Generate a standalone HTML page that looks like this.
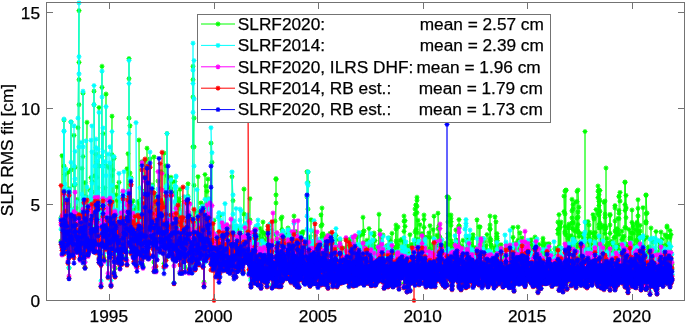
<!DOCTYPE html><html><head><meta charset="utf-8"><style>
html,body{margin:0;padding:0;background:#fff;overflow:hidden;}
svg{display:block;will-change:transform;}
text{font-family:"Liberation Sans",sans-serif;fill:#000;stroke:#000;stroke-width:0.25px;}
.tx{opacity:0.999;}
</style></head><body>
<svg width="685" height="323" viewBox="0 0 685 323">
<defs>
<marker id="mg" markerUnits="userSpaceOnUse" markerWidth="8" markerHeight="8" refX="0" refY="0" overflow="visible"><path d="M-2.5 0H2.5M0 -2.5V2.5M-1.7 -1.7L1.7 1.7M-1.7 1.7L1.7 -1.7" stroke="#00ff00" stroke-width="1.1" fill="none"/></marker><marker id="mc" markerUnits="userSpaceOnUse" markerWidth="8" markerHeight="8" refX="0" refY="0" overflow="visible"><path d="M-2.5 0H2.5M0 -2.5V2.5M-1.7 -1.7L1.7 1.7M-1.7 1.7L1.7 -1.7" stroke="#00ffff" stroke-width="1.1" fill="none"/></marker><marker id="mm" markerUnits="userSpaceOnUse" markerWidth="8" markerHeight="8" refX="0" refY="0" overflow="visible"><path d="M-2.5 0H2.5M0 -2.5V2.5M-1.7 -1.7L1.7 1.7M-1.7 1.7L1.7 -1.7" stroke="#ff00ff" stroke-width="1.1" fill="none"/></marker><marker id="mr" markerUnits="userSpaceOnUse" markerWidth="8" markerHeight="8" refX="0" refY="0" overflow="visible"><path d="M-2.5 0H2.5M0 -2.5V2.5M-1.7 -1.7L1.7 1.7M-1.7 1.7L1.7 -1.7" stroke="#ff0000" stroke-width="1.1" fill="none"/></marker><marker id="mb" markerUnits="userSpaceOnUse" markerWidth="8" markerHeight="8" refX="0" refY="0" overflow="visible"><path d="M-2.5 0H2.5M0 -2.5V2.5M-1.7 -1.7L1.7 1.7M-1.7 1.7L1.7 -1.7" stroke="#0000ff" stroke-width="1.1" fill="none"/></marker><clipPath id="ax"><rect x="40" y="0" width="650" height="306"/></clipPath></defs>
<g clip-path="url(#ax)" fill="none" stroke-width="0.75">
<polyline points="61,241.1 61,217.7 62,222.9 62,155.7 62,244.5 63,248.1 63,219.1 63,227.3 63,222.0 64,120.0 64,166.1 64,219.7 64,204.4 65,229.4 65,246.3 65,190.8 65,174.5 66,238.0 66,223.3 66,213.2 67,224.2 67,196.7 67,216.1 67,243.4 68,250.5 68,233.9 68,172.2 68,217.7 69,255.6 69,267.9 69,205.1 69,188.8 70,247.0 70,208.5 70,235.1 71,235.9 71,211.9 71,121.9 71,169.9 72,238.7 72,224.3 72,235.3 72,213.2 73,241.7 73,238.4 73,215.9 73,223.7 74,213.7 74,135.4 74,185.3 75,167.3 75,230.6 75,184.6 75,208.0 76,222.7 76,248.0 76,207.9 76,214.9 77,248.9 77,199.4 77,238.0 77,246.0 78,235.7 78,215.2 78,127.7 79,10.6 79,62.4 79,79.7 79,104.7 80,254.0 80,249.2 80,230.9 80,222.7 81,231.3 81,226.2 81,220.1 81,251.6 82,168.3 82,211.2 82,241.3 83,233.1 83,93.1 83,156.5 83,231.8 84,228.1 84,240.6 84,196.6 84,212.1 85,223.5 85,211.9 85,182.6 85,267.4 86,233.0 86,197.1 86,217.2 87,122.3 87,232.8 87,203.9 87,241.1 88,252.4 88,252.6 88,203.8 88,238.9 89,208.4 89,231.5 89,250.6 90,221.6 90,190.3 90,237.6 90,241.2 91,177.6 91,227.2 91,224.3 91,241.2 92,228.7 92,233.9 92,192.1 92,181.6 93,206.2 93,206.6 93,218.5 94,231.3 94,236.0 94,91.2 94,104.7 95,175.7 95,229.0 95,209.7 95,235.3 96,165.6 96,230.6 96,228.1 96,154.2 97,177.4 97,161.4 97,225.4 98,187.7 98,206.8 98,203.5 98,217.6 99,230.2 99,229.3 99,107.5 99,166.1 100,250.6 100,245.2 100,225.6 100,204.3 101,242.0 101,243.0 101,286.0 102,66.3 102,87.4 102,156.5 102,238.5 103,133.6 103,198.6 103,165.9 103,237.1 104,257.1 104,228.4 104,231.9 104,203.8 105,232.7 105,187.8 105,230.1 106,222.3 106,215.2 106,94.1 106,166.1 107,231.2 107,215.2 107,225.2 107,228.1 108,229.6 108,222.2 108,261.5 108,239.8 109,198.9 109,218.3 109,167.7 110,164.7 110,231.0 110,198.6 110,211.1 111,285.0 111,236.1 111,231.5 111,215.7 112,116.2 112,175.7 112,229.4 112,154.7 113,169.9 113,239.1 113,209.0 114,244.9 114,158.4 114,272.4 114,220.2 115,212.7 115,268.1 115,225.1 115,221.0 116,220.4 116,219.2 116,195.1 117,186.9 117,237.6 117,240.6 117,200.5 118,257.1 118,218.7 118,253.8 118,261.9 119,237.0 119,182.4 119,231.8 119,253.0 120,232.5 120,251.9 120,253.7 121,254.0 121,261.5 121,214.8 121,232.3 122,240.5 122,257.3 122,260.7 122,250.6 123,192.5 123,242.9 123,235.9 123,215.5 124,225.3 124,241.9 124,239.1 125,224.0 125,229.5 125,222.2 125,217.5 126,207.0 126,257.5 126,232.6 126,199.6 127,202.6 127,217.2 127,168.7 127,251.7 128,216.7 128,209.2 128,153.7 129,205.1 129,58.6 129,78.7 129,118.1 130,125.8 130,243.1 130,173.0 130,184.2 131,240.5 131,177.7 131,206.4 131,241.5 132,236.6 132,210.5 132,204.9 133,200.8 133,231.8 133,255.4 133,209.1 134,232.3 134,256.8 134,257.1 134,248.3 135,229.5 135,207.0 135,230.6 135,208.4 136,248.6 136,232.6 136,253.0 137,228.2 137,212.4 137,266.0 137,252.5 138,221.2 138,202.9 138,247.1 138,201.5 139,232.6 139,214.9 139,223.7 139,140.1 140,260.2 140,203.6 140,228.3 141,238.1 141,207.3 141,220.8 141,199.5 142,263.6 142,242.8 142,161.7 142,211.8 143,203.9 143,234.4 143,230.9 143,266.4 144,245.7 144,223.6 144,224.4 145,160.5 145,204.4 145,190.9 145,174.2 146,244.9 146,254.6 146,207.8 146,231.6 147,183.9 147,148.2 147,237.4 148,218.8 148,179.3 148,190.9 148,245.4 149,219.4 149,256.6 149,196.2 149,233.9 150,158.9 150,224.8 150,205.0 150,208.6 151,230.4 151,190.4 151,191.0 152,185.1 152,221.1 152,204.3 152,236.1 153,202.8 153,235.3 153,243.1 153,237.0 154,262.1 154,156.9 154,218.4 154,227.7 155,211.1 155,230.6 155,194.5 156,270.3 156,236.0 156,238.4 156,207.2 157,197.6 157,231.4 157,238.0 157,251.2 158,193.5 158,211.0 158,181.0 158,214.0 159,206.8 159,212.9 159,232.1 160,218.1 160,188.8 160,237.0 160,203.5 161,205.8 161,219.0 161,210.8 161,171.6 162,225.4 162,239.5 162,213.2 162,224.9 163,225.4 163,241.2 163,246.7 164,263.5 164,234.4 164,231.6 164,153.1 165,246.2 165,231.7 165,217.8 165,203.1 166,258.6 166,189.2 166,165.8 166,224.0 167,220.8 167,133.5 167,175.7 168,244.3 168,232.4 168,223.2 168,237.3 169,222.1 169,242.8 169,240.5 169,240.3 170,231.6 170,227.6 170,187.2 170,178.5 171,215.1 171,177.3 171,188.8 172,181.9 172,231.6 172,240.1 172,243.4 173,231.9 173,221.3 173,250.1 173,241.5 174,282.8 174,226.7 174,237.5 175,229.8 175,181.5 175,192.4 175,234.8 176,192.0 176,196.2 176,253.8 176,194.0 177,223.0 177,223.2 177,234.4 177,249.8 178,230.2 178,255.2 178,236.4 179,198.9 179,253.8 179,244.8 179,201.4 180,272.8 180,249.3 180,248.9 180,189.3 181,231.5 181,245.6 181,242.9 181,232.6 182,237.9 182,257.8 182,231.9 183,224.6 183,252.9 183,247.8 183,213.4 184,202.0 184,213.2 184,253.2 184,217.4 185,223.6 185,254.8 185,229.6 185,267.2 186,213.1 186,229.4 186,232.1 187,200.6 187,197.3 187,240.0 187,216.6 188,183.8 188,196.3 188,232.4 188,237.6 189,260.9 189,234.2 189,229.7 189,213.0 190,216.1 190,251.0 190,264.8 191,239.4 191,256.6 191,247.3 191,246.3 192,218.3 192,259.0 192,247.4 192,257.1 193,79.7 193,66.3 193,97.0 193,146.9 194,118.1 194,146.9 194,185.3 195,238.3 195,253.0 195,264.0 195,245.7 196,244.9 196,232.9 196,212.1 196,263.8 197,244.0 197,237.6 197,221.7 197,252.7 198,247.1 198,176.7 198,214.0 199,221.0 199,233.6 199,257.0 199,232.3 200,251.3 200,251.7 200,255.7 200,243.8 201,202.9 201,227.7 201,208.3 201,237.7 202,225.3 202,230.9 202,239.3 203,210.8 203,244.3 203,239.4 203,205.4 204,240.5 204,282.2 204,241.3 204,208.6 205,237.2 205,174.5 205,232.6 206,252.2 206,244.9 206,228.3 206,186.1 207,255.5 207,225.8 207,223.5 207,191.4 208,179.1 208,240.4 208,226.0 208,215.3 209,198.9 209,214.0 209,249.4 210,253.7 210,233.3 210,226.3 210,226.5 211,245.6 211,225.8 211,262.8 211,143.1 212,162.3 212,249.0 212,243.0 212,229.1 213,259.2 213,252.2 213,268.8 214,249.3 214,220.3 214,264.1 214,255.3 215,256.1 215,252.2 215,249.9 215,259.3 216,276.3 216,260.2 216,237.3 216,246.7 217,267.9 217,254.9 217,235.6 218,256.4 218,233.8 218,273.3 218,234.3 219,259.2 219,233.9 219,269.7 219,276.6 220,264.3 220,215.5 220,253.2 220,251.9 221,264.2 221,261.7 221,242.3 222,228.4 222,249.0 222,247.2 222,243.3 223,254.4 223,248.9 223,233.1 223,255.9 224,234.7 224,231.9 224,264.3 224,247.8 225,260.4 225,255.6 225,236.5 226,236.6 226,248.2 226,264.8 226,266.1 227,248.8 227,268.0 227,231.6 227,226.7 228,257.9 228,259.6 228,232.7 228,252.2 229,271.2 229,264.2 229,245.5 230,260.9 230,249.5 230,249.9 230,234.3 231,235.3 231,226.5 231,241.8 231,248.5 232,244.5 232,254.4 232,176.7 233,200.7 233,242.3 233,230.7 233,241.7 234,251.7 234,230.5 234,273.9 234,252.2 235,253.0 235,243.8 235,255.5 235,240.6 236,244.9 236,242.8 236,270.5 237,255.9 237,239.0 237,237.1 237,257.3 238,235.8 238,269.4 238,230.0 238,246.5 239,252.9 239,254.5 239,236.0 239,262.7 240,231.4 240,253.6 240,227.9 241,244.9 241,248.2 241,250.2 241,247.6 242,263.6 242,235.6 242,250.6 242,255.5 243,272.9 243,239.5 243,253.4 243,261.6 244,189.1 244,214.1 244,237.7 245,245.6 245,248.1 245,257.7 245,238.6 246,228.3 246,247.6 246,234.6 246,251.7 247,259.1 247,234.8 247,248.8 247,244.6 248,247.6 248,232.5 248,243.3 249,253.8 249,236.0 249,257.6 249,273.3 250,198.7 250,219.9 250,247.3 250,249.0 250,265.2 251,285.4 251,259.1 251,278.2 251,259.5 251,256.8 251,233.6 251,254.1 252,241.9 252,254.8 252,242.6 252,252.3 252,261.4 252,263.1 253,276.9 253,269.7 253,259.9 253,235.6 253,260.3 253,257.5 253,266.8 254,262.7 254,269.8 254,264.2 254,252.6 254,267.1 254,255.6 255,228.6 255,278.5 255,282.8 255,254.0 255,240.3 255,230.0 255,254.9 256,235.0 256,253.0 256,253.9 256,266.4 256,228.1 256,267.4 257,255.8 257,274.6 257,242.8 257,258.1 257,274.9 257,276.0 257,252.5 258,281.4 258,263.7 258,259.1 258,276.0 258,270.7 258,276.7 259,274.2 259,269.3 259,235.7 259,265.4 259,257.2 259,272.3 259,255.7 260,263.5 260,272.1 260,252.4 260,268.6 260,228.3 260,268.4 261,272.8 261,273.9 261,287.5 261,256.3 261,262.5 261,277.7 261,285.3 262,249.5 262,271.2 262,239.0 262,231.7 262,251.7 262,240.2 263,222.0 263,261.2 263,262.7 263,232.7 263,277.7 263,248.4 263,260.3 264,252.4 264,274.6 264,253.6 264,240.5 264,271.2 264,264.1 265,270.9 265,278.9 265,278.5 265,276.8 265,269.8 265,233.4 266,266.8 266,279.7 266,234.7 266,272.9 266,262.7 266,273.4 266,269.4 267,262.4 267,277.5 267,271.3 267,283.6 267,274.2 267,262.9 268,231.2 268,243.2 268,243.1 268,237.7 268,245.6 268,226.0 268,251.8 269,243.8 269,246.1 269,263.8 269,266.4 269,234.6 269,272.3 270,254.0 270,277.1 270,262.7 270,242.4 270,266.6 270,257.8 270,257.4 271,258.7 271,255.7 271,230.7 271,235.1 271,258.9 271,262.9 272,257.2 272,255.2 272,256.9 272,262.6 272,255.7 272,240.6 272,285.3 273,272.5 273,264.7 273,267.5 273,270.1 273,270.1 273,254.7 274,266.2 274,254.1 274,281.6 274,251.7 274,256.7 274,250.7 274,269.9 275,255.1 275,252.0 275,272.4 275,256.8 275,272.5 275,221.1 276,203.0 276,178.6 276,179.5 276,194.9 276,279.1 276,271.7 276,234.4 277,269.2 277,249.0 277,245.3 277,234.5 277,242.4 277,273.0 278,269.3 278,254.7 278,247.9 278,249.5 278,241.3 278,255.8 278,264.7 279,257.1 279,251.0 279,265.5 279,254.1 279,277.2 279,273.0 280,245.4 280,261.5 280,239.8 280,240.4 280,275.3 280,278.6 280,266.0 281,279.5 281,267.3 281,275.6 281,248.0 281,246.1 281,218.7 282,229.6 282,217.0 282,259.5 282,279.1 282,274.4 282,281.1 282,268.4 283,231.5 283,260.3 283,274.0 283,263.8 283,252.2 283,248.8 284,272.2 284,251.8 284,245.5 284,252.7 284,264.5 284,263.0 284,246.3 285,254.6 285,271.2 285,271.6 285,270.6 285,238.9 285,272.3 286,246.1 286,234.8 286,256.7 286,264.3 286,264.5 286,246.7 286,259.9 287,256.8 287,253.7 287,258.4 287,268.6 287,271.2 287,259.3 288,265.5 288,244.2 288,248.4 288,228.0 288,239.6 288,246.9 288,233.7 289,245.4 289,234.5 289,243.7 289,255.3 289,257.7 289,233.0 290,261.6 290,260.2 290,254.4 290,271.7 290,279.8 290,268.3 290,271.0 291,255.5 291,274.5 291,252.7 291,279.9 291,243.1 291,263.4 292,266.8 292,242.8 292,237.1 292,245.1 292,261.7 292,239.2 292,269.1 293,276.9 293,281.1 293,256.7 293,249.8 293,240.8 293,236.7 294,274.3 294,242.7 294,250.0 294,277.4 294,256.6 294,264.5 294,216.0 295,256.7 295,283.7 295,280.4 295,258.3 295,265.5 295,276.9 296,250.1 296,231.4 296,241.9 296,263.0 296,257.7 296,271.3 296,254.2 297,283.6 297,240.8 297,234.4 297,284.2 297,261.8 297,266.7 298,241.8 298,248.2 298,241.8 298,237.1 298,262.9 298,268.1 299,286.9 299,262.9 299,276.2 299,260.2 299,253.0 299,267.0 299,255.6 300,246.3 300,241.0 300,271.2 300,274.9 300,245.6 300,259.6 301,242.8 301,266.2 301,233.2 301,255.8 301,235.8 301,271.1 301,274.5 302,233.8 302,254.6 302,265.4 302,254.2 302,271.0 302,234.4 303,259.0 303,256.2 303,268.9 303,231.7 303,259.4 303,247.4 303,250.0 304,253.7 304,263.7 304,274.5 304,273.8 304,260.5 304,262.9 305,265.6 305,278.9 305,268.7 305,281.0 305,268.2 305,260.9 305,240.1 306,245.5 306,273.6 306,249.9 306,280.2 306,277.2 306,249.5 307,258.7 307,263.5 307,262.9 307,267.6 307,266.0 307,197.0 307,171.8 308,209.1 308,171.9 308,182.7 308,255.7 308,257.4 308,282.8 309,247.9 309,260.5 309,277.0 309,246.9 309,270.4 309,267.9 309,250.5 310,236.8 310,240.6 310,268.7 310,285.0 310,259.8 310,283.4 311,275.7 311,258.8 311,262.8 311,248.0 311,219.7 311,270.1 311,248.6 312,273.8 312,252.8 312,257.5 312,274.2 312,247.0 312,257.6 313,242.6 313,283.5 313,269.4 313,255.0 313,279.0 313,266.7 313,265.3 314,265.7 314,253.0 314,231.5 314,250.3 314,241.6 314,269.4 315,270.1 315,269.6 315,260.9 315,235.5 315,259.2 315,271.2 315,271.5 316,252.0 316,266.3 316,271.3 316,248.6 316,280.7 316,248.3 317,259.5 317,259.2 317,271.6 317,251.1 317,269.7 317,240.3 317,269.5 318,250.2 318,260.6 318,246.5 318,268.0 318,251.5 318,286.3 319,278.4 319,260.2 319,268.3 319,250.5 319,263.2 319,243.8 319,253.4 320,249.3 320,243.0 320,248.2 320,274.3 320,268.2 320,254.5 321,276.1 321,272.5 321,283.9 321,274.6 321,278.4 321,226.0 321,214.8 322,224.7 322,208.0 322,237.4 322,234.6 322,246.6 322,237.1 323,264.7 323,259.2 323,270.9 323,282.7 323,233.7 323,269.5 323,254.9 324,255.8 324,258.8 324,279.6 324,251.2 324,264.3 324,256.8 325,264.7 325,263.5 325,272.0 325,254.3 325,266.7 325,278.4 325,265.3 326,243.3 326,236.4 326,244.5 326,239.9 326,250.0 326,252.4 327,267.4 327,269.2 327,263.1 327,256.3 327,264.4 327,264.5 327,259.9 328,266.3 328,260.7 328,274.5 328,287.5 328,239.4 328,246.2 329,256.7 329,264.3 329,271.4 329,268.5 329,262.3 329,280.5 329,272.4 330,272.8 330,258.8 330,253.5 330,258.6 330,243.0 330,233.4 331,242.6 331,235.5 331,277.0 331,255.6 331,272.5 331,269.1 331,260.1 332,270.8 332,272.6 332,238.8 332,244.6 332,248.6 332,253.4 333,272.3 333,283.2 333,274.1 333,277.2 333,271.2 333,277.0 334,269.4 334,262.4 334,267.3 334,281.2 334,274.6 334,257.7 334,255.7 335,255.7 335,251.3 335,244.6 335,272.1 335,276.8 335,266.2 336,235.5 336,251.9 336,261.4 336,275.7 336,254.6 336,257.1 336,239.6 337,279.2 337,263.1 337,246.8 337,269.5 337,276.7 337,265.8 338,270.9 338,252.0 338,269.0 338,263.1 338,275.3 338,261.0 338,272.0 339,260.9 339,269.8 339,254.8 339,266.4 339,277.7 339,267.6 340,270.0 340,269.0 340,274.8 340,245.1 340,245.4 340,240.2 340,265.2 341,266.4 341,248.9 341,265.8 341,278.2 341,275.7 341,265.7 342,254.5 342,276.0 342,278.5 342,268.6 342,270.3 342,263.9 342,270.3 343,278.9 343,274.7 343,262.2 343,267.4 343,281.4 343,254.9 344,265.9 344,262.4 344,248.2 344,255.1 344,253.3 344,272.0 344,281.8 345,276.4 345,266.8 345,256.8 345,275.7 345,262.8 345,256.9 346,249.1 346,251.8 346,266.2 346,256.1 346,274.6 346,238.6 346,268.4 347,276.3 347,276.8 347,267.9 347,250.6 347,263.3 347,266.8 348,265.5 348,266.4 348,279.9 348,256.5 348,272.5 348,262.7 348,265.7 349,259.5 349,264.9 349,272.5 349,286.2 349,272.2 349,245.6 350,272.1 350,258.5 350,263.8 350,268.5 350,279.4 350,248.1 350,239.2 351,276.5 351,252.5 351,249.9 351,270.1 351,275.4 351,255.5 352,255.4 352,241.1 352,247.4 352,264.9 352,261.9 352,273.9 352,268.4 353,265.6 353,285.1 353,260.1 353,257.8 353,245.3 353,255.7 354,274.9 354,265.0 354,275.6 354,282.8 354,267.4 354,281.1 354,260.3 355,252.2 355,246.0 355,267.8 355,244.5 355,264.1 355,262.5 356,274.3 356,260.1 356,267.9 356,258.4 356,277.6 356,274.2 356,270.6 357,270.0 357,271.0 357,247.5 357,236.9 357,263.8 357,236.7 358,249.9 358,257.8 358,247.5 358,278.3 358,260.3 358,274.2 358,274.3 359,262.7 359,251.6 359,246.9 359,266.4 359,252.7 359,276.2 360,269.4 360,266.5 360,278.1 360,235.5 360,246.0 360,246.0 360,270.1 361,260.3 361,251.4 361,259.1 361,252.6 361,278.9 361,263.7 362,249.9 362,261.2 362,270.6 362,253.3 362,260.2 362,276.1 362,268.9 363,270.7 363,256.5 363,258.1 363,232.2 363,234.5 363,217.3 364,230.9 364,242.7 364,284.8 364,268.3 364,272.1 364,271.9 364,271.3 365,271.3 365,268.4 365,262.7 365,274.1 365,247.9 365,259.5 366,271.4 366,249.1 366,261.9 366,246.9 366,251.3 366,270.3 367,251.6 367,240.3 367,256.1 367,264.6 367,266.9 367,260.4 367,267.8 368,265.0 368,279.9 368,273.6 368,262.2 368,265.5 368,267.0 369,264.4 369,274.3 369,258.0 369,228.5 369,268.6 369,264.8 369,260.3 370,244.0 370,251.0 370,245.4 370,242.4 370,257.0 370,246.7 371,270.3 371,277.8 371,244.9 371,272.1 371,285.0 371,253.1 371,270.6 372,265.3 372,268.4 372,266.6 372,283.1 372,266.5 372,271.2 373,262.5 373,270.5 373,268.3 373,276.3 373,247.0 373,254.4 373,268.8 374,259.0 374,278.6 374,248.8 374,235.4 374,246.3 374,233.0 375,240.6 375,251.6 375,253.9 375,277.9 375,266.0 375,267.2 375,270.8 376,268.6 376,268.0 376,260.4 376,263.9 376,282.6 376,283.8 377,247.0 377,267.9 377,272.1 377,269.9 377,269.2 377,259.9 377,252.5 378,268.7 378,274.0 378,274.9 378,268.1 378,249.9 378,265.4 379,214.3 379,250.4 379,272.4 379,259.6 379,245.6 379,263.6 379,256.2 380,274.9 380,247.9 380,251.9 380,253.0 380,275.7 380,230.5 381,255.0 381,260.1 381,237.3 381,243.5 381,267.6 381,249.4 381,272.6 382,264.5 382,250.9 382,250.3 382,253.9 382,250.6 382,247.8 383,235.0 383,256.4 383,270.7 383,274.1 383,275.2 383,252.8 383,256.0 384,268.4 384,278.6 384,276.1 384,252.8 384,254.5 384,267.0 385,267.7 385,259.9 385,255.6 385,265.7 385,263.8 385,267.6 385,282.2 386,284.6 386,271.6 386,254.7 386,264.6 386,251.4 386,257.5 387,272.3 387,276.0 387,259.0 387,266.3 387,245.5 387,250.3 387,282.6 388,256.9 388,257.6 388,275.2 388,275.0 388,286.0 388,251.0 389,264.5 389,274.7 389,267.7 389,238.0 389,245.6 389,254.5 389,262.6 390,259.0 390,240.5 390,256.8 390,275.9 390,278.2 390,256.6 391,252.1 391,257.9 391,275.2 391,247.3 391,273.7 391,255.5 391,272.2 392,256.5 392,269.4 392,258.7 392,272.6 392,233.3 392,278.8 393,266.1 393,260.1 393,272.1 393,265.1 393,255.7 393,284.2 393,282.9 394,279.8 394,264.8 394,266.6 394,266.5 394,262.3 394,248.1 395,253.8 395,261.1 395,279.4 395,281.4 395,267.4 395,269.9 395,261.5 396,229.0 396,251.3 396,241.1 396,246.8 396,225.0 396,261.3 397,261.8 397,264.8 397,255.6 397,261.4 397,246.4 397,243.6 397,247.2 398,227.0 398,255.2 398,254.4 398,265.1 398,245.9 398,269.4 399,281.9 399,258.3 399,272.7 399,264.0 399,284.8 399,278.6 400,265.8 400,273.5 400,263.4 400,240.3 400,268.0 400,273.1 400,263.0 401,257.0 401,260.3 401,260.8 401,271.6 401,270.6 401,277.5 402,269.7 402,261.1 402,253.7 402,262.4 402,239.2 402,272.0 402,275.8 403,273.0 403,259.1 403,240.2 403,250.9 403,254.7 403,259.1 404,253.1 404,283.6 404,258.3 404,241.5 404,221.2 404,216.0 404,231.4 405,220.6 405,226.4 405,263.8 405,260.4 405,248.4 405,259.0 406,260.0 406,266.7 406,279.5 406,257.0 406,250.3 406,253.3 406,273.1 407,282.5 407,288.6 407,245.9 407,260.2 407,271.3 407,249.5 408,259.6 408,284.6 408,263.8 408,268.5 408,259.3 408,269.6 408,258.7 409,248.4 409,270.3 409,274.5 409,255.6 409,256.0 409,256.3 410,234.7 410,279.4 410,289.9 410,263.2 410,267.8 410,266.1 410,269.8 411,270.4 411,252.1 411,276.1 411,276.4 411,248.5 411,257.5 412,260.6 412,272.6 412,245.1 412,244.4 412,263.1 412,276.2 412,261.5 413,248.8 413,267.8 413,256.7 413,265.0 413,270.7 413,277.8 414,261.7 414,247.6 414,279.8 414,252.6 414,263.1 414,251.0 414,261.1 415,260.6 415,232.0 415,260.8 415,209.0 415,214.2 415,241.8 416,229.5 416,205.0 416,205.0 416,274.5 416,273.8 416,239.3 416,254.5 417,272.9 417,206.3 417,200.3 417,197.3 417,212.7 417,232.7 418,220.3 418,239.6 418,243.8 418,243.5 418,256.2 418,259.4 418,244.0 419,273.5 419,278.3 419,262.9 419,281.4 419,256.9 419,245.0 420,224.7 420,244.3 420,258.3 420,256.7 420,269.8 420,268.0 420,279.4 421,266.2 421,260.7 421,253.8 421,257.1 421,258.2 421,259.1 422,264.5 422,259.5 422,250.9 422,233.5 422,248.9 422,277.4 422,263.2 423,273.8 423,243.6 423,251.6 423,268.2 423,265.4 423,244.3 424,215.0 424,237.0 424,247.1 424,219.4 424,227.4 424,267.4 424,253.9 425,263.3 425,247.1 425,245.1 425,245.6 425,259.6 425,268.5 426,273.7 426,284.5 426,280.9 426,252.4 426,263.5 426,274.6 426,271.2 427,267.0 427,236.9 427,274.4 427,272.2 427,283.2 427,272.2 428,255.5 428,267.3 428,269.8 428,272.3 428,278.1 428,265.1 428,264.2 429,254.7 429,269.2 429,269.5 429,232.9 429,279.6 429,263.7 430,273.3 430,225.7 430,253.3 430,237.3 430,248.7 430,253.5 430,250.4 431,251.6 431,266.4 431,268.2 431,282.2 431,262.1 431,264.3 432,262.5 432,269.5 432,265.4 432,285.3 432,261.6 432,270.8 433,282.5 433,261.6 433,279.1 433,244.9 433,272.0 433,229.7 433,279.6 434,266.0 434,250.8 434,259.4 434,265.0 434,216.2 434,255.5 435,259.2 435,268.0 435,249.3 435,278.9 435,279.9 435,271.6 435,279.4 436,264.5 436,272.4 436,258.9 436,257.6 436,245.1 436,264.9 437,265.4 437,267.2 437,273.4 437,271.8 437,274.5 437,258.4 437,235.3 438,257.7 438,249.3 438,257.5 438,276.8 438,228.7 438,213.2 439,236.8 439,225.7 439,235.8 439,243.6 439,264.0 439,269.6 439,260.3 440,259.1 440,237.7 440,251.3 440,250.1 440,244.2 440,254.1 441,264.6 441,268.0 441,264.3 441,276.9 441,243.1 441,267.0 441,264.2 442,245.4 442,257.5 442,252.6 442,277.7 442,267.4 442,273.8 443,273.5 443,282.2 443,278.7 443,273.5 443,278.7 443,282.2 443,267.1 444,264.8 444,255.2 444,270.5 444,278.7 444,277.6 444,269.7 445,277.0 445,276.8 445,258.0 445,258.4 445,246.3 445,260.9 445,275.0 446,267.0 446,267.6 446,268.0 446,270.4 446,257.3 446,243.0 447,264.5 447,244.8 447,261.4 447,277.4 447,268.1 447,196.8 447,255.5 448,258.1 448,237.9 448,249.8 448,222.0 448,197.0 448,233.6 449,234.8 449,215.2 449,198.5 449,249.9 449,263.9 449,268.4 449,260.4 450,269.9 450,248.2 450,273.3 450,261.7 450,259.7 450,244.4 451,274.6 451,218.2 451,225.3 451,246.9 451,221.6 451,215.0 451,240.7 452,286.2 452,276.6 452,250.9 452,269.3 452,285.6 452,266.7 453,255.9 453,267.2 453,248.0 453,253.5 453,269.7 453,274.3 453,243.7 454,266.1 454,263.1 454,278.4 454,266.3 454,271.0 454,270.1 455,257.6 455,272.2 455,251.4 455,251.6 455,252.7 455,250.7 455,268.0 456,229.9 456,272.1 456,268.4 456,253.4 456,252.0 456,239.8 457,248.9 457,240.9 457,253.8 457,268.0 457,250.7 457,266.7 457,247.1 458,249.6 458,257.5 458,242.3 458,245.2 458,252.8 458,278.7 459,250.4 459,226.0 459,219.6 459,225.9 459,227.4 459,243.3 459,268.7 460,246.7 460,271.3 460,276.8 460,269.5 460,276.1 460,251.0 461,264.5 461,287.5 461,246.3 461,271.1 461,255.1 461,266.4 461,260.7 462,266.8 462,249.1 462,268.4 462,246.7 462,253.2 462,251.5 463,283.3 463,260.7 463,268.1 463,266.7 463,277.3 463,240.3 463,272.5 464,272.8 464,278.2 464,260.2 464,268.0 464,253.1 464,249.3 465,267.8 465,271.9 465,262.5 465,277.7 465,266.9 465,255.3 465,274.3 466,251.7 466,276.4 466,267.7 466,283.1 466,277.0 466,262.3 467,241.6 467,269.3 467,270.0 467,237.3 467,248.7 467,273.5 468,273.3 468,284.9 468,278.9 468,263.0 468,270.1 468,245.2 468,261.1 469,264.3 469,270.4 469,239.4 469,268.2 469,268.0 469,265.9 470,255.4 470,266.7 470,278.9 470,251.0 470,268.6 470,271.7 470,280.3 471,279.6 471,248.7 471,260.9 471,252.4 471,243.9 471,255.3 472,260.1 472,238.3 472,257.9 472,270.0 472,246.3 472,258.8 472,253.1 473,261.7 473,234.7 473,283.7 473,237.8 473,271.3 473,256.4 474,250.2 474,267.8 474,267.0 474,279.1 474,280.4 474,271.1 474,274.1 475,247.5 475,266.4 475,274.2 475,259.6 475,263.8 475,262.1 476,280.8 476,272.7 476,276.2 476,261.7 476,262.5 476,266.8 476,253.1 477,252.1 477,249.4 477,260.8 477,266.9 477,219.8 477,261.0 478,263.2 478,269.6 478,260.3 478,254.8 478,265.4 478,255.5 478,282.2 479,265.6 479,282.2 479,253.1 479,226.8 479,273.0 479,267.5 480,279.5 480,256.5 480,257.2 480,226.9 480,266.4 480,254.1 480,248.3 481,270.3 481,262.0 481,250.5 481,258.0 481,248.1 481,267.5 482,256.0 482,276.9 482,272.6 482,265.1 482,267.0 482,283.8 482,261.5 483,258.3 483,238.5 483,266.7 483,248.0 483,267.0 483,279.4 484,276.4 484,276.3 484,241.3 484,278.2 484,264.0 484,269.8 484,276.6 485,249.3 485,271.6 485,257.2 485,271.3 485,268.3 485,266.8 486,272.1 486,282.5 486,264.2 486,245.7 486,271.1 486,270.0 486,274.1 487,270.5 487,252.6 487,257.3 487,275.6 487,234.5 487,275.3 488,250.5 488,278.7 488,274.1 488,282.3 488,271.6 488,284.6 488,257.8 489,273.7 489,255.9 489,265.5 489,274.5 489,273.0 489,278.6 490,238.3 490,264.5 490,229.4 490,241.7 490,228.8 490,216.0 490,225.0 491,240.0 491,264.7 491,244.8 491,266.4 491,245.2 491,276.8 492,266.9 492,270.5 492,260.4 492,270.1 492,283.1 492,273.3 492,264.9 493,281.9 493,273.8 493,269.6 493,281.3 493,258.8 493,255.5 494,247.7 494,253.1 494,265.7 494,272.4 494,285.7 494,279.6 494,266.9 495,256.5 495,260.6 495,216.8 495,276.9 495,250.1 495,267.5 496,283.8 496,269.6 496,270.0 496,221.8 496,269.6 496,254.2 496,272.0 497,236.6 497,233.5 497,240.4 497,238.5 497,240.9 497,244.9 498,271.0 498,248.8 498,269.8 498,268.1 498,268.0 498,261.5 498,275.6 499,277.2 499,272.7 499,265.2 499,254.4 499,254.8 499,283.0 500,273.8 500,282.5 500,271.9 500,271.7 500,260.4 500,271.4 501,248.7 501,262.5 501,266.1 501,262.7 501,248.8 501,250.1 501,244.7 502,274.6 502,259.1 502,254.9 502,273.6 502,257.3 502,270.4 503,267.9 503,264.2 503,267.4 503,286.4 503,269.5 503,262.2 503,272.0 504,266.1 504,268.9 504,272.8 504,272.9 504,282.1 504,263.9 505,267.5 505,265.4 505,259.8 505,268.6 505,274.8 505,278.6 505,278.4 506,274.0 506,247.4 506,254.6 506,251.5 506,256.6 506,269.8 507,258.3 507,279.2 507,279.2 507,264.6 507,269.6 507,275.5 507,248.5 508,262.3 508,278.3 508,270.4 508,277.9 508,274.8 508,259.5 509,280.2 509,260.0 509,280.8 509,262.9 509,274.3 509,269.3 509,276.8 510,266.6 510,246.2 510,258.0 510,257.2 510,274.1 510,268.0 511,286.8 511,279.9 511,266.6 511,263.3 511,273.1 511,261.5 511,260.2 512,270.5 512,264.4 512,258.2 512,252.2 512,283.4 512,271.4 513,264.8 513,237.4 513,284.5 513,249.3 513,266.1 513,252.7 513,227.4 514,271.7 514,261.7 514,277.9 514,290.8 514,283.9 514,272.1 515,258.3 515,261.8 515,250.0 515,243.5 515,274.0 515,282.6 515,271.2 516,250.9 516,259.7 516,256.6 516,273.3 516,249.8 516,255.7 517,246.7 517,243.2 517,254.3 517,257.1 517,269.3 517,269.7 517,274.4 518,253.6 518,246.8 518,240.3 518,255.6 518,251.8 518,227.0 519,270.2 519,282.4 519,277.8 519,269.0 519,243.3 519,268.1 519,270.2 520,257.7 520,274.2 520,281.0 520,254.4 520,232.8 520,269.4 521,269.6 521,255.1 521,281.7 521,270.1 521,269.8 521,242.5 521,273.1 522,273.1 522,250.5 522,277.0 522,281.4 522,260.4 522,237.8 523,260.9 523,269.5 523,265.7 523,280.9 523,245.4 523,278.3 523,258.8 524,265.3 524,263.2 524,261.8 524,268.1 524,276.5 524,277.4 525,284.1 525,283.5 525,280.2 525,280.3 525,266.0 525,280.8 525,251.3 526,255.5 526,259.7 526,244.8 526,274.2 526,276.5 526,273.8 527,265.0 527,264.4 527,256.8 527,270.5 527,252.7 527,257.9 527,266.3 528,264.7 528,247.4 528,270.0 528,272.8 528,242.7 528,250.6 529,268.6 529,277.7 529,273.4 529,252.5 529,258.9 529,262.6 529,270.0 530,265.6 530,267.3 530,252.7 530,272.5 530,271.5 530,258.1 531,251.5 531,244.7 531,248.1 531,242.0 531,245.4 531,256.0 531,239.7 532,266.0 532,252.3 532,265.3 532,281.7 532,266.0 532,274.2 533,283.7 533,255.4 533,270.9 533,282.8 533,263.6 533,261.3 534,251.2 534,274.9 534,248.0 534,284.2 534,282.2 534,268.0 534,272.0 535,274.0 535,237.1 535,257.1 535,246.9 535,280.9 535,266.9 536,253.5 536,245.1 536,264.5 536,277.6 536,274.3 536,268.9 536,250.4 537,275.4 537,266.4 537,284.4 537,263.5 537,252.8 537,267.2 538,256.6 538,268.3 538,264.8 538,263.5 538,265.4 538,290.2 538,281.2 539,244.4 539,262.9 539,266.6 539,280.1 539,270.5 539,272.9 540,287.5 540,251.0 540,265.5 540,272.1 540,260.7 540,273.7 540,262.4 541,279.1 541,262.3 541,284.9 541,263.3 541,282.4 541,270.8 542,267.8 542,281.8 542,265.3 542,266.0 542,259.5 542,258.1 542,266.7 543,259.2 543,244.3 543,253.0 543,238.3 543,241.2 543,245.7 544,244.4 544,246.9 544,250.8 544,263.8 544,271.9 544,274.8 544,256.9 545,277.5 545,279.2 545,268.7 545,273.8 545,265.8 545,259.4 546,271.6 546,279.6 546,277.2 546,251.1 546,262.5 546,278.1 546,279.9 547,269.6 547,243.9 547,272.0 547,252.4 547,270.9 547,245.9 548,273.2 548,268.6 548,276.3 548,273.2 548,278.8 548,244.6 548,270.7 549,273.9 549,250.5 549,243.8 549,259.2 549,257.6 549,249.4 550,265.5 550,277.2 550,269.1 550,262.0 550,262.3 550,253.4 550,258.5 551,253.3 551,269.1 551,266.0 551,267.8 551,274.9 551,258.8 552,270.9 552,272.2 552,276.9 552,270.5 552,269.8 552,282.5 552,268.9 553,263.6 553,262.1 553,270.6 553,270.7 553,276.6 553,264.4 554,269.0 554,270.0 554,275.4 554,263.2 554,273.9 554,282.4 554,270.6 555,268.6 555,257.4 555,256.5 555,248.2 555,249.2 555,263.0 556,271.7 556,270.5 556,266.8 556,264.8 556,279.1 556,277.1 556,276.3 557,254.4 557,254.9 557,258.5 557,280.7 557,257.2 557,269.4 558,263.0 558,250.9 558,272.5 558,229.7 558,222.1 558,233.6 558,229.5 559,246.8 559,214.6 559,286.7 559,264.4 559,277.4 559,265.4 560,272.2 560,248.0 560,257.0 560,223.8 560,227.6 560,224.6 560,249.4 561,222.0 561,266.4 561,262.4 561,281.5 561,279.0 561,286.6 562,282.3 562,260.9 562,263.6 562,273.3 562,260.8 562,268.8 562,272.7 563,274.7 563,268.7 563,290.4 563,284.3 563,272.6 563,261.9 564,261.8 564,267.6 564,279.9 564,268.5 564,261.0 564,211.6 564,196.1 565,226.6 565,233.7 565,231.2 565,213.9 565,191.1 565,232.2 566,190.4 566,190.0 566,254.4 566,257.0 566,268.1 566,234.8 567,249.0 567,282.0 567,272.0 567,272.7 567,246.4 567,262.6 567,270.2 568,275.7 568,269.7 568,227.8 568,264.8 568,238.1 568,275.0 569,248.9 569,252.7 569,225.7 569,247.5 569,253.9 569,247.0 569,224.1 570,259.8 570,265.7 570,250.8 570,271.4 570,264.8 570,246.1 571,256.4 571,253.9 571,274.8 571,265.2 571,279.2 571,270.3 571,235.7 572,257.5 572,222.8 572,199.3 572,210.9 572,217.9 572,228.1 573,229.4 573,204.7 573,208.8 573,222.1 573,223.4 573,251.2 573,263.0 574,271.3 574,257.1 574,280.9 574,243.5 574,237.9 574,267.0 575,230.9 575,260.7 575,255.3 575,202.0 575,242.0 575,257.6 575,271.8 576,269.6 576,276.2 576,264.5 576,279.8 576,274.1 576,287.0 577,246.2 577,257.2 577,201.6 577,191.3 577,230.7 577,227.2 577,218.2 578,211.8 578,231.0 578,231.8 578,224.5 578,217.1 578,190.0 579,207.2 579,233.1 579,236.5 579,243.8 579,276.0 579,259.8 579,258.3 580,264.4 580,272.0 580,257.8 580,272.5 580,275.6 580,256.3 581,281.5 581,241.9 581,263.0 581,278.6 581,265.7 581,260.5 581,248.2 582,263.1 582,266.1 582,254.7 582,233.8 582,256.5 582,271.2 583,250.5 583,263.8 583,236.8 583,252.1 583,272.1 583,253.0 583,258.5 584,265.9 584,255.9 584,260.5 584,269.9 584,266.0 584,269.9 585,279.2 585,249.3 585,277.6 585,259.8 585,131.5 585,254.7 585,269.0 586,263.1 586,266.6 586,268.4 586,253.7 586,222.3 586,258.0 587,270.8 587,251.3 587,266.4 587,273.8 587,261.2 587,286.9 587,258.2 588,269.8 588,221.6 588,264.2 588,263.6 588,282.9 588,249.0 589,250.4 589,237.5 589,265.7 589,225.0 589,234.4 589,242.0 589,239.7 590,232.2 590,269.5 590,274.1 590,271.6 590,240.6 590,248.5 591,239.9 591,244.4 591,257.3 591,276.6 591,277.2 591,268.0 591,268.8 592,257.8 592,284.2 592,265.0 592,275.7 592,271.7 592,271.8 593,250.2 593,251.9 593,268.9 593,257.8 593,275.9 593,214.7 593,233.5 594,219.0 594,217.6 594,236.5 594,259.4 594,257.4 594,263.7 595,262.4 595,268.6 595,253.5 595,256.6 595,232.4 595,260.5 595,249.2 596,272.4 596,257.5 596,252.8 596,209.5 596,269.8 596,236.9 597,259.0 597,280.6 597,267.1 597,275.5 597,244.1 597,260.3 597,276.4 598,262.9 598,281.3 598,191.2 598,186.0 598,213.2 598,197.6 599,215.1 599,224.8 599,205.5 599,227.8 599,201.4 599,194.7 599,189.9 600,211.3 600,226.4 600,190.5 600,265.4 600,223.4 600,200.2 601,281.0 601,273.3 601,264.0 601,274.2 601,227.3 601,263.4 602,265.5 602,268.1 602,268.1 602,252.4 602,282.5 602,259.4 602,247.6 603,278.8 603,272.5 603,264.0 603,225.8 603,246.2 603,268.1 604,251.2 604,285.0 604,274.6 604,264.9 604,266.4 604,260.6 604,202.3 605,217.2 605,214.0 605,225.9 605,233.5 605,229.2 605,201.0 606,227.9 606,271.7 606,280.8 606,285.1 606,255.8 606,168.0 606,246.9 607,269.4 607,245.2 607,281.6 607,238.3 607,270.7 607,275.2 608,249.5 608,248.3 608,282.5 608,265.2 608,243.2 608,264.8 608,263.5 609,282.0 609,243.0 609,256.3 609,271.5 609,267.3 609,281.7 610,225.0 610,214.4 610,233.4 610,215.5 610,243.1 610,259.7 610,288.8 611,274.7 611,253.5 611,271.4 611,271.4 611,274.3 611,272.2 612,253.7 612,281.8 612,265.0 612,241.2 612,270.5 612,264.0 612,242.7 613,266.3 613,245.0 613,254.7 613,245.2 613,278.3 613,283.7 614,281.9 614,272.2 614,268.2 614,261.4 614,285.3 614,272.8 614,237.5 615,208.0 615,205.6 615,231.0 615,237.2 615,221.0 615,252.5 616,256.8 616,248.0 616,257.0 616,274.0 616,286.1 616,231.6 616,265.3 617,246.7 617,255.4 617,253.0 617,267.6 617,258.6 617,228.6 618,248.9 618,261.6 618,270.6 618,274.5 618,234.3 618,218.4 618,230.1 619,234.2 619,218.7 619,210.4 619,213.2 619,196.7 619,196.2 620,192.4 620,201.1 620,244.9 620,265.3 620,257.2 620,253.5 620,256.1 621,252.2 621,274.5 621,266.2 621,268.2 621,251.1 621,247.7 622,245.3 622,256.9 622,257.4 622,239.6 622,263.1 622,231.0 622,260.6 623,265.6 623,279.0 623,268.7 623,279.5 623,258.2 623,237.1 624,268.2 624,268.8 624,262.0 624,236.2 624,274.3 624,269.1 624,275.9 625,251.3 625,204.6 625,182.4 625,210.5 625,227.4 625,182.0 626,217.7 626,228.0 626,207.3 626,195.4 626,208.7 626,244.1 626,267.0 627,272.5 627,246.2 627,263.8 627,274.4 627,254.0 627,271.5 628,245.1 628,265.2 628,269.2 628,257.0 628,292.2 628,277.0 628,287.5 629,259.0 629,270.7 629,273.0 629,276.1 629,229.5 629,270.0 630,260.6 630,257.9 630,274.5 630,268.2 630,269.0 630,239.3 630,237.7 631,251.2 631,239.0 631,271.7 631,232.7 631,276.1 631,279.2 632,273.3 632,271.4 632,269.5 632,233.0 632,222.4 632,210.0 632,245.8 633,224.8 633,227.0 633,278.7 633,274.6 633,258.1 633,285.1 634,277.7 634,277.5 634,233.0 634,246.1 634,256.7 634,275.3 635,229.5 635,255.3 635,252.5 635,284.0 635,277.8 635,283.3 635,282.0 636,284.9 636,258.5 636,263.4 636,240.6 636,268.8 636,257.5 637,271.6 637,225.7 637,263.1 637,280.4 637,222.3 637,262.7 637,223.3 638,208.3 638,239.3 638,238.9 638,215.9 638,230.9 638,199.7 639,234.9 639,242.3 639,261.2 639,273.9 639,277.3 639,280.7 639,272.0 640,252.7 640,231.1 640,265.2 640,276.7 640,260.2 640,225.4 641,257.7 641,259.7 641,282.3 641,279.5 641,255.7 641,257.0 641,252.6 642,258.2 642,279.0 642,266.1 642,278.6 642,286.1 642,269.3 643,255.7 643,245.7 643,275.3 643,207.7 643,250.9 643,268.7 643,249.5 644,249.3 644,278.1 644,270.0 644,239.3 644,239.0 644,263.8 645,265.3 645,249.8 645,261.8 645,269.1 645,263.2 645,273.3 645,251.1 646,221.6 646,223.2 646,213.7 646,195.3 646,222.0 646,194.9 647,213.1 647,237.3 647,265.6 647,285.5 647,265.4 647,267.9 647,268.8 648,255.4 648,271.2 648,248.0 648,275.7 648,280.3 648,255.4 649,251.2 649,281.3 649,270.4 649,254.1 649,246.8 649,271.8 649,262.7 650,251.3 650,249.5 650,260.4 650,258.2 650,263.1 650,292.8 651,275.3 651,271.8 651,278.8 651,255.0 651,228.0 651,255.6 651,249.8 652,270.6 652,272.9 652,256.9 652,258.4 652,254.7 652,258.4 653,241.8 653,276.0 653,264.7 653,281.0 653,263.5 653,264.7 653,269.0 654,280.9 654,249.0 654,252.2 654,265.7 654,255.9 654,275.3 655,279.7 655,263.8 655,260.4 655,270.5 655,267.0 655,280.6 655,283.9 656,231.5 656,275.4 656,262.0 656,281.5 656,289.5 656,285.4 657,251.9 657,263.2 657,291.3 657,260.4 657,281.6 657,275.9 657,274.3 658,268.6 658,266.3 658,274.7 658,275.8 658,278.0 658,274.4 659,241.3 659,255.4 659,265.4 659,274.7 659,268.0 659,267.4 659,275.0 660,265.3 660,280.7 660,247.1 660,270.3 660,260.8 660,242.7 661,263.1 661,255.6 661,267.2 661,248.6 661,232.0 661,255.1 661,242.8 662,246.2 662,274.3 662,259.1 662,270.6 662,239.4 662,272.3 663,271.4 663,262.9 663,261.4 663,282.4 663,279.0 663,263.8 663,269.9 664,262.3 664,264.4 664,263.9 664,270.7 664,260.2 664,278.0 665,268.1 665,253.8 665,245.3 665,269.5 665,234.9 665,246.3 665,247.1 666,264.4 666,273.7 666,272.0 666,267.9 666,260.7 666,255.7 667,274.9 667,237.2 667,226.0 667,227.3 667,245.2 667,236.2 668,236.5 668,271.3 668,267.2 668,264.1 668,251.8 668,276.4 668,267.0 669,247.5 669,254.3 669,249.8 669,263.7 669,261.5 669,264.4 670,272.3 670,266.6 670,250.5 670,230.6 670,237.7 670,271.5 670,274.9 671,266.6 671,275.0 671,259.3 671,234.6 671,275.4 671,267.4 672,275.1 672,264.1 672,269.2" stroke="#00ff00" marker-start="url(#mg)" marker-mid="url(#mg)" marker-end="url(#mg)"/>
<polyline points="61,229.2 61,218.5 62,223.6 62,248.5 62,215.2 63,214.9 63,214.3 63,242.3 63,218.9 64,119.1 64,131.5 64,212.6 64,130.9 65,227.4 65,238.3 65,234.3 65,184.0 66,216.8 66,169.2 66,189.0 67,224.9 67,197.7 67,207.7 67,238.2 68,244.3 68,242.2 68,233.2 68,239.7 69,234.5 69,267.8 69,229.0 69,189.8 70,241.5 70,217.7 70,219.1 71,220.3 71,212.8 71,121.9 71,162.3 72,209.8 72,214.4 72,235.9 72,214.1 73,224.9 73,231.5 73,216.2 73,224.4 74,214.6 74,125.8 74,166.1 75,183.9 75,178.9 75,151.3 75,214.9 76,201.9 76,235.9 76,231.9 76,239.8 77,249.4 77,222.2 77,246.1 77,230.1 78,236.3 78,232.5 78,118.1 79,2.9 79,73.9 79,56.7 79,146.9 80,219.1 80,249.7 80,236.5 80,228.4 81,218.9 81,222.3 81,142.3 81,246.5 82,194.1 82,213.2 82,226.1 83,233.8 83,91.2 83,146.9 83,235.5 84,228.8 84,244.0 84,197.7 84,238.7 85,231.3 85,215.5 85,197.6 85,261.5 86,226.5 86,218.7 86,140.8 87,187.2 87,238.3 87,237.1 87,244.1 88,221.6 88,242.0 88,204.7 88,239.5 89,245.0 89,223.8 89,227.3 90,207.9 90,197.1 90,211.1 90,248.4 91,194.2 91,140.2 91,191.7 91,247.0 92,125.9 92,227.3 92,183.3 92,151.9 93,229.4 93,240.5 93,214.0 94,248.8 94,198.1 94,85.5 94,104.7 95,166.1 95,214.2 95,210.6 95,222.4 96,147.6 96,224.3 96,222.6 96,139.1 97,213.1 97,160.8 97,226.2 98,192.6 98,149.0 98,204.4 98,226.4 99,257.2 99,226.5 99,112.3 99,156.5 100,235.0 100,226.2 100,213.1 100,253.1 101,239.8 101,223.3 101,280.9 102,71.1 102,97.0 102,166.1 102,199.8 103,151.7 103,211.9 103,127.9 103,166.5 104,253.5 104,229.1 104,198.6 104,201.5 105,209.0 105,161.6 105,211.7 106,228.1 106,233.9 106,106.6 106,175.7 107,230.3 107,216.0 107,217.7 107,228.8 108,208.2 108,154.0 108,264.2 108,240.4 109,249.0 109,233.5 109,199.0 110,146.8 110,234.6 110,162.8 110,242.9 111,280.5 111,195.2 111,235.8 111,213.7 112,131.5 112,185.3 112,227.6 112,210.3 113,208.0 113,209.0 113,196.3 114,250.6 114,156.6 114,260.9 114,214.0 115,213.6 115,276.0 115,213.8 115,211.0 116,210.5 116,233.8 116,221.5 117,227.0 117,217.2 117,224.3 117,210.2 118,254.7 118,226.4 118,239.3 118,253.1 119,218.7 119,197.6 119,224.2 119,173.4 120,231.9 120,250.8 120,263.6 121,237.7 121,258.0 121,201.3 121,249.8 122,247.8 122,237.9 122,252.0 122,247.0 123,193.6 123,243.5 123,212.0 123,210.8 124,201.6 124,171.7 124,206.8 125,205.0 125,242.9 125,223.0 125,221.6 126,232.8 126,248.3 126,227.3 126,191.7 127,210.6 127,192.0 127,208.7 127,252.5 128,218.2 128,197.1 128,199.6 129,201.6 129,60.5 129,83.5 129,133.5 130,200.0 130,222.4 130,242.4 130,178.4 131,240.2 131,178.9 131,219.7 131,240.0 132,220.6 132,214.8 132,222.0 133,228.1 133,228.7 133,255.8 133,205.8 134,241.2 134,262.7 134,247.7 134,251.1 135,212.8 135,231.0 135,223.4 135,229.4 136,253.4 136,213.9 136,122.6 137,228.2 137,234.7 137,232.8 137,231.1 138,212.7 138,241.7 138,235.1 138,220.9 139,216.7 139,226.2 139,224.4 139,227.0 140,233.1 140,187.8 140,229.8 141,254.7 141,232.1 141,200.6 141,215.6 142,253.1 142,243.3 142,163.1 142,212.7 143,217.6 143,251.0 143,231.4 143,250.8 144,252.2 144,233.6 144,226.3 145,205.4 145,232.1 145,192.0 145,175.4 146,216.6 146,246.2 146,232.5 146,246.7 147,187.3 147,165.6 147,237.4 148,175.8 148,180.5 148,192.0 148,258.1 149,222.7 149,233.9 149,221.0 149,228.8 150,152.0 150,215.7 150,210.4 150,209.5 151,230.3 151,216.1 151,199.4 152,186.3 152,221.9 152,216.7 152,218.7 153,219.1 153,235.4 153,234.7 153,239.1 154,256.3 154,208.4 154,209.6 154,239.9 155,224.3 155,221.1 155,208.8 156,258.7 156,244.2 156,225.9 156,222.9 157,198.9 157,221.6 157,213.3 157,256.2 158,194.6 158,226.6 158,189.1 158,204.7 159,212.7 159,213.8 159,221.9 160,247.0 160,201.4 160,236.4 160,231.7 161,226.3 161,229.2 161,191.8 161,203.3 162,217.7 162,245.2 162,209.2 162,224.1 163,216.0 163,226.7 163,250.3 164,268.5 164,211.7 164,209.5 164,222.8 165,246.7 165,217.2 165,236.3 165,210.0 166,254.8 166,190.3 166,186.5 166,236.7 167,221.5 167,133.5 167,185.3 168,241.6 168,235.7 168,228.1 168,231.5 169,235.4 169,237.3 169,249.8 169,243.3 170,240.3 170,217.8 170,239.6 170,231.7 171,222.1 171,199.2 171,179.6 172,231.8 172,242.7 172,253.6 172,252.7 173,227.2 173,201.9 173,252.5 173,243.0 174,282.9 174,242.8 174,230.4 175,240.1 175,185.6 175,187.8 175,219.5 176,176.8 176,176.0 176,245.1 176,186.9 177,250.0 177,233.1 177,243.0 177,239.3 178,230.9 178,255.6 178,253.5 179,240.4 179,254.6 179,250.4 179,224.6 180,271.6 180,256.1 180,235.8 180,229.5 181,212.5 181,245.8 181,243.4 181,220.3 182,236.8 182,266.4 182,242.0 183,205.1 183,228.3 183,240.7 183,209.3 184,230.2 184,241.2 184,213.3 184,196.5 185,252.7 185,247.9 185,248.5 185,261.4 186,221.1 186,237.8 186,236.2 187,222.8 187,187.8 187,241.7 187,220.1 188,215.4 188,197.3 188,220.7 188,230.3 189,268.9 189,249.8 189,237.4 189,213.8 190,217.6 190,244.3 190,268.7 191,240.7 191,258.5 191,219.4 191,246.9 192,244.3 192,272.6 192,237.0 192,244.1 193,70.1 193,43.2 193,83.5 193,112.3 194,60.5 194,98.9 194,166.1 195,238.9 195,255.0 195,268.0 195,266.4 196,258.6 196,231.1 196,248.5 196,253.6 197,236.8 197,189.6 197,219.3 197,242.2 198,251.8 198,240.4 198,214.8 199,232.2 199,234.3 199,260.0 199,233.0 200,242.2 200,245.8 200,256.1 200,241.0 201,218.3 201,208.2 201,209.2 201,238.3 202,206.6 202,225.0 202,239.3 203,227.7 203,259.8 203,239.1 203,206.3 204,235.5 204,263.4 204,258.2 204,245.4 205,214.5 205,213.2 205,199.4 206,251.0 206,252.3 206,218.5 206,250.8 207,243.9 207,237.9 207,222.8 207,212.2 208,238.8 208,209.6 208,210.6 208,216.1 209,198.9 209,217.9 209,201.8 210,246.2 210,230.7 210,230.7 210,210.4 211,241.1 211,250.9 211,261.1 211,127.7 212,152.7 212,220.1 212,248.6 212,249.1 213,259.9 213,251.7 213,269.1 214,245.7 214,236.9 214,256.6 214,252.7 215,260.8 215,258.1 215,239.9 215,244.1 216,263.7 216,260.6 216,247.4 216,248.2 217,269.0 217,238.9 217,233.9 218,240.5 218,240.3 218,259.5 218,217.2 219,259.8 219,213.6 219,212.6 219,278.9 220,267.5 220,220.1 220,244.1 220,234.3 221,259.3 221,253.8 221,238.2 222,228.5 222,250.1 222,226.2 222,246.3 223,242.0 223,234.9 223,213.8 223,234.6 224,230.0 224,239.5 224,254.4 224,224.1 225,248.7 225,253.0 225,203.6 226,241.1 226,235.9 226,254.4 226,265.1 227,246.7 227,259.2 227,232.2 227,227.4 228,254.6 228,270.2 228,229.8 228,257.2 229,271.5 229,262.0 229,248.4 230,264.0 230,243.6 230,260.1 230,256.3 231,240.6 231,252.4 231,233.5 231,244.3 232,245.0 232,262.0 232,171.9 233,194.9 233,214.1 233,221.5 233,253.9 234,235.8 234,220.8 234,261.2 234,273.1 235,257.2 235,225.9 235,229.7 235,233.5 236,226.1 236,208.5 236,268.2 237,264.9 237,225.8 237,242.5 237,246.3 238,241.2 238,265.7 238,241.9 238,240.9 239,260.2 239,255.3 239,252.5 239,247.4 240,220.1 240,243.0 240,209.0 241,228.2 241,258.8 241,250.7 241,210.6 242,258.7 242,261.4 242,265.8 242,250.6 243,268.9 243,235.3 243,247.7 243,261.4 244,236.1 244,225.6 244,243.6 245,259.1 245,238.1 245,258.1 245,244.4 246,223.1 246,250.6 246,248.4 246,230.4 247,241.6 247,232.6 247,217.7 247,251.1 248,243.1 248,214.7 248,236.8 249,251.4 249,235.3 249,244.1 249,272.3 250,256.0 250,270.9 250,243.3 250,258.9 250,260.4 251,279.9 251,264.8 251,280.8 251,254.7 251,260.2 251,242.4 251,233.4 252,249.3 252,252.7 252,253.0 252,240.0 252,269.8 252,268.6 253,275.3 253,256.6 253,267.2 253,235.6 253,251.0 253,251.6 253,261.0 254,253.6 254,273.3 254,269.4 254,256.5 254,269.9 254,263.3 255,229.3 255,278.7 255,278.9 255,267.8 255,235.6 255,233.9 255,270.3 256,269.0 256,263.4 256,255.4 256,271.4 256,226.0 256,271.1 257,266.8 257,259.1 257,242.9 257,241.9 257,271.2 257,273.2 257,262.8 258,283.3 258,266.2 258,220.0 258,224.7 258,245.2 258,280.5 259,269.8 259,272.7 259,249.4 259,254.0 259,257.5 259,272.8 259,258.7 260,266.0 260,267.1 260,255.0 260,257.4 260,247.4 260,259.2 261,268.5 261,272.3 261,285.1 261,270.7 261,256.3 261,270.9 261,281.2 262,254.6 262,270.8 262,267.9 262,270.3 262,256.2 262,240.7 263,275.0 263,266.2 263,272.3 263,249.5 263,275.6 263,254.2 263,261.9 264,250.2 264,272.6 264,245.7 264,243.3 264,271.8 264,262.6 265,272.7 265,277.9 265,279.0 265,279.4 265,259.7 265,246.5 266,263.5 266,276.9 266,248.3 266,268.1 266,270.8 266,273.9 266,264.5 267,270.4 267,275.9 267,274.6 267,282.5 267,278.3 267,264.2 268,231.8 268,256.6 268,243.6 268,249.3 268,260.3 268,277.8 268,265.7 269,242.3 269,243.2 269,260.3 269,264.2 269,243.9 269,267.7 270,247.9 270,277.3 270,266.4 270,224.0 270,224.7 270,225.8 270,260.7 271,262.1 271,253.7 271,244.6 271,253.2 271,259.3 271,265.6 272,261.0 272,230.4 272,258.2 272,266.8 272,265.3 272,234.0 272,285.4 273,273.6 273,251.7 273,272.1 273,273.1 273,273.8 273,262.0 274,256.3 274,257.6 274,280.2 274,253.7 274,259.1 274,266.4 274,259.1 275,267.9 275,254.1 275,264.1 275,262.4 275,271.0 275,272.6 276,270.8 276,277.7 276,274.4 276,285.8 276,277.2 276,269.9 276,253.0 277,272.1 277,253.5 277,233.8 277,247.5 277,243.3 277,276.2 278,273.6 278,256.1 278,249.5 278,252.8 278,241.9 278,247.0 278,263.7 279,263.4 279,245.3 279,247.7 279,244.6 279,284.8 279,269.3 280,258.1 280,262.3 280,253.2 280,242.4 280,275.7 280,276.3 280,264.7 281,285.9 281,266.3 281,270.5 281,259.8 281,251.7 281,242.0 282,250.2 282,233.3 282,270.1 282,272.9 282,277.6 282,278.5 282,265.0 283,230.8 283,264.3 283,275.9 283,268.4 283,256.4 283,253.0 284,272.1 284,246.3 284,234.1 284,247.8 284,264.9 284,267.3 284,263.0 285,251.1 285,268.5 285,268.6 285,270.9 285,254.4 285,273.3 286,257.4 286,254.9 286,250.6 286,257.4 286,270.2 286,277.2 286,268.4 287,261.4 287,265.2 287,269.8 287,267.7 287,273.3 287,258.6 288,269.1 288,238.5 288,229.6 288,243.6 288,261.3 288,236.3 288,230.9 289,264.1 289,230.3 289,249.8 289,262.4 289,262.9 289,236.7 290,259.2 290,263.8 290,263.6 290,278.6 290,276.1 290,271.4 290,275.6 291,258.8 291,273.5 291,256.0 291,275.4 291,247.9 291,263.3 292,272.2 292,250.3 292,233.5 292,245.7 292,265.9 292,256.9 292,267.9 293,278.2 293,275.5 293,268.7 293,252.2 293,236.8 293,241.2 294,253.0 294,223.4 294,258.7 294,273.0 294,274.3 294,268.0 294,249.1 295,263.0 295,275.4 295,273.7 295,263.2 295,262.0 295,280.2 296,256.8 296,250.3 296,259.3 296,259.2 296,250.8 296,261.5 296,266.0 297,286.5 297,235.3 297,244.2 297,279.1 297,265.5 297,266.0 298,248.1 298,235.1 298,236.2 298,251.1 298,262.1 298,273.1 299,285.3 299,267.6 299,271.3 299,260.4 299,261.8 299,259.2 299,250.5 300,252.7 300,246.7 300,265.0 300,274.8 300,253.3 300,267.4 301,249.4 301,258.1 301,249.0 301,260.0 301,236.4 301,274.4 301,275.8 302,244.4 302,258.8 302,267.9 302,249.0 302,277.8 302,239.9 303,251.1 303,246.4 303,269.6 303,240.8 303,252.7 303,259.4 303,253.9 304,267.6 304,270.7 304,277.7 304,279.4 304,255.3 304,258.6 305,257.9 305,274.7 305,271.3 305,276.8 305,265.5 305,251.9 305,239.6 306,243.4 306,271.5 306,268.2 306,279.9 306,271.1 306,257.0 307,257.2 307,263.3 307,263.1 307,183.0 307,229.2 307,216.2 307,195.8 308,259.5 308,171.9 308,185.3 308,261.5 308,249.0 308,282.6 309,247.9 309,265.7 309,274.9 309,246.1 309,266.7 309,268.9 309,257.1 310,246.9 310,259.7 310,270.9 310,281.8 310,260.2 310,282.4 311,275.3 311,261.5 311,257.6 311,230.3 311,243.8 311,262.9 311,250.1 312,275.7 312,256.9 312,241.4 312,273.4 312,247.6 312,257.0 313,249.7 313,277.8 313,267.2 313,249.1 313,277.4 313,265.7 313,267.5 314,265.5 314,249.7 314,240.8 314,249.7 314,220.6 314,270.1 315,260.3 315,265.5 315,266.2 315,252.1 315,256.3 315,271.5 315,277.4 316,256.8 316,266.2 316,266.9 316,262.2 316,281.1 316,246.4 317,270.8 317,253.4 317,265.5 317,255.4 317,270.0 317,248.0 317,257.9 318,241.2 318,268.1 318,239.1 318,264.9 318,259.4 318,286.3 319,281.3 319,257.9 319,262.0 319,246.3 319,269.0 319,244.4 319,266.0 320,255.5 320,243.6 320,247.4 320,272.6 320,264.7 320,258.3 321,277.4 321,274.6 321,282.0 321,274.5 321,275.2 321,271.9 321,257.8 322,256.6 322,255.2 322,259.6 322,258.7 322,249.4 322,242.6 323,264.5 323,260.3 323,275.9 323,281.1 323,240.3 323,278.7 323,264.5 324,255.7 324,252.4 324,278.2 324,262.4 324,265.7 324,249.5 325,268.0 325,261.6 325,275.0 325,252.7 325,270.2 325,282.7 325,273.2 326,248.8 326,247.6 326,245.1 326,240.5 326,257.3 326,252.0 327,256.5 327,281.9 327,264.4 327,272.7 327,266.3 327,264.9 327,269.8 328,261.1 328,263.7 328,273.8 328,285.7 328,240.0 328,248.1 329,252.2 329,261.6 329,269.9 329,271.8 329,260.7 329,277.3 329,271.1 330,269.4 330,260.5 330,255.1 330,257.9 330,252.8 330,270.1 331,249.2 331,236.1 331,272.1 331,251.1 331,265.4 331,269.5 331,259.5 332,269.9 332,262.5 332,239.4 332,241.3 332,245.3 332,262.7 333,272.6 333,285.3 333,268.4 333,280.4 333,273.7 333,276.8 334,273.2 334,252.9 334,271.0 334,278.1 334,272.0 334,252.7 334,260.5 335,245.8 335,234.4 335,248.0 335,273.2 335,260.9 335,265.4 336,256.9 336,249.7 336,228.5 336,274.4 336,257.7 336,257.6 336,255.8 337,279.0 337,272.5 337,254.3 337,263.5 337,279.1 337,265.1 338,272.4 338,258.1 338,268.9 338,268.5 338,281.5 338,268.9 338,271.3 339,267.0 339,276.5 339,263.7 339,260.4 339,273.9 339,268.5 340,271.5 340,269.8 340,281.4 340,250.6 340,244.3 340,238.6 340,252.7 341,268.8 341,253.9 341,268.2 341,279.3 341,278.5 341,256.2 342,254.5 342,272.4 342,278.2 342,261.9 342,267.3 342,257.2 342,273.9 343,271.7 343,274.3 343,271.0 343,268.4 343,274.4 343,252.8 344,263.1 344,266.1 344,254.0 344,258.6 344,254.3 344,273.1 344,278.2 345,279.0 345,265.3 345,257.6 345,270.6 345,260.6 345,257.7 346,253.6 346,258.4 346,255.1 346,258.1 346,274.9 346,261.4 346,275.0 347,277.2 347,274.6 347,266.5 347,249.6 347,262.6 347,270.3 348,275.9 348,263.1 348,258.1 348,261.9 348,261.6 348,268.4 348,258.6 349,259.2 349,265.2 349,267.5 349,279.4 349,274.7 349,260.8 350,275.7 350,262.0 350,270.5 350,263.5 350,276.8 350,255.3 350,253.0 351,274.4 351,260.8 351,243.4 351,268.0 351,270.3 351,258.7 352,256.9 352,243.8 352,237.1 352,261.2 352,260.0 352,276.7 352,274.1 353,270.0 353,282.9 353,262.0 353,249.4 353,250.6 353,264.2 354,271.0 354,270.6 354,274.8 354,282.1 354,270.5 354,274.7 354,255.0 355,259.0 355,258.7 355,267.6 355,245.1 355,259.6 355,262.9 356,275.2 356,263.3 356,283.8 356,276.0 356,274.8 356,285.3 356,276.2 357,273.0 357,261.6 357,252.9 357,244.7 357,257.7 357,244.3 358,259.1 358,262.9 358,254.6 358,280.3 358,259.1 358,270.0 358,269.6 359,267.7 359,253.8 359,232.4 359,263.7 359,253.1 359,274.0 360,272.6 360,273.8 360,280.1 360,254.1 360,252.0 360,244.8 360,262.4 361,252.1 361,257.9 361,262.9 361,270.2 361,282.8 361,266.2 362,248.4 362,258.7 362,267.0 362,254.5 362,252.1 362,279.6 362,272.3 363,273.2 363,259.9 363,257.0 363,250.5 363,274.9 363,262.5 364,272.6 364,268.8 364,283.3 364,273.3 364,278.7 364,267.0 364,273.2 365,263.2 365,264.3 365,264.2 365,269.1 365,249.2 365,258.0 366,271.7 366,257.8 366,256.2 366,251.5 366,278.0 366,270.4 367,243.7 367,259.0 367,265.1 367,268.6 367,271.2 367,260.3 367,266.5 368,269.5 368,280.2 368,275.3 368,272.7 368,269.7 368,261.9 369,276.7 369,266.2 369,265.1 369,254.6 369,269.9 369,263.6 369,263.5 370,270.4 370,241.9 370,261.6 370,252.1 370,252.7 370,264.1 371,266.8 371,273.3 371,233.3 371,261.0 371,284.6 371,258.4 371,271.4 372,261.8 372,260.3 372,270.3 372,284.8 372,273.8 372,269.5 373,256.9 373,261.3 373,274.0 373,273.2 373,263.4 373,239.9 373,271.0 374,261.6 374,275.8 374,255.6 374,267.3 374,252.8 374,251.6 375,282.1 375,260.1 375,273.1 375,278.7 375,270.8 375,270.5 375,267.9 376,260.5 376,268.2 376,258.5 376,260.4 376,281.6 376,283.3 377,272.9 377,268.5 377,273.3 377,278.8 377,271.3 377,269.7 377,261.8 378,272.5 378,275.9 378,270.8 378,266.2 378,246.9 378,263.2 379,256.7 379,262.0 379,273.8 379,267.5 379,258.2 379,269.0 379,263.6 380,276.2 380,251.2 380,267.6 380,261.2 380,274.7 380,251.3 381,255.7 381,249.7 381,256.6 381,252.5 381,254.5 381,255.3 381,273.0 382,265.1 382,241.3 382,266.2 382,266.3 382,259.4 382,263.8 383,236.4 383,262.3 383,277.0 383,265.6 383,270.8 383,258.9 383,274.6 384,275.1 384,283.9 384,275.1 384,247.1 384,256.9 384,266.2 385,268.9 385,250.8 385,269.2 385,262.7 385,256.5 385,265.8 385,284.6 386,280.4 386,270.5 386,267.2 386,264.0 386,275.0 386,258.0 387,267.6 387,275.0 387,262.8 387,269.6 387,266.9 387,257.5 387,281.2 388,237.8 388,246.0 388,273.8 388,276.3 388,285.1 388,270.6 389,270.0 389,274.9 389,276.0 389,268.0 389,273.0 389,260.4 389,273.2 390,281.9 390,249.5 390,263.9 390,274.8 390,276.8 390,269.0 391,257.6 391,263.5 391,274.7 391,258.0 391,275.4 391,243.6 391,267.3 392,275.2 392,264.2 392,267.4 392,268.9 392,250.1 392,281.6 393,264.7 393,261.5 393,277.6 393,264.0 393,258.3 393,282.3 393,281.0 394,276.5 394,267.7 394,263.6 394,271.1 394,278.5 394,259.1 395,257.6 395,259.2 395,277.4 395,279.6 395,267.5 395,262.3 395,270.9 396,271.1 396,270.3 396,266.8 396,280.2 396,278.6 396,261.5 397,260.6 397,261.4 397,258.9 397,267.1 397,263.9 397,258.2 397,251.8 398,277.8 398,260.1 398,257.4 398,266.1 398,257.0 398,271.6 399,280.4 399,265.1 399,276.6 399,268.1 399,284.9 399,279.0 400,258.0 400,272.6 400,267.8 400,251.9 400,274.0 400,269.8 400,255.6 401,257.6 401,257.9 401,259.7 401,269.8 401,270.5 401,273.8 402,270.0 402,265.4 402,260.5 402,259.8 402,246.8 402,266.6 402,271.6 403,267.4 403,257.1 403,251.4 403,259.7 403,269.0 403,260.5 404,237.7 404,286.3 404,258.1 404,247.4 404,253.7 404,267.0 404,265.3 405,254.5 405,262.7 405,258.2 405,267.4 405,255.1 405,261.1 406,260.0 406,241.8 406,278.3 406,265.5 406,262.1 406,278.9 406,263.9 407,286.7 407,289.1 407,261.6 407,258.2 407,270.0 407,249.9 408,268.9 408,283.9 408,263.9 408,265.5 408,262.7 408,269.3 408,265.4 409,257.9 409,274.3 409,277.1 409,255.4 409,258.3 409,262.7 410,272.0 410,282.5 410,289.9 410,276.7 410,265.7 410,276.6 410,266.7 411,265.5 411,249.4 411,279.4 411,274.6 411,262.8 411,255.8 412,259.9 412,280.0 412,249.9 412,251.9 412,261.7 412,269.9 412,267.1 413,272.4 413,255.3 413,250.6 413,255.3 413,272.7 413,278.1 414,263.8 414,250.2 414,281.8 414,256.4 414,263.2 414,240.1 414,262.0 415,267.2 415,257.2 415,259.8 415,266.4 415,264.1 415,278.3 416,268.1 416,277.2 416,272.2 416,276.8 416,267.1 416,251.5 416,255.1 417,268.6 417,267.1 417,273.3 417,259.8 417,258.4 417,252.0 418,259.5 418,243.4 418,256.0 418,254.9 418,250.6 418,254.5 418,249.6 419,269.7 419,276.4 419,273.2 419,280.2 419,272.0 419,240.9 420,248.4 420,252.6 420,262.6 420,258.1 420,274.8 420,281.2 420,279.4 421,257.2 421,271.0 421,258.7 421,245.0 421,261.2 421,260.4 422,257.9 422,275.3 422,261.6 422,269.1 422,251.5 422,272.3 422,250.9 423,275.9 423,257.4 423,263.2 423,263.2 423,271.9 423,261.1 424,268.8 424,265.7 424,273.4 424,282.7 424,264.4 424,264.5 424,259.7 425,264.0 425,242.1 425,239.1 425,245.1 425,269.4 425,271.7 426,275.0 426,281.6 426,279.4 426,261.8 426,253.0 426,281.6 426,271.0 427,254.5 427,262.6 427,274.9 427,267.8 427,281.1 427,274.4 428,255.6 428,279.4 428,267.4 428,274.3 428,279.4 428,265.4 428,270.2 429,260.1 429,264.3 429,269.8 429,258.1 429,276.7 429,268.5 430,277.3 430,280.8 430,274.3 430,285.5 430,275.2 430,261.4 430,252.5 431,267.8 431,270.8 431,268.2 431,282.8 431,255.8 431,265.7 432,253.0 432,266.7 432,274.6 432,281.6 432,260.9 432,275.7 433,279.8 433,261.2 433,274.8 433,258.3 433,272.4 433,260.3 433,277.4 434,238.5 434,257.6 434,256.7 434,258.0 434,251.9 434,259.0 435,259.3 435,269.3 435,262.9 435,284.6 435,277.6 435,269.8 435,281.3 436,259.8 436,273.0 436,242.0 436,257.4 436,261.9 436,260.2 437,264.1 437,249.4 437,276.6 437,271.3 437,273.9 437,263.2 437,273.2 438,260.6 438,258.7 438,268.9 438,278.6 438,274.8 438,273.0 439,272.9 439,262.7 439,264.7 439,254.5 439,264.4 439,272.1 439,259.2 440,263.0 440,245.8 440,250.0 440,261.7 440,253.3 440,257.5 441,255.6 441,275.9 441,271.5 441,271.8 441,243.7 441,256.0 441,263.3 442,240.0 442,248.3 442,249.6 442,277.7 442,268.7 442,272.0 443,273.2 443,281.8 443,273.1 443,268.7 443,276.6 443,281.6 443,267.1 444,270.6 444,254.1 444,268.8 444,275.6 444,277.4 444,272.3 445,285.4 445,278.8 445,258.6 445,256.5 445,252.6 445,266.0 445,268.8 446,269.8 446,256.1 446,267.6 446,272.4 446,261.1 446,258.4 447,263.4 447,254.3 447,270.2 447,283.6 447,271.4 447,263.0 447,253.0 448,257.2 448,248.7 448,256.5 448,269.0 448,274.5 448,273.4 449,259.3 449,251.2 449,257.5 449,265.1 449,274.0 449,260.3 449,263.9 450,266.7 450,257.3 450,274.8 450,263.0 450,255.5 450,256.5 451,274.9 451,276.0 451,269.1 451,267.4 451,270.9 451,277.6 451,255.4 452,288.8 452,281.9 452,254.4 452,267.9 452,284.3 452,268.5 453,250.3 453,262.1 453,262.5 453,278.7 453,274.2 453,268.8 453,262.5 454,262.9 454,268.4 454,267.8 454,270.0 454,270.3 454,267.2 455,256.6 455,274.9 455,255.7 455,235.7 455,264.8 455,264.6 455,268.4 456,260.8 456,274.7 456,268.7 456,261.6 456,241.5 456,258.3 457,247.7 457,249.8 457,258.3 457,266.3 457,250.2 457,269.3 457,261.0 458,253.4 458,257.7 458,246.2 458,264.2 458,269.0 458,280.7 459,284.7 459,271.9 459,280.2 459,285.1 459,275.0 459,267.4 459,272.3 460,249.5 460,272.7 460,275.0 460,265.6 460,274.5 460,260.9 461,266.9 461,289.4 461,256.7 461,278.9 461,267.0 461,269.5 461,260.8 462,260.7 462,250.8 462,266.5 462,259.0 462,249.6 462,260.8 463,284.9 463,258.1 463,271.5 463,262.4 463,274.6 463,250.2 463,259.5 464,269.6 464,271.3 464,258.2 464,259.8 464,255.5 464,253.3 465,263.0 465,274.0 465,267.2 465,274.4 465,271.1 465,263.3 465,229.1 466,226.0 466,235.9 466,223.4 466,219.6 466,286.3 466,263.5 467,254.1 467,265.5 467,266.0 467,250.9 467,252.7 467,283.8 468,273.4 468,283.8 468,277.9 468,266.4 468,268.8 468,241.5 468,270.4 469,265.3 469,269.1 469,246.2 469,271.0 469,235.9 469,265.3 470,230.0 470,272.7 470,271.3 470,249.4 470,260.0 470,280.0 470,278.3 471,277.2 471,267.1 471,275.8 471,251.8 471,258.8 471,270.8 472,275.5 472,259.4 472,263.6 472,271.9 472,256.6 472,249.4 472,265.0 473,272.8 473,264.6 473,286.1 473,263.0 473,270.5 473,267.1 474,251.4 474,273.2 474,267.1 474,278.3 474,279.2 474,280.6 474,269.3 475,257.9 475,276.9 475,275.5 475,266.7 475,256.6 475,268.0 476,281.3 476,270.0 476,270.5 476,262.5 476,267.8 476,265.3 476,261.7 477,264.8 477,238.5 477,262.7 477,277.2 477,256.1 477,250.7 478,265.5 478,273.9 478,261.5 478,265.9 478,270.3 478,267.9 478,272.2 479,267.3 479,283.0 479,267.2 479,260.2 479,271.4 479,260.6 480,278.3 480,260.3 480,252.3 480,252.4 480,263.6 480,248.5 480,250.9 481,262.5 481,262.9 481,240.2 481,253.3 481,255.6 481,268.1 482,256.8 482,279.9 482,267.4 482,264.5 482,272.1 482,285.2 482,263.0 483,261.2 483,248.8 483,264.0 483,261.1 483,273.4 483,284.5 484,275.9 484,274.6 484,238.5 484,278.4 484,260.7 484,254.9 484,267.7 485,259.5 485,274.0 485,251.7 485,261.4 485,265.2 485,263.3 486,259.0 486,278.7 486,272.9 486,272.8 486,273.1 486,277.8 486,270.5 487,254.5 487,252.1 487,270.3 487,273.3 487,257.9 487,275.5 488,257.8 488,278.0 488,261.2 488,280.6 488,286.0 488,284.1 488,263.6 489,275.5 489,250.6 489,272.2 489,271.7 489,268.5 489,272.8 490,269.4 490,268.2 490,265.5 490,265.0 490,269.3 490,278.7 490,274.6 491,271.0 491,275.2 491,266.0 491,261.3 491,252.3 491,277.3 492,268.6 492,278.2 492,258.5 492,275.4 492,274.9 492,278.1 492,273.9 493,256.6 493,270.0 493,265.7 493,271.9 493,262.3 493,255.6 494,255.2 494,255.1 494,267.9 494,282.4 494,283.6 494,282.7 494,262.3 495,255.3 495,265.1 495,260.6 495,273.4 495,257.5 495,265.4 496,283.3 496,269.9 496,274.6 496,268.3 496,267.6 496,259.4 496,272.2 497,255.5 497,266.4 497,242.4 497,263.2 497,256.5 497,249.3 498,271.3 498,264.9 498,268.2 498,266.1 498,264.3 498,260.9 498,277.6 499,278.8 499,266.7 499,262.4 499,260.3 499,258.7 499,280.9 500,269.5 500,277.5 500,269.1 500,273.0 500,274.0 500,268.2 501,252.4 501,262.7 501,273.7 501,260.9 501,254.4 501,250.6 501,255.2 502,266.3 502,261.9 502,252.7 502,274.2 502,261.8 502,262.1 503,266.6 503,266.0 503,266.3 503,283.2 503,269.3 503,262.9 503,275.1 504,268.0 504,270.0 504,261.1 504,273.1 504,282.6 504,269.9 505,234.9 505,273.2 505,262.2 505,270.1 505,275.2 505,279.0 505,279.1 506,270.9 506,252.4 506,250.3 506,242.1 506,244.3 506,268.5 507,275.0 507,275.4 507,281.9 507,270.1 507,272.9 507,278.6 507,254.8 508,259.0 508,273.7 508,263.9 508,280.4 508,271.9 508,266.9 509,285.9 509,261.4 509,285.4 509,267.6 509,275.6 509,268.9 509,272.3 510,273.9 510,230.3 510,260.3 510,258.5 510,273.6 510,270.4 511,284.5 511,278.5 511,264.9 511,258.2 511,273.9 511,269.5 511,270.4 512,271.1 512,263.5 512,256.3 512,250.3 512,276.7 512,271.4 513,271.1 513,246.7 513,282.1 513,259.5 513,264.0 513,244.4 513,264.1 514,269.3 514,264.7 514,277.7 514,288.7 514,282.1 514,272.6 515,270.1 515,261.1 515,263.8 515,261.0 515,278.0 515,283.6 515,267.9 516,252.6 516,266.8 516,260.3 516,276.6 516,255.8 516,253.1 517,252.3 517,245.5 517,258.2 517,258.0 517,264.7 517,259.9 517,279.1 518,277.5 518,270.9 518,265.9 518,271.6 518,262.5 518,257.4 519,267.3 519,277.0 519,275.0 519,259.3 519,258.9 519,267.9 519,270.9 520,264.5 520,276.8 520,274.9 520,262.4 520,242.1 520,265.1 521,269.9 521,256.8 521,278.9 521,274.5 521,270.1 521,257.9 521,274.8 522,264.0 522,253.3 522,274.6 522,276.7 522,262.2 522,243.7 523,265.8 523,272.2 523,268.9 523,280.9 523,247.6 523,276.1 523,252.8 524,260.4 524,264.8 524,261.3 524,272.8 524,274.6 524,278.7 525,281.0 525,281.7 525,280.3 525,283.7 525,264.5 525,281.8 525,255.9 526,252.3 526,263.5 526,253.9 526,270.5 526,277.1 526,275.0 527,269.4 527,265.1 527,245.7 527,253.4 527,262.1 527,250.7 527,266.2 528,266.1 528,262.1 528,266.6 528,269.2 528,247.9 528,240.2 529,264.9 529,273.5 529,274.7 529,268.0 529,248.3 529,250.7 529,271.8 530,268.9 530,272.3 530,269.1 530,270.3 530,268.8 530,268.9 531,259.1 531,280.9 531,278.1 531,258.5 531,266.2 531,253.2 531,266.4 532,269.1 532,253.8 532,260.0 532,281.1 532,256.0 532,268.1 533,282.6 533,273.0 533,266.7 533,283.5 533,269.3 533,272.5 534,264.6 534,276.3 534,251.6 534,282.9 534,280.4 534,273.6 534,271.1 535,269.4 535,242.6 535,271.3 535,247.4 535,278.0 535,262.4 536,258.7 536,245.6 536,269.4 536,277.3 536,277.2 536,267.6 536,260.1 537,273.4 537,266.7 537,283.7 537,265.9 537,239.1 537,271.8 538,261.3 538,267.9 538,267.7 538,258.4 538,268.8 538,291.9 538,280.4 539,252.1 539,261.5 539,268.5 539,280.3 539,273.1 539,271.5 540,288.1 540,256.0 540,270.4 540,272.8 540,259.8 540,273.4 540,261.5 541,281.4 541,276.8 541,287.4 541,266.5 541,280.5 541,270.3 542,265.4 542,282.3 542,262.1 542,268.7 542,259.4 542,256.7 542,268.8 543,263.5 543,271.0 543,271.1 543,249.3 543,274.4 543,273.3 544,262.1 544,260.8 544,258.7 544,273.5 544,272.6 544,278.0 544,265.2 545,279.4 545,279.5 545,269.0 545,273.8 545,268.8 545,262.2 546,268.1 546,278.4 546,279.0 546,261.3 546,266.1 546,281.4 546,278.2 547,267.1 547,248.5 547,274.4 547,262.6 547,264.5 547,251.5 548,273.8 548,274.2 548,271.5 548,276.4 548,276.4 548,246.3 548,275.1 549,274.9 549,265.7 549,255.6 549,262.0 549,247.7 549,253.1 550,264.1 550,280.3 550,268.3 550,266.3 550,255.0 550,261.4 550,258.8 551,258.2 551,267.4 551,256.7 551,278.5 551,275.0 551,253.2 552,257.7 552,275.1 552,272.1 552,268.3 552,270.0 552,279.6 552,269.3 553,270.8 553,271.4 553,269.6 553,269.4 553,277.3 553,258.1 554,266.7 554,241.7 554,272.4 554,264.2 554,275.3 554,279.8 554,269.7 555,278.6 555,263.6 555,260.8 555,259.5 555,258.5 555,269.3 556,269.8 556,263.2 556,260.0 556,274.3 556,278.1 556,274.3 556,270.9 557,269.9 557,256.7 557,269.6 557,281.9 557,263.8 557,268.4 558,262.3 558,258.5 558,264.9 558,253.6 558,264.8 558,276.0 558,269.9 559,271.6 559,259.2 559,288.5 559,271.4 559,275.8 559,269.1 560,276.4 560,255.6 560,265.5 560,271.1 560,257.2 560,286.4 560,248.3 561,277.2 561,263.8 561,247.8 561,280.6 561,281.4 561,285.3 562,284.3 562,266.0 562,265.6 562,274.8 562,267.0 562,271.8 562,272.7 563,279.0 563,284.3 563,288.6 563,274.9 563,275.1 563,255.1 564,269.6 564,273.1 564,274.9 564,272.7 564,266.4 564,263.6 564,269.6 565,262.8 565,281.3 565,256.4 565,249.0 565,270.9 565,248.6 566,273.5 566,277.9 566,262.5 566,248.5 566,255.2 566,249.7 567,266.8 567,287.3 567,265.7 567,273.9 567,253.9 567,274.9 567,271.9 568,275.7 568,275.2 568,269.9 568,265.2 568,273.7 568,274.1 569,273.7 569,245.8 569,269.3 569,248.0 569,259.8 569,258.8 569,243.5 570,267.7 570,264.5 570,266.4 570,277.3 570,264.4 570,270.9 571,262.0 571,258.6 571,270.2 571,268.9 571,282.9 571,272.1 571,258.6 572,252.8 572,257.0 572,258.3 572,270.6 572,266.1 572,281.4 573,274.2 573,274.0 573,251.7 573,268.5 573,242.9 573,238.9 573,263.5 574,269.8 574,269.7 574,278.4 574,250.2 574,258.6 574,273.3 575,279.1 575,277.1 575,263.0 575,262.9 575,241.2 575,263.6 575,273.7 576,275.1 576,277.5 576,280.2 576,283.3 576,268.9 576,285.8 577,252.0 577,271.1 577,277.3 577,278.0 577,277.5 577,272.2 577,270.5 578,251.5 578,276.6 578,274.1 578,259.6 578,278.9 578,270.3 579,263.0 579,261.0 579,270.2 579,265.3 579,274.4 579,277.3 579,272.4 580,273.3 580,270.1 580,269.7 580,270.5 580,272.5 580,260.5 581,285.2 581,242.5 581,278.8 581,280.7 581,279.5 581,260.3 581,273.5 582,270.1 582,241.4 582,243.1 582,263.5 582,276.7 582,271.0 583,271.1 583,269.9 583,250.8 583,260.4 583,273.3 583,264.9 583,255.0 584,253.7 584,253.9 584,234.5 584,272.1 584,275.0 584,270.2 585,284.7 585,232.0 585,240.7 585,222.0 585,269.1 585,271.2 585,278.7 586,264.9 586,280.1 586,264.7 586,262.5 586,264.8 586,272.0 587,268.3 587,268.5 587,262.9 587,267.5 587,272.3 587,284.6 587,258.2 588,277.4 588,249.2 588,263.2 588,267.6 588,281.4 588,272.6 589,258.3 589,260.0 589,268.1 589,266.3 589,273.3 589,269.5 589,272.9 590,275.1 590,270.7 590,271.7 590,266.0 590,264.5 590,240.7 591,262.7 591,256.4 591,268.5 591,268.4 591,269.7 591,276.5 591,271.5 592,261.6 592,283.5 592,265.2 592,279.6 592,281.2 592,275.8 593,272.4 593,251.6 593,270.1 593,261.1 593,275.2 593,269.9 593,257.8 594,272.7 594,262.5 594,247.1 594,265.2 594,271.6 594,273.5 595,245.8 595,270.1 595,242.0 595,256.5 595,260.6 595,263.0 595,248.8 596,273.0 596,274.0 596,261.6 596,256.2 596,268.9 596,252.0 597,263.9 597,278.7 597,271.1 597,276.1 597,266.9 597,273.9 597,278.7 598,271.0 598,286.0 598,278.8 598,265.2 598,264.4 598,275.4 599,255.4 599,261.3 599,255.2 599,251.6 599,278.3 599,275.7 599,235.8 600,263.0 600,247.7 600,273.9 600,271.1 600,262.6 600,264.0 601,285.3 601,268.7 601,269.8 601,280.8 601,262.6 601,273.8 602,261.4 602,257.9 602,274.7 602,271.0 602,285.4 602,261.1 602,264.5 603,275.3 603,275.6 603,258.7 603,240.8 603,251.4 603,278.8 604,275.3 604,285.2 604,273.9 604,277.5 604,270.2 604,256.7 604,277.2 605,259.5 605,274.0 605,270.7 605,274.4 605,277.4 605,274.1 606,279.4 606,262.9 606,278.7 606,283.8 606,260.5 606,257.1 606,269.9 607,269.2 607,267.2 607,283.5 607,253.8 607,283.5 607,267.6 608,251.4 608,278.0 608,282.2 608,252.5 608,262.8 608,269.1 608,274.8 609,280.2 609,261.1 609,263.7 609,267.8 609,263.9 609,276.0 610,257.9 610,258.1 610,280.0 610,271.7 610,273.8 610,269.6 610,285.3 611,273.4 611,264.6 611,273.2 611,282.8 611,271.9 611,278.3 612,254.6 612,274.4 612,259.4 612,255.2 612,267.9 612,255.7 612,260.4 613,276.6 613,263.4 613,242.8 613,262.4 613,275.8 613,279.4 614,279.0 614,280.6 614,264.1 614,264.5 614,283.9 614,281.6 614,276.5 615,285.9 615,266.5 615,254.3 615,273.2 615,274.5 615,259.4 616,253.0 616,246.8 616,274.6 616,267.7 616,281.0 616,265.7 616,265.3 617,266.8 617,255.0 617,260.7 617,261.2 617,271.3 617,256.0 618,255.2 618,269.5 618,271.4 618,269.3 618,253.9 618,268.9 618,279.2 619,277.9 619,252.6 619,259.6 619,262.5 619,271.1 619,257.3 620,275.3 620,261.5 620,263.4 620,266.6 620,258.6 620,255.0 620,266.3 621,255.8 621,272.1 621,265.3 621,257.2 621,261.9 621,256.9 622,262.5 622,262.6 622,247.2 622,244.2 622,257.4 622,261.1 622,271.7 623,274.4 623,275.1 623,273.6 623,277.7 623,265.6 623,267.0 624,255.0 624,261.0 624,262.0 624,243.9 624,268.3 624,277.3 624,267.2 625,256.3 625,280.9 625,264.4 625,275.1 625,252.1 625,269.7 626,256.1 626,278.0 626,271.4 626,278.0 626,280.2 626,252.5 626,267.4 627,260.0 627,261.4 627,254.0 627,273.2 627,249.8 627,272.1 628,255.3 628,256.5 628,280.9 628,258.2 628,288.2 628,265.5 628,281.8 629,252.7 629,260.8 629,272.8 629,267.7 629,256.4 629,262.6 630,255.9 630,267.1 630,270.4 630,273.5 630,271.7 630,259.2 630,274.7 631,255.4 631,259.1 631,261.2 631,242.7 631,274.4 631,277.9 632,280.3 632,262.6 632,264.6 632,251.3 632,280.3 632,267.8 632,256.5 633,281.0 633,279.2 633,273.1 633,271.7 633,269.3 633,279.8 634,269.4 634,275.9 634,257.7 634,247.9 634,257.1 634,266.3 635,249.0 635,254.9 635,256.0 635,282.4 635,285.2 635,278.8 635,282.2 636,286.7 636,266.7 636,264.1 636,248.0 636,270.5 636,256.1 637,275.5 637,246.8 637,267.3 637,276.8 637,254.0 637,265.5 637,274.7 638,262.5 638,273.7 638,272.6 638,264.4 638,255.6 638,257.3 639,272.0 639,259.4 639,268.1 639,268.1 639,282.3 639,274.4 639,261.6 640,251.9 640,237.6 640,267.7 640,274.4 640,264.8 640,256.3 641,259.7 641,273.9 641,283.2 641,287.9 641,271.2 641,266.2 641,248.4 642,245.0 642,273.2 642,278.1 642,278.2 642,282.6 642,261.8 643,262.7 643,237.5 643,271.4 643,246.9 643,235.5 643,262.5 643,259.5 644,249.4 644,278.4 644,269.4 644,247.9 644,250.4 644,267.4 645,277.4 645,254.4 645,271.2 645,270.2 645,259.4 645,269.3 645,265.6 646,263.5 646,270.7 646,284.7 646,287.0 646,271.1 646,256.7 647,276.8 647,264.4 647,260.9 647,285.8 647,257.5 647,275.0 647,273.8 648,260.5 648,269.3 648,258.3 648,275.1 648,274.0 648,264.0 649,260.4 649,276.8 649,259.6 649,259.0 649,256.7 649,272.1 649,257.1 650,259.4 650,239.2 650,257.8 650,263.9 650,268.3 650,292.1 651,273.3 651,269.6 651,277.4 651,279.6 651,270.3 651,269.0 651,262.1 652,272.2 652,267.2 652,257.0 652,269.6 652,238.1 652,258.6 653,263.0 653,273.5 653,272.5 653,284.6 653,265.6 653,263.8 653,272.6 654,277.4 654,256.7 654,248.1 654,270.2 654,259.2 654,271.1 655,284.1 655,270.8 655,267.8 655,242.3 655,238.0 655,262.2 655,283.5 656,265.1 656,272.1 656,265.6 656,284.2 656,287.1 656,278.6 657,240.0 657,258.5 657,291.2 657,280.6 657,285.8 657,275.6 657,274.6 658,268.1 658,271.7 658,277.5 658,280.4 658,276.8 658,270.5 659,262.6 659,264.9 659,265.2 659,269.3 659,280.1 659,265.0 659,272.6 660,274.3 660,265.5 660,255.3 660,269.8 660,254.4 660,240.9 661,264.5 661,241.9 661,266.0 661,263.7 661,277.5 661,259.8 661,265.8 662,258.3 662,277.4 662,272.2 662,270.6 662,251.0 662,272.3 663,269.2 663,270.4 663,253.9 663,280.2 663,280.2 663,267.1 663,269.1 664,261.3 664,264.7 664,274.0 664,272.8 664,248.0 664,275.8 665,272.4 665,253.9 665,251.7 665,262.0 665,250.9 665,251.9 665,250.5 666,269.0 666,270.8 666,267.0 666,259.0 666,272.9 666,262.4 667,269.9 667,280.4 667,267.3 667,266.3 667,269.5 667,258.5 668,249.8 668,275.8 668,263.2 668,262.5 668,248.8 668,277.8 668,261.2 669,243.5 669,254.6 669,258.9 669,272.2 669,257.8 669,272.2 670,274.4 670,269.8 670,257.3 670,262.4 670,268.9 670,274.8 670,282.6 671,269.3 671,274.3 671,260.4 671,246.5 671,272.8 671,269.4 672,274.5 672,254.2 672,273.0" stroke="#00ffff" marker-start="url(#mc)" marker-mid="url(#mc)" marker-end="url(#mc)"/>
<polyline points="61,224.7 61,222.5 62,216.0 62,255.1 62,247.7 63,242.1 63,227.0 63,242.6 63,226.6 64,247.0 64,194.6 64,227.6 64,212.3 65,235.7 65,249.4 65,231.0 65,219.9 66,241.6 66,227.8 66,206.5 67,228.6 67,202.8 67,228.0 67,244.4 68,261.1 68,236.2 68,220.6 68,243.8 69,258.2 69,276.0 69,233.2 69,195.3 70,249.3 70,226.0 70,235.3 71,241.9 71,217.1 71,219.2 71,218.5 72,229.5 72,231.2 72,228.9 72,218.3 73,256.5 73,244.5 73,241.6 73,228.2 74,214.2 74,211.4 74,254.2 75,192.2 75,234.7 75,217.9 75,226.6 76,213.3 76,245.1 76,221.2 76,232.8 77,251.9 77,237.4 77,238.9 77,248.1 78,239.5 78,240.6 78,224.7 79,250.0 79,220.6 79,233.6 79,233.7 80,260.5 80,252.2 80,229.9 80,256.2 81,235.5 81,230.5 81,224.8 81,255.3 82,226.0 82,219.3 82,240.3 83,237.0 83,209.1 83,257.9 83,236.8 84,219.7 84,255.9 84,202.7 84,259.4 85,223.1 85,215.7 85,219.7 85,262.4 86,237.6 86,220.3 86,240.4 87,214.3 87,239.5 87,229.1 87,233.1 88,252.1 88,256.6 88,209.4 88,242.5 89,226.3 89,243.0 89,246.8 90,239.6 90,205.4 90,246.4 90,251.0 91,207.6 91,231.5 91,234.9 91,243.0 92,222.9 92,241.4 92,211.4 92,242.3 93,237.8 93,241.8 93,231.6 94,238.9 94,246.0 94,245.8 94,243.0 95,220.5 95,221.1 95,204.1 95,197.4 96,207.8 96,247.8 96,239.7 96,208.1 97,227.6 97,221.9 97,228.4 98,205.8 98,197.2 98,208.6 98,226.9 99,260.4 99,246.5 99,244.6 99,251.2 100,241.5 100,254.0 100,225.4 100,252.3 101,265.4 101,235.9 101,284.0 102,219.6 102,224.7 102,240.3 102,245.6 103,208.5 103,216.2 103,198.4 103,203.8 104,261.7 104,222.9 104,218.3 104,229.4 105,213.6 105,227.3 105,223.9 106,218.7 106,244.1 106,233.5 106,218.6 107,240.6 107,200.1 107,222.9 107,208.4 108,233.3 108,242.8 108,273.3 108,239.9 109,243.7 109,234.7 109,212.3 110,223.3 110,240.4 110,198.1 110,252.6 111,284.4 111,253.9 111,248.1 111,205.3 112,232.3 112,223.5 112,230.5 112,221.6 113,214.9 113,230.7 113,220.9 114,261.2 114,218.3 114,266.3 114,212.3 115,217.8 115,276.6 115,211.3 115,226.6 116,230.1 116,237.6 116,214.7 117,241.1 117,232.7 117,243.4 117,226.4 118,239.2 118,231.4 118,258.7 118,258.1 119,228.3 119,224.0 119,236.3 119,258.2 120,229.0 120,242.0 120,269.2 121,257.0 121,222.2 121,212.7 121,217.9 122,250.4 122,259.8 122,258.9 122,243.3 123,198.8 123,229.9 123,227.2 123,191.1 124,223.2 124,252.2 124,249.7 125,223.7 125,247.1 125,226.8 125,230.6 126,245.1 126,247.0 126,220.8 126,211.3 127,218.4 127,201.8 127,205.3 127,260.8 128,211.7 128,213.7 128,214.5 129,195.9 129,236.3 129,222.9 129,191.1 130,204.9 130,230.6 130,242.1 130,233.2 131,245.8 131,184.8 131,229.4 131,245.3 132,235.2 132,227.6 132,251.0 133,213.2 133,235.2 133,258.0 133,219.2 134,248.3 134,262.6 134,259.3 134,249.2 135,236.6 135,237.7 135,232.7 135,232.3 136,266.6 136,237.6 136,251.4 137,242.7 137,238.0 137,268.4 137,249.0 138,228.2 138,239.3 138,248.7 138,238.7 139,223.5 139,237.3 139,228.1 139,253.8 140,258.7 140,229.9 140,237.1 141,254.8 141,235.5 141,246.1 141,229.3 142,261.1 142,245.7 142,162.3 142,217.0 143,238.8 143,249.3 143,235.8 143,268.4 144,247.3 144,244.8 144,233.5 145,210.1 145,235.2 145,197.3 145,181.5 146,248.1 146,247.7 146,236.1 146,251.0 147,198.2 147,172.2 147,252.3 148,227.2 148,175.5 148,180.1 148,256.5 149,234.2 149,259.2 149,243.3 149,206.9 150,167.2 150,217.3 150,223.1 150,214.0 151,242.7 151,232.5 151,211.4 152,191.9 152,225.8 152,204.2 152,229.8 153,240.6 153,255.4 153,246.5 153,243.8 154,267.9 154,226.7 154,236.7 154,230.7 155,214.3 155,240.8 155,240.6 156,272.1 156,241.4 156,228.4 156,214.4 157,221.1 157,244.4 157,220.4 157,259.6 158,199.8 158,225.5 158,203.9 158,171.6 159,214.0 159,218.0 159,232.2 160,242.7 160,211.5 160,230.3 160,250.9 161,215.9 161,235.5 161,216.1 161,209.0 162,207.5 162,237.5 162,189.9 162,173.5 163,236.1 163,238.0 163,245.5 164,267.0 164,248.4 164,224.7 164,222.1 165,249.3 165,244.4 165,238.9 165,220.7 166,266.5 166,195.7 166,247.6 166,232.6 167,225.4 167,230.0 167,220.3 168,243.2 168,229.1 168,247.1 168,220.7 169,235.1 169,230.4 169,247.5 169,245.9 170,253.0 170,230.3 170,239.6 170,241.8 171,236.6 171,219.7 171,195.3 172,195.2 172,234.7 172,248.7 172,245.3 173,213.6 173,225.9 173,253.6 173,258.4 174,265.9 174,253.2 174,246.9 175,241.1 175,224.4 175,217.8 175,247.7 176,221.3 176,208.2 176,260.5 176,213.3 177,252.5 177,251.0 177,241.6 177,259.8 178,230.0 178,255.6 178,246.0 179,254.1 179,258.4 179,258.5 179,242.5 180,271.8 180,259.6 180,239.9 180,239.2 181,219.1 181,250.6 181,244.0 181,238.0 182,238.6 182,273.3 182,243.5 183,230.8 183,251.6 183,242.7 183,244.5 184,233.6 184,250.3 184,246.1 184,231.8 185,255.6 185,250.5 185,202.1 185,272.5 186,234.7 186,240.8 186,233.1 187,236.6 187,203.3 187,254.8 187,229.6 188,212.9 188,202.4 188,212.2 188,228.9 189,273.4 189,261.3 189,240.1 189,218.1 190,203.9 190,247.2 190,228.9 191,236.7 191,260.5 191,252.5 191,232.2 192,245.8 192,249.6 192,251.9 192,253.2 193,259.2 193,245.8 193,248.1 193,221.6 194,255.0 194,225.2 194,233.5 195,241.9 195,269.9 195,260.1 195,268.1 196,260.7 196,250.3 196,251.0 196,263.2 197,230.4 197,243.7 197,234.6 197,254.7 198,248.6 198,246.8 198,219.0 199,250.5 199,237.5 199,264.8 199,236.3 200,257.4 200,254.6 200,258.3 200,254.8 201,237.1 201,224.7 201,213.6 201,241.4 202,244.3 202,226.6 202,245.6 203,232.1 203,267.4 203,243.0 203,210.9 204,244.0 204,283.8 204,247.8 204,248.1 205,243.8 205,217.5 205,233.3 206,217.2 206,239.9 206,242.8 206,254.6 207,258.1 207,233.9 207,228.0 207,205.0 208,213.8 208,228.8 208,230.3 208,220.3 209,235.1 209,221.4 209,217.5 210,256.4 210,248.9 210,202.8 210,247.0 211,248.8 211,252.6 211,264.8 211,260.5 212,243.0 212,205.6 212,261.8 212,256.7 213,257.4 213,232.3 213,267.4 214,250.7 214,234.3 214,266.6 214,257.9 215,263.1 215,252.0 215,243.8 215,257.2 216,277.1 216,260.2 216,242.9 216,245.7 217,272.4 217,247.6 217,235.8 218,263.8 218,251.4 218,268.7 218,252.9 219,262.5 219,251.1 219,267.4 219,281.0 220,264.2 220,248.6 220,255.3 220,241.6 221,266.3 221,249.2 221,239.8 222,237.9 222,222.7 222,244.0 222,255.8 223,267.1 223,232.6 223,226.3 223,238.9 224,238.5 224,249.7 224,257.8 224,226.0 225,256.7 225,260.7 225,249.6 226,236.8 226,253.1 226,256.2 226,265.8 227,251.9 227,261.8 227,235.6 227,224.6 228,262.0 228,262.0 228,227.9 228,257.3 229,269.7 229,255.4 229,258.8 230,266.1 230,261.0 230,253.7 230,253.5 231,250.2 231,250.9 231,219.1 231,252.3 232,234.6 232,255.8 232,263.8 233,232.9 233,236.5 233,234.7 233,254.4 234,254.4 234,245.8 234,271.9 234,267.9 235,267.5 235,251.8 235,260.6 235,241.4 236,242.6 236,246.1 236,272.3 237,264.7 237,236.5 237,249.4 237,267.8 238,238.7 238,263.9 238,238.4 238,250.2 239,263.5 239,239.8 239,232.9 239,254.4 240,235.1 240,254.4 240,235.3 241,237.9 241,254.2 241,250.8 241,244.7 242,259.9 242,263.3 242,263.5 242,261.3 243,271.8 243,251.4 243,260.6 243,267.1 244,236.3 244,245.9 244,251.1 245,227.5 245,249.2 245,254.0 245,248.8 246,236.1 246,249.3 246,255.5 246,250.9 247,236.5 247,253.4 247,249.3 247,261.9 248,242.9 248,236.5 248,246.4 249,262.3 249,221.4 249,254.4 249,274.9 250,261.3 250,258.1 250,222.8 250,257.9 250,265.1 251,285.0 251,259.1 251,283.9 251,254.7 251,261.9 251,247.2 251,232.4 252,255.5 252,266.2 252,262.6 252,250.8 252,270.1 252,271.1 253,277.3 253,262.4 253,265.1 253,248.7 253,259.1 253,259.7 253,267.9 254,262.0 254,259.7 254,272.2 254,254.0 254,276.1 254,262.9 255,231.2 255,278.9 255,283.3 255,272.6 255,230.0 255,229.6 255,276.2 256,270.3 256,264.4 256,262.5 256,273.0 256,229.5 256,270.5 257,268.6 257,273.6 257,243.9 257,259.0 257,279.4 257,278.3 257,260.8 258,284.4 258,258.3 258,257.8 258,275.4 258,275.9 258,282.2 259,269.5 259,277.6 259,251.4 259,265.1 259,265.1 259,269.4 259,259.8 260,270.6 260,271.5 260,258.5 260,263.5 260,248.1 260,269.3 261,268.7 261,276.7 261,288.3 261,269.3 261,264.2 261,278.8 261,285.4 262,253.2 262,273.1 262,269.5 262,281.0 262,263.3 262,249.5 263,275.0 263,272.8 263,274.9 263,256.0 263,276.8 263,257.1 263,269.3 264,255.6 264,273.6 264,256.9 264,247.2 264,275.3 264,266.6 265,273.7 265,279.3 265,280.4 265,279.9 265,270.8 265,256.6 266,267.7 266,278.2 266,249.0 266,265.1 266,268.4 266,277.5 266,276.3 267,269.8 267,280.8 267,275.0 267,286.3 267,278.3 267,266.5 268,235.2 268,251.5 268,246.4 268,261.9 268,264.6 268,276.8 268,272.9 269,247.1 269,249.3 269,267.4 269,275.0 269,240.3 269,269.6 270,251.5 270,276.9 270,266.5 270,256.4 270,269.0 270,268.2 270,267.9 271,258.3 271,262.3 271,246.8 271,255.7 271,257.9 271,263.1 272,263.4 272,245.3 272,267.3 272,275.9 272,262.3 272,241.0 272,287.9 273,279.1 273,266.7 273,267.5 273,272.0 273,213.0 273,262.4 274,264.0 274,264.3 274,284.2 274,262.5 274,258.6 274,266.0 274,262.7 275,262.6 275,256.8 275,273.7 275,262.5 275,269.7 275,273.0 276,267.4 276,280.0 276,282.6 276,283.6 276,282.8 276,268.4 276,248.8 277,274.7 277,260.1 277,232.6 277,238.9 277,247.5 277,279.6 278,271.2 278,266.0 278,253.9 278,256.8 278,244.7 278,259.7 278,274.3 279,253.7 279,256.6 279,262.7 279,249.9 279,284.7 279,272.0 280,258.3 280,264.2 280,255.0 280,256.6 280,281.0 280,278.9 280,268.9 281,283.6 281,270.5 281,277.0 281,265.1 281,258.3 281,235.9 282,266.1 282,235.3 282,268.5 282,277.7 282,279.4 282,280.6 282,253.3 283,238.5 283,270.8 283,274.9 283,268.3 283,257.9 283,255.7 284,268.8 284,254.8 284,242.4 284,250.0 284,265.4 284,263.5 284,261.2 285,256.6 285,272.2 285,271.3 285,266.8 285,252.5 285,272.2 286,254.3 286,248.2 286,263.6 286,265.0 286,263.1 286,278.1 286,272.3 287,270.0 287,267.2 287,269.8 287,271.8 287,274.6 287,262.7 288,270.0 288,261.3 288,242.9 288,239.5 288,264.1 288,251.3 288,252.5 289,261.8 289,240.9 289,251.6 289,266.0 289,267.4 289,245.1 290,266.6 290,269.6 290,265.1 290,277.9 290,278.7 290,272.9 290,277.0 291,267.4 291,275.9 291,263.3 291,279.2 291,242.9 291,266.8 292,273.7 292,249.0 292,231.5 292,239.4 292,262.8 292,255.0 292,265.1 293,276.7 293,277.7 293,270.3 293,250.6 293,246.4 293,252.6 294,221.1 294,231.9 294,257.1 294,276.8 294,266.8 294,270.0 294,253.3 295,269.3 295,279.1 295,279.6 295,260.9 295,266.4 295,279.0 296,264.0 296,245.7 296,257.2 296,259.9 296,249.9 296,271.8 296,269.7 297,283.9 297,236.4 297,244.7 297,281.5 297,256.4 297,270.6 298,220.7 298,241.9 298,239.4 298,257.1 298,270.9 298,275.6 299,286.6 299,272.8 299,276.2 299,263.7 299,260.4 299,268.7 299,260.0 300,244.8 300,254.9 300,272.9 300,275.1 300,255.7 300,272.2 301,262.4 301,264.5 301,257.5 301,265.6 301,239.1 301,271.6 301,278.1 302,245.4 302,266.1 302,267.5 302,249.6 302,274.1 302,245.9 303,250.4 303,247.0 303,268.8 303,240.8 303,257.7 303,253.6 303,262.9 304,268.2 304,269.2 304,279.8 304,278.6 304,256.2 304,263.6 305,263.0 305,278.9 305,273.2 305,279.3 305,268.7 305,259.9 305,243.6 306,250.6 306,273.7 306,265.6 306,278.4 306,278.1 306,265.0 307,263.5 307,265.9 307,265.9 307,269.5 307,272.0 307,266.3 307,269.1 308,254.0 308,270.1 308,261.9 308,251.8 308,254.3 308,283.0 309,242.1 309,267.0 309,274.6 309,253.3 309,271.7 309,275.2 309,257.7 310,252.1 310,267.2 310,272.8 310,283.4 310,262.1 310,284.3 311,280.1 311,261.7 311,261.6 311,256.5 311,251.9 311,268.7 311,248.0 312,276.8 312,265.5 312,256.1 312,279.6 312,253.1 312,253.4 313,264.1 313,278.9 313,269.7 313,249.5 313,277.6 313,270.1 313,269.5 314,271.8 314,253.8 314,254.5 314,258.2 314,248.2 314,273.5 315,261.4 315,261.9 315,271.0 315,253.2 315,255.2 315,272.9 315,278.3 316,260.6 316,271.7 316,266.8 316,261.5 316,281.5 316,255.5 317,267.5 317,265.8 317,275.3 317,260.8 317,270.9 317,231.9 317,273.6 318,247.5 318,269.1 318,249.7 318,267.3 318,260.0 318,286.2 319,281.5 319,259.3 319,268.4 319,257.8 319,263.4 319,242.4 319,265.3 320,256.8 320,242.6 320,251.2 320,273.7 320,272.1 320,253.6 321,279.4 321,275.0 321,284.9 321,276.2 321,281.5 321,278.7 321,259.1 322,255.8 322,257.0 322,255.6 322,264.6 322,256.8 322,250.2 323,263.1 323,263.9 323,277.1 323,283.7 323,251.1 323,276.6 323,260.3 324,258.4 324,250.3 324,274.4 324,260.8 324,263.2 324,261.9 325,271.2 325,268.4 325,281.3 325,254.6 325,273.8 325,281.3 325,275.6 326,254.0 326,240.1 326,238.2 326,239.3 326,257.4 326,255.0 327,263.5 327,279.3 327,263.8 327,274.6 327,266.2 327,264.0 327,264.9 328,267.5 328,266.2 328,276.6 328,288.2 328,235.4 328,257.9 329,267.0 329,270.3 329,277.6 329,267.5 329,260.5 329,278.1 329,271.2 330,271.5 330,265.6 330,262.6 330,263.6 330,255.1 330,272.2 331,256.5 331,239.3 331,275.6 331,255.6 331,272.4 331,271.8 331,262.5 332,268.9 332,271.8 332,242.4 332,249.4 332,258.5 332,263.8 333,278.8 333,285.0 333,273.0 333,283.3 333,277.6 333,280.9 334,273.3 334,264.6 334,272.5 334,282.9 334,273.5 334,260.8 334,259.6 335,259.6 335,246.9 335,256.8 335,266.1 335,276.3 335,269.8 336,253.1 336,251.9 336,264.8 336,277.1 336,261.6 336,262.6 336,261.5 337,282.8 337,277.3 337,268.2 337,265.9 337,275.8 337,272.6 338,274.4 338,263.8 338,275.0 338,267.3 338,283.6 338,268.3 338,272.0 339,267.7 339,278.8 339,263.5 339,271.7 339,277.9 339,268.0 340,269.6 340,274.0 340,278.4 340,243.3 340,245.6 340,245.9 340,266.2 341,270.4 341,257.9 341,270.6 341,280.0 341,279.3 341,262.3 342,256.6 342,273.6 342,281.1 342,272.5 342,276.5 342,268.3 342,275.8 343,278.5 343,275.9 343,266.0 343,272.3 343,278.3 343,266.8 344,266.9 344,265.2 344,260.6 344,263.4 344,262.1 344,272.9 344,281.7 345,276.1 345,268.4 345,266.1 345,273.5 345,266.9 345,258.7 346,251.0 346,262.0 346,266.2 346,262.7 346,237.6 346,256.6 346,277.2 347,280.3 347,277.6 347,269.5 347,257.7 347,265.5 347,267.3 348,276.7 348,268.8 348,281.0 348,255.1 348,272.4 348,266.1 348,269.4 349,262.1 349,262.5 349,274.2 349,283.9 349,275.5 349,262.8 350,278.5 350,266.9 350,269.7 350,270.3 350,282.6 350,265.5 350,251.8 351,272.3 351,256.2 351,250.1 351,271.8 351,275.0 351,267.6 352,266.4 352,256.4 352,244.1 352,267.6 352,262.9 352,273.6 352,274.9 353,271.5 353,285.4 353,263.8 353,260.6 353,237.2 353,265.9 354,273.6 354,269.0 354,276.9 354,282.6 354,275.4 354,281.2 354,252.2 355,264.5 355,250.0 355,271.3 355,235.6 355,267.0 355,261.3 356,272.6 356,261.3 356,280.2 356,276.2 356,276.4 356,283.5 356,275.3 357,271.0 357,266.2 357,248.5 357,254.4 357,267.8 357,253.2 358,256.6 358,259.3 358,261.5 358,280.4 358,265.7 358,272.7 358,277.7 359,267.5 359,260.1 359,251.7 359,267.1 359,255.4 359,278.0 360,277.1 360,276.7 360,279.1 360,258.4 360,254.8 360,254.5 360,269.8 361,264.3 361,260.2 361,260.3 361,269.1 361,280.6 361,265.3 362,254.0 362,255.2 362,271.2 362,265.0 362,263.0 362,277.0 362,272.8 363,275.5 363,265.1 363,266.6 363,243.1 363,273.8 363,265.9 364,273.2 364,273.2 364,283.1 364,274.0 364,275.3 364,274.2 364,277.6 365,265.5 365,269.1 365,267.3 365,272.6 365,248.1 365,268.5 366,269.0 366,249.1 366,264.1 366,264.0 366,280.3 366,267.5 367,254.4 367,259.4 367,267.7 367,272.3 367,272.6 367,267.9 367,267.9 368,267.3 368,281.7 368,279.7 368,272.0 368,268.9 368,270.0 369,270.4 369,272.6 369,271.7 369,256.8 369,276.8 369,268.7 369,262.7 370,269.5 370,250.9 370,269.0 370,262.9 370,263.9 370,267.2 371,267.8 371,275.6 371,249.5 371,281.4 371,285.5 371,259.4 371,275.1 372,265.7 372,267.6 372,272.0 372,283.7 372,274.2 372,269.9 373,265.1 373,274.5 373,272.2 373,276.8 373,260.3 373,261.7 373,269.7 374,260.3 374,276.4 374,253.0 374,273.1 374,260.6 374,260.7 375,282.9 375,266.7 375,271.1 375,275.2 375,274.7 375,266.5 375,268.4 376,268.8 376,273.8 376,261.2 376,265.3 376,279.8 376,280.7 377,272.8 377,266.3 377,275.2 377,279.1 377,271.9 377,269.8 377,261.5 378,273.9 378,276.1 378,277.5 378,247.0 378,255.3 378,266.3 379,265.3 379,266.7 379,271.4 379,273.8 379,262.2 379,267.8 379,264.6 380,279.1 380,234.3 380,265.2 380,265.5 380,276.5 380,251.8 381,262.5 381,256.3 381,256.4 381,263.2 381,263.8 381,259.6 381,271.4 382,267.8 382,244.2 382,269.1 382,266.8 382,265.3 382,272.5 383,249.2 383,263.6 383,279.3 383,272.1 383,275.7 383,261.1 383,270.7 384,273.8 384,286.5 384,275.6 384,260.3 384,268.1 384,269.1 385,268.4 385,262.2 385,267.9 385,271.6 385,264.7 385,268.5 385,284.4 386,286.2 386,270.9 386,265.1 386,271.8 386,273.1 386,269.5 387,264.5 387,279.2 387,261.4 387,272.6 387,267.3 387,262.7 387,278.0 388,252.2 388,253.6 388,278.0 388,277.3 388,286.8 388,261.7 389,274.0 389,276.2 389,276.5 389,267.5 389,275.4 389,272.9 389,264.0 390,278.9 390,261.0 390,265.8 390,274.7 390,279.5 390,278.1 391,264.2 391,267.9 391,282.3 391,255.4 391,274.4 391,258.1 391,274.7 392,274.2 392,274.7 392,261.8 392,275.5 392,245.4 392,278.7 393,265.7 393,264.6 393,274.8 393,273.4 393,264.9 393,285.8 393,284.8 394,279.7 394,272.0 394,269.4 394,270.2 394,280.0 394,262.7 395,261.3 395,260.6 395,279.8 395,280.6 395,269.6 395,267.3 395,266.7 396,276.3 396,273.7 396,261.8 396,282.9 396,282.3 396,271.0 397,259.6 397,265.1 397,253.7 397,269.1 397,262.1 397,256.9 397,271.3 398,278.3 398,268.6 398,265.2 398,263.2 398,252.4 398,269.5 399,281.2 399,265.9 399,277.0 399,271.1 399,287.4 399,284.8 400,271.2 400,274.2 400,272.0 400,255.8 400,278.1 400,271.1 400,262.2 401,263.5 401,261.4 401,265.6 401,268.8 401,277.1 401,277.1 402,270.9 402,267.8 402,256.1 402,264.2 402,255.5 402,274.9 402,277.6 403,273.9 403,262.3 403,265.3 403,263.5 403,271.8 403,262.5 404,256.7 404,286.1 404,271.0 404,259.9 404,266.1 404,268.4 404,269.5 405,262.4 405,258.4 405,256.3 405,270.5 405,258.3 405,259.6 406,258.7 406,269.2 406,277.1 406,263.8 406,263.5 406,279.3 406,271.8 407,287.4 407,291.7 407,262.2 407,267.8 407,269.9 407,259.9 408,268.0 408,284.0 408,263.8 408,265.0 408,266.8 408,271.9 408,265.9 409,257.5 409,276.4 409,280.3 409,260.7 409,265.6 409,269.4 410,276.8 410,278.0 410,290.5 410,276.1 410,266.9 410,275.1 410,271.5 411,265.9 411,265.2 411,282.1 411,276.3 411,258.9 411,265.1 412,269.1 412,276.5 412,257.1 412,258.8 412,262.3 412,274.4 412,267.0 413,261.1 413,272.9 413,250.0 413,264.6 413,277.6 413,276.9 414,270.7 414,257.2 414,281.7 414,263.2 414,267.6 414,248.0 414,265.8 415,265.3 415,260.4 415,268.1 415,268.0 415,267.0 415,282.4 416,264.4 416,280.5 416,275.8 416,275.2 416,273.1 416,261.7 416,264.3 417,270.4 417,276.3 417,273.7 417,266.5 417,262.3 417,263.2 418,266.9 418,247.7 418,256.9 418,247.0 418,260.3 418,250.6 418,252.9 419,267.8 419,282.5 419,254.9 419,281.7 419,271.8 419,248.4 420,258.9 420,253.4 420,269.4 420,262.5 420,279.1 420,282.0 420,281.4 421,268.9 421,272.2 421,259.5 421,253.4 421,263.8 421,264.9 422,270.8 422,273.6 422,266.5 422,243.5 422,235.6 422,272.5 422,262.5 423,275.6 423,260.2 423,267.9 423,271.4 423,274.9 423,269.2 424,269.1 424,269.3 424,273.6 424,282.9 424,266.8 424,265.6 424,267.8 425,268.8 425,251.5 425,247.8 425,256.0 425,268.5 425,273.5 426,282.6 426,284.7 426,279.1 426,259.8 426,265.2 426,281.0 426,280.5 427,263.2 427,268.1 427,273.8 427,276.2 427,281.5 427,273.9 428,265.0 428,280.5 428,267.2 428,276.2 428,282.8 428,267.2 428,267.3 429,260.8 429,251.5 429,274.6 429,256.5 429,280.0 429,267.5 430,277.4 430,278.9 430,278.5 430,282.8 430,275.8 430,263.3 430,262.3 431,269.4 431,269.7 431,273.9 431,283.4 431,265.3 431,267.6 432,252.8 432,267.6 432,271.6 432,281.8 432,264.3 432,274.4 433,283.6 433,262.6 433,279.4 433,257.6 433,274.1 433,258.7 433,278.9 434,266.6 434,263.6 434,264.8 434,266.8 434,254.7 434,257.8 435,262.5 435,276.0 435,268.5 435,283.3 435,283.1 435,271.9 435,282.2 436,267.0 436,273.0 436,241.7 436,266.9 436,263.3 436,266.2 437,265.3 437,269.4 437,274.7 437,267.8 437,277.8 437,262.5 437,272.4 438,265.0 438,260.7 438,261.0 438,277.7 438,276.2 438,277.3 439,273.2 439,268.9 439,266.3 439,256.7 439,264.2 439,274.5 439,262.3 440,261.6 440,251.5 440,249.6 440,240.7 440,224.0 440,228.5 441,264.2 441,276.7 441,271.8 441,275.2 441,246.4 441,270.8 441,268.3 442,248.7 442,258.6 442,264.8 442,276.1 442,272.0 442,275.7 443,274.8 443,281.8 443,273.6 443,268.8 443,277.7 443,283.2 443,267.1 444,269.8 444,267.5 444,270.1 444,278.2 444,279.3 444,267.8 445,285.9 445,279.2 445,258.6 445,265.1 445,254.6 445,265.4 445,269.4 446,275.9 446,262.6 446,268.4 446,274.5 446,262.9 446,261.5 447,261.1 447,260.4 447,273.0 447,285.6 447,268.8 447,265.2 447,257.5 448,261.9 448,255.5 448,267.2 448,269.8 448,277.7 448,274.6 449,266.3 449,259.1 449,259.6 449,263.7 449,269.2 449,265.4 449,269.9 450,270.8 450,260.0 450,277.2 450,266.0 450,258.8 450,262.1 451,276.1 451,276.8 451,269.4 451,271.9 451,274.3 451,277.1 451,253.0 452,288.4 452,282.7 452,265.7 452,275.9 452,285.2 452,270.6 453,251.8 453,267.9 453,257.4 453,278.2 453,277.1 453,268.0 453,265.1 454,271.0 454,264.6 454,275.1 454,276.2 454,272.9 454,270.5 455,258.8 455,277.4 455,257.7 455,245.1 455,262.2 455,270.7 455,273.1 456,266.5 456,280.1 456,268.6 456,260.5 456,253.9 456,258.9 457,247.8 457,247.1 457,260.3 457,269.9 457,246.6 457,269.3 457,259.3 458,255.9 458,254.5 458,260.1 458,267.0 458,264.8 458,279.5 459,232.1 459,246.6 459,228.5 459,284.5 459,278.1 459,269.5 459,272.7 460,251.5 460,275.9 460,276.3 460,265.5 460,278.6 460,263.6 461,267.9 461,286.4 461,258.6 461,275.9 461,263.4 461,267.5 461,266.1 462,266.2 462,248.3 462,268.6 462,267.0 462,260.4 462,256.2 463,285.1 463,267.3 463,260.4 463,265.4 463,277.7 463,253.6 463,271.9 464,271.7 464,275.6 464,261.3 464,265.3 464,256.5 464,255.8 465,266.6 465,276.8 465,268.5 465,279.8 465,270.5 465,264.9 465,275.8 466,258.7 466,283.2 466,279.3 466,281.6 466,284.8 466,266.8 467,259.9 467,268.3 467,270.2 467,252.1 467,249.1 467,283.9 468,273.6 468,286.4 468,282.1 468,264.4 468,271.2 468,252.0 468,270.2 469,265.4 469,270.5 469,243.4 469,262.9 469,262.4 469,268.3 470,263.3 470,268.3 470,280.0 470,267.0 470,261.4 470,276.0 470,279.5 471,275.0 471,273.0 471,279.4 471,256.8 471,263.9 471,273.2 472,280.2 472,257.6 472,257.7 472,271.7 472,259.3 472,254.4 472,258.0 473,272.3 473,269.4 473,284.9 473,263.1 473,274.0 473,263.9 474,262.4 474,278.0 474,271.2 474,280.7 474,282.0 474,280.9 474,274.9 475,264.5 475,280.4 475,277.2 475,266.1 475,261.1 475,268.5 476,281.1 476,274.3 476,274.7 476,268.1 476,268.6 476,266.9 476,262.6 477,265.3 477,248.8 477,265.8 477,277.9 477,250.4 477,254.4 478,265.5 478,271.8 478,263.4 478,264.4 478,269.5 478,267.4 478,281.4 479,271.6 479,283.7 479,267.4 479,268.4 479,269.5 479,268.7 480,276.9 480,262.0 480,256.8 480,250.4 480,244.7 480,256.8 480,255.1 481,263.5 481,238.5 481,240.9 481,262.6 481,259.3 481,267.6 482,266.8 482,280.4 482,273.0 482,258.3 482,269.2 482,283.6 482,269.6 483,264.9 483,259.2 483,268.1 483,268.6 483,275.0 483,283.4 484,277.5 484,277.0 484,253.1 484,279.5 484,256.6 484,269.2 484,275.0 485,263.7 485,271.7 485,261.6 485,271.4 485,271.4 485,275.1 486,269.7 486,281.1 486,278.4 486,273.8 486,271.7 486,280.2 486,275.5 487,268.8 487,258.0 487,268.0 487,277.0 487,255.8 487,278.7 488,261.8 488,276.7 488,266.4 488,286.5 488,285.4 488,283.5 488,265.0 489,274.0 489,255.0 489,266.2 489,269.6 489,274.5 489,278.1 490,271.7 490,269.8 490,261.3 490,266.3 490,270.7 490,279.2 490,273.6 491,276.3 491,274.9 491,263.5 491,265.3 491,254.5 491,282.4 492,267.6 492,277.0 492,259.9 492,277.4 492,283.0 492,278.3 492,271.3 493,280.7 493,270.0 493,275.3 493,281.0 493,267.8 493,259.4 494,261.3 494,263.3 494,262.6 494,279.2 494,285.5 494,283.9 494,265.2 495,257.8 495,268.3 495,256.8 495,277.8 495,259.6 495,265.8 496,282.2 496,265.2 496,275.6 496,268.9 496,276.6 496,263.8 496,277.4 497,258.0 497,272.4 497,254.8 497,253.6 497,260.1 497,255.0 498,272.1 498,270.0 498,269.8 498,270.0 498,275.1 498,264.2 498,273.1 499,277.7 499,272.4 499,264.9 499,269.4 499,260.9 499,281.6 500,272.6 500,282.2 500,273.8 500,270.7 500,273.4 500,272.1 501,254.3 501,267.8 501,271.3 501,265.5 501,264.0 501,248.2 501,251.5 502,273.6 502,268.3 502,268.7 502,274.5 502,262.5 502,270.4 503,269.5 503,264.1 503,269.4 503,286.8 503,272.6 503,267.5 503,278.0 504,271.6 504,275.1 504,275.8 504,274.5 504,284.7 504,262.0 505,268.7 505,271.7 505,264.0 505,273.3 505,273.5 505,260.3 505,282.3 506,267.7 506,259.6 506,251.0 506,245.8 506,253.4 506,274.2 507,274.1 507,278.2 507,281.1 507,268.4 507,273.8 507,278.6 507,267.0 508,258.8 508,277.1 508,267.9 508,278.7 508,276.1 508,268.6 509,283.6 509,261.9 509,284.8 509,266.9 509,279.3 509,271.1 509,275.0 510,276.7 510,245.0 510,264.7 510,259.1 510,277.3 510,276.2 511,287.6 511,284.6 511,269.2 511,262.6 511,273.1 511,266.6 511,268.0 512,273.9 512,265.7 512,263.5 512,258.9 512,281.1 512,270.2 513,268.7 513,255.4 513,284.3 513,253.4 513,262.1 513,252.7 513,269.2 514,272.8 514,268.0 514,276.6 514,289.5 514,283.3 514,277.5 515,273.7 515,266.8 515,263.0 515,262.4 515,274.5 515,282.3 515,270.1 516,244.3 516,266.4 516,262.4 516,282.1 516,254.4 516,261.7 517,254.3 517,258.5 517,264.3 517,268.2 517,270.0 517,271.5 517,279.0 518,259.9 518,272.4 518,262.2 518,278.1 518,262.0 518,260.1 519,268.2 519,280.9 519,279.7 519,262.1 519,257.6 519,262.9 519,270.6 520,269.4 520,276.2 520,278.9 520,265.7 520,254.3 520,267.8 521,276.3 521,267.6 521,283.1 521,276.1 521,269.1 521,249.4 521,270.4 522,267.0 522,260.0 522,281.2 522,280.0 522,241.4 522,251.7 523,272.6 523,274.3 523,267.9 523,280.4 523,254.3 523,279.4 523,251.0 524,260.1 524,265.1 524,267.0 524,272.7 524,278.6 524,276.5 525,231.3 525,241.9 525,247.5 525,282.4 525,268.6 525,285.3 525,255.4 526,250.1 526,258.6 526,258.8 526,269.6 526,273.9 526,276.4 527,268.2 527,260.0 527,248.6 527,274.5 527,255.9 527,260.4 527,268.5 528,269.0 528,258.0 528,269.5 528,269.4 528,243.4 528,246.8 529,267.8 529,280.4 529,269.7 529,268.2 529,262.3 529,249.3 529,271.5 530,268.2 530,270.4 530,271.0 530,274.2 530,270.7 530,265.0 531,262.8 531,282.7 531,276.2 531,267.6 531,272.7 531,269.3 531,269.7 532,266.2 532,262.4 532,264.7 532,279.4 532,268.3 532,271.0 533,284.7 533,267.6 533,258.6 533,285.7 533,271.4 533,269.7 534,257.1 534,271.8 534,259.2 534,285.5 534,283.4 534,276.7 534,273.2 535,273.2 535,254.2 535,270.8 535,250.0 535,279.6 535,266.8 536,249.7 536,241.4 536,265.4 536,279.2 536,273.0 536,272.9 536,264.1 537,275.4 537,263.9 537,285.3 537,270.2 537,250.0 537,247.9 538,260.4 538,266.6 538,271.3 538,262.7 538,269.3 538,291.4 538,285.6 539,254.4 539,248.9 539,269.4 539,281.1 539,277.4 539,273.4 540,288.7 540,255.1 540,271.6 540,276.9 540,265.4 540,277.7 540,266.6 541,283.0 541,274.6 541,284.9 541,271.8 541,280.4 541,272.9 542,266.3 542,283.6 542,267.3 542,270.2 542,267.8 542,263.2 542,271.0 543,264.7 543,265.1 543,276.3 543,258.2 543,279.5 543,277.5 544,273.3 544,262.0 544,261.5 544,269.1 544,269.8 544,282.2 544,270.1 545,281.9 545,281.0 545,270.5 545,272.9 545,267.9 545,266.6 546,269.0 546,274.1 546,279.9 546,261.9 546,272.4 546,278.1 546,283.1 547,267.9 547,250.6 547,276.7 547,263.2 547,273.2 547,265.3 548,272.3 548,271.0 548,274.0 548,274.8 548,280.7 548,256.3 548,274.1 549,274.4 549,270.5 549,259.0 549,256.8 549,246.5 549,262.0 550,262.7 550,278.3 550,271.4 550,267.9 550,260.5 550,263.5 550,262.4 551,261.1 551,271.0 551,263.4 551,276.7 551,275.4 551,255.4 552,264.9 552,277.5 552,272.0 552,269.3 552,271.1 552,283.9 552,270.8 553,266.0 553,268.3 553,271.1 553,269.4 553,277.8 553,265.5 554,275.2 554,274.0 554,273.4 554,272.2 554,276.7 554,277.8 554,273.3 555,276.3 555,261.4 555,260.5 555,262.2 555,264.9 555,276.5 556,267.4 556,272.2 556,265.4 556,275.2 556,281.5 556,280.0 556,279.4 557,266.2 557,262.5 557,272.9 557,282.4 557,266.8 557,261.0 558,266.0 558,255.9 558,268.0 558,257.6 558,269.7 558,276.5 558,271.2 559,274.6 559,264.3 559,289.4 559,272.4 559,278.1 559,264.6 560,274.0 560,260.3 560,268.0 560,272.0 560,261.9 560,286.8 560,257.0 561,282.1 561,266.7 561,264.6 561,282.1 561,283.1 561,286.4 562,287.1 562,273.9 562,269.6 562,272.8 562,259.8 562,275.0 562,275.8 563,276.7 563,284.9 563,290.5 563,280.0 563,273.7 563,266.7 564,267.3 564,273.8 564,278.1 564,276.9 564,269.2 564,268.9 564,272.0 565,264.8 565,280.8 565,253.0 565,243.9 565,272.4 565,258.6 566,270.1 566,279.7 566,269.8 566,257.6 566,265.7 566,246.6 567,268.7 567,288.9 567,264.9 567,278.3 567,261.2 567,276.7 567,277.8 568,276.4 568,277.3 568,271.4 568,266.9 568,274.9 568,272.2 569,270.1 569,253.4 569,269.3 569,250.6 569,258.6 569,261.9 569,249.0 570,270.2 570,273.6 570,266.5 570,276.4 570,267.1 570,271.4 571,268.9 571,263.0 571,270.8 571,265.7 571,284.5 571,276.0 571,265.4 572,259.5 572,262.2 572,270.6 572,274.8 572,269.1 572,285.2 573,278.2 573,276.4 573,257.5 573,271.9 573,249.0 573,262.8 573,272.8 574,271.8 574,271.3 574,281.8 574,259.7 574,265.0 574,275.1 575,280.0 575,270.0 575,260.9 575,263.5 575,252.6 575,269.7 575,275.4 576,269.4 576,279.4 576,279.7 576,283.0 576,272.0 576,282.8 577,251.7 577,271.9 577,276.9 577,280.3 577,279.2 577,278.9 577,271.1 578,260.8 578,278.9 578,275.9 578,260.8 578,278.5 578,271.3 579,267.9 579,270.8 579,271.8 579,270.3 579,277.4 579,278.4 579,273.8 580,275.4 580,270.4 580,276.3 580,270.8 580,273.2 580,267.1 581,284.4 581,245.3 581,278.7 581,281.7 581,278.5 581,262.4 581,280.9 582,267.8 582,266.3 582,246.1 582,263.5 582,278.5 582,274.1 583,270.4 583,275.1 583,255.3 583,267.6 583,278.7 583,246.2 583,268.6 584,260.5 584,263.4 584,258.8 584,272.2 584,271.4 584,268.7 585,283.8 585,262.6 585,282.0 585,267.7 585,276.5 585,274.5 585,275.0 586,268.6 586,282.0 586,265.7 586,261.9 586,264.2 586,275.3 587,270.7 587,264.9 587,271.4 587,269.0 587,274.6 587,287.7 587,253.0 588,276.6 588,256.4 588,264.8 588,271.9 588,281.1 588,268.8 589,262.8 589,266.1 589,265.4 589,268.7 589,271.8 589,265.5 589,270.0 590,271.0 590,279.1 590,274.4 590,267.9 590,271.3 590,253.2 591,268.5 591,261.8 591,268.9 591,273.4 591,272.3 591,273.8 591,270.2 592,268.6 592,283.8 592,266.0 592,283.4 592,281.2 592,278.1 593,272.5 593,253.7 593,275.1 593,264.1 593,279.5 593,275.6 593,259.3 594,272.2 594,258.9 594,256.8 594,264.5 594,268.2 594,276.8 595,267.8 595,269.7 595,250.3 595,259.2 595,265.7 595,267.0 595,247.6 596,274.7 596,271.0 596,256.9 596,263.0 596,275.8 596,259.8 597,264.2 597,280.0 597,274.9 597,276.2 597,270.5 597,271.7 597,283.6 598,268.2 598,285.2 598,280.9 598,262.3 598,274.0 598,274.4 599,261.5 599,262.1 599,266.4 599,265.2 599,279.5 599,275.8 599,260.1 600,260.4 600,244.1 600,272.4 600,268.4 600,270.0 600,264.2 601,284.4 601,268.9 601,269.3 601,278.5 601,270.0 601,277.3 602,264.7 602,268.2 602,271.1 602,269.6 602,288.3 602,264.4 602,266.5 603,279.9 603,279.3 603,265.2 603,247.7 603,265.7 603,281.5 604,275.2 604,288.2 604,280.2 604,276.6 604,268.5 604,265.3 604,278.9 605,255.6 605,280.2 605,263.4 605,280.9 605,281.0 605,277.6 606,275.9 606,271.4 606,277.2 606,283.0 606,262.4 606,258.0 606,271.2 607,270.0 607,274.0 607,285.3 607,268.6 607,280.7 607,277.0 608,259.7 608,277.7 608,283.9 608,267.2 608,266.4 608,265.7 608,272.8 609,280.9 609,260.9 609,268.0 609,271.1 609,271.8 609,280.0 610,267.1 610,248.7 610,279.0 610,271.9 610,271.5 610,274.8 610,287.8 611,269.2 611,271.0 611,272.9 611,282.1 611,279.3 611,281.2 612,270.0 612,281.7 612,273.1 612,259.1 612,273.0 612,269.9 612,261.8 613,278.5 613,270.7 613,258.0 613,266.6 613,278.6 613,280.6 614,281.2 614,284.6 614,272.4 614,276.5 614,282.4 614,283.2 614,273.4 615,288.6 615,268.9 615,260.1 615,274.7 615,278.9 615,265.6 616,260.1 616,252.9 616,271.1 616,274.1 616,284.9 616,275.1 616,268.2 617,269.9 617,255.4 617,271.7 617,269.6 617,268.8 617,257.7 618,267.8 618,279.7 618,275.4 618,277.1 618,256.0 618,271.5 618,280.9 619,278.3 619,260.5 619,265.1 619,269.2 619,272.2 619,259.8 620,280.7 620,274.9 620,263.3 620,266.8 620,266.7 620,263.7 620,268.5 621,265.4 621,273.7 621,270.7 621,269.0 621,267.3 621,264.2 622,269.0 622,265.1 622,264.7 622,244.5 622,268.0 622,265.7 622,269.2 623,272.6 623,275.0 623,278.5 623,281.9 623,269.9 623,267.6 624,266.5 624,266.1 624,263.3 624,248.1 624,273.2 624,279.1 624,273.6 625,259.9 625,282.3 625,270.1 625,275.6 625,261.9 625,272.2 626,258.2 626,280.5 626,275.3 626,277.9 626,281.0 626,266.4 626,269.0 627,270.8 627,265.7 627,262.8 627,281.0 627,249.5 627,275.0 628,268.5 628,253.0 628,281.2 628,266.4 628,291.6 628,275.2 628,286.4 629,254.9 629,272.3 629,276.0 629,273.0 629,257.8 629,264.3 630,266.1 630,267.2 630,275.0 630,278.8 630,279.1 630,264.9 630,243.2 631,265.5 631,261.8 631,271.5 631,246.2 631,278.0 631,280.0 632,286.4 632,267.4 632,265.7 632,257.3 632,279.6 632,276.7 632,269.7 633,283.6 633,280.3 633,280.7 633,276.0 633,268.4 633,284.4 634,278.2 634,275.5 634,257.3 634,262.7 634,257.1 634,273.1 635,252.8 635,268.3 635,260.7 635,281.8 635,285.9 635,282.4 635,282.0 636,285.1 636,270.2 636,266.6 636,256.1 636,272.3 636,261.9 637,277.8 637,250.6 637,270.4 637,282.1 637,260.1 637,275.0 637,281.9 638,266.1 638,280.2 638,273.9 638,272.4 638,253.5 638,262.8 639,277.2 639,261.5 639,271.3 639,276.0 639,281.3 639,280.7 639,267.9 640,271.1 640,243.8 640,276.7 640,270.5 640,268.8 640,260.6 641,261.7 641,274.4 641,285.0 641,289.7 641,273.7 641,269.2 641,254.3 642,255.9 642,279.0 642,283.1 642,275.6 642,284.8 642,271.5 643,261.7 643,248.9 643,276.4 643,257.3 643,250.0 643,266.9 643,265.9 644,260.4 644,279.5 644,275.5 644,264.0 644,263.0 644,269.6 645,279.6 645,256.7 645,271.3 645,273.7 645,267.3 645,275.4 645,263.7 646,264.2 646,273.5 646,285.9 646,287.0 646,278.3 646,264.1 647,277.2 647,274.8 647,265.7 647,285.7 647,265.8 647,274.8 647,276.0 648,265.5 648,271.5 648,261.3 648,280.4 648,277.2 648,272.4 649,263.4 649,277.0 649,270.5 649,265.5 649,262.0 649,274.1 649,268.7 650,261.3 650,251.3 650,267.5 650,264.1 650,277.4 650,293.3 651,277.2 651,278.4 651,279.9 651,281.2 651,283.1 651,274.0 651,272.2 652,278.1 652,275.0 652,266.6 652,270.6 652,250.3 652,255.1 653,262.8 653,276.2 653,270.5 653,286.5 653,275.7 653,272.8 653,273.6 654,283.7 654,263.8 654,255.5 654,270.2 654,264.5 654,276.4 655,284.1 655,274.5 655,273.1 655,267.7 655,277.7 655,282.1 655,287.0 656,266.5 656,278.4 656,266.8 656,285.5 656,289.3 656,285.2 657,254.8 657,275.7 657,292.1 657,284.2 657,286.6 657,274.8 657,275.8 658,273.2 658,270.8 658,278.7 658,285.3 658,279.7 658,277.2 659,264.0 659,272.3 659,272.1 659,276.8 659,276.6 659,271.9 659,276.8 660,275.9 660,281.8 660,261.0 660,268.7 660,264.8 660,254.5 661,266.4 661,246.9 661,270.7 661,266.4 661,280.0 661,266.1 661,273.5 662,263.2 662,281.1 662,275.0 662,274.0 662,256.5 662,278.6 663,273.0 663,266.8 663,264.5 663,284.5 663,281.7 663,268.6 663,273.5 664,264.8 664,271.6 664,270.4 664,272.1 664,266.5 664,281.1 665,275.0 665,257.7 665,255.1 665,269.6 665,253.3 665,260.9 665,260.6 666,273.1 666,278.7 666,273.9 666,263.6 666,272.1 666,268.1 667,274.3 667,280.3 667,274.9 667,269.1 667,268.8 667,264.4 668,252.1 668,279.2 668,274.5 668,266.5 668,260.7 668,277.4 668,270.5 669,264.1 669,257.0 669,269.1 669,276.9 669,268.1 669,274.4 670,275.7 670,261.9 670,259.5 670,261.1 670,273.2 670,280.1 670,284.8 671,273.3 671,283.3 671,267.1 671,252.5 671,277.3 671,270.1 672,279.4 672,262.3 672,276.5" stroke="#ff00ff" marker-start="url(#mm)" marker-mid="url(#mm)" marker-end="url(#mm)"/>
<polyline points="61,244.5 61,185.5 62,223.4 62,250.5 62,247.7 63,247.5 63,232.4 63,245.1 63,226.6 64,253.9 64,192.8 64,227.7 64,221.8 65,235.7 65,249.4 65,239.6 65,223.2 66,241.6 66,227.8 66,210.9 67,228.6 67,202.8 67,233.7 67,223.3 68,263.4 68,229.3 68,228.5 68,251.7 69,258.2 69,278.2 69,231.0 69,195.3 70,255.2 70,240.9 70,230.3 71,239.6 71,217.1 71,234.5 71,218.5 72,252.1 72,240.6 72,239.1 72,218.3 73,256.5 73,245.6 73,237.1 73,228.2 74,218.8 74,228.4 74,257.8 75,216.6 75,224.0 75,226.0 75,234.2 76,224.5 76,238.9 76,237.5 76,230.4 77,251.9 77,236.9 77,230.1 77,251.1 78,239.5 78,242.4 78,239.2 79,250.0 79,214.5 79,243.8 79,233.7 80,258.3 80,252.2 80,247.0 80,253.0 81,215.7 81,230.5 81,224.8 81,255.3 82,229.9 82,224.5 82,244.7 83,237.0 83,214.7 83,258.0 83,244.9 84,217.2 84,258.1 84,202.7 84,251.2 85,236.8 85,220.8 85,213.7 85,267.7 86,243.8 86,215.0 86,248.5 87,214.3 87,200.0 87,240.2 87,244.2 88,255.2 88,250.4 88,209.4 88,242.5 89,249.1 89,243.0 89,246.7 90,243.2 90,226.1 90,245.6 90,245.3 91,221.7 91,231.5 91,234.9 91,246.6 92,232.9 92,241.6 92,218.5 92,204.1 93,246.0 93,246.1 93,229.4 94,252.0 94,243.0 94,247.8 94,243.0 95,201.2 95,230.8 95,215.0 95,232.7 96,207.8 96,253.0 96,242.4 96,206.1 97,233.1 97,221.9 97,229.9 98,205.8 98,201.3 98,209.1 98,236.5 99,262.6 99,240.2 99,251.8 99,258.3 100,251.1 100,244.4 100,256.0 100,256.0 101,265.4 101,246.1 101,286.9 102,228.9 102,235.3 102,235.4 102,245.6 103,208.5 103,216.2 103,208.5 103,200.9 104,259.2 104,232.6 104,233.3 104,229.4 105,236.6 105,227.3 105,227.8 106,249.7 106,243.3 106,241.1 106,228.7 107,237.5 107,220.2 107,230.3 107,232.3 108,244.0 108,242.8 108,277.7 108,243.4 109,245.6 109,223.6 109,232.5 110,219.6 110,245.2 110,204.5 110,246.7 111,286.4 111,243.7 111,235.4 111,220.6 112,201.9 112,226.0 112,233.5 112,250.4 113,224.7 113,240.3 113,229.2 114,257.5 114,218.3 114,274.1 114,236.2 115,217.8 115,277.2 115,235.1 115,227.7 116,222.5 116,241.5 116,227.6 117,249.1 117,231.3 117,237.0 117,238.4 118,259.6 118,243.7 118,260.8 118,262.6 119,234.9 119,224.0 119,239.3 119,255.4 120,245.0 120,254.7 120,265.9 121,257.3 121,259.1 121,217.7 121,252.3 122,250.4 122,258.9 122,264.4 122,252.0 123,198.8 123,240.7 123,240.1 123,220.1 124,232.3 124,249.0 124,218.5 125,232.7 125,251.8 125,226.8 125,236.2 126,230.9 126,260.0 126,236.6 126,225.0 127,218.1 127,220.2 127,219.7 127,265.3 128,222.9 128,199.8 128,223.2 129,215.9 129,235.8 129,232.6 129,196.5 130,204.9 130,246.4 130,237.3 130,223.8 131,253.6 131,184.8 131,229.4 131,247.5 132,241.3 132,234.6 132,248.5 133,224.7 133,235.8 133,250.5 133,221.4 134,247.6 134,261.6 134,246.5 134,246.5 135,236.6 135,229.0 135,216.3 135,234.6 136,261.9 136,246.9 136,249.7 137,242.7 137,224.4 137,266.5 137,239.7 138,215.1 138,243.1 138,246.6 138,232.5 139,229.5 139,232.9 139,217.1 139,253.1 140,254.6 140,226.3 140,239.6 141,247.9 141,226.8 141,239.5 141,230.3 142,259.2 142,228.8 142,169.8 142,217.0 143,238.8 143,252.0 143,226.7 143,254.1 144,203.0 144,233.6 144,237.2 145,159.1 145,241.7 145,197.3 145,177.1 146,240.4 146,257.2 146,220.1 146,242.4 147,198.2 147,168.2 147,248.4 148,238.0 148,183.5 148,165.9 148,251.8 149,236.9 149,254.3 149,240.5 149,228.5 150,167.2 150,229.2 150,219.0 150,214.0 151,227.1 151,224.5 151,207.6 152,191.9 152,225.8 152,213.5 152,230.0 153,219.5 153,249.5 153,238.4 153,247.4 154,271.4 154,192.8 154,227.2 154,230.1 155,230.1 155,230.3 155,230.3 156,266.3 156,234.3 156,238.6 156,201.9 157,221.2 157,228.1 157,209.8 157,248.5 158,199.8 158,214.7 158,199.2 158,231.7 159,224.7 159,218.0 159,218.8 160,250.6 160,163.5 160,237.2 160,239.7 161,238.5 161,230.5 161,200.2 161,208.1 162,234.0 162,152.3 162,203.3 162,239.8 163,222.9 163,239.6 163,253.2 164,266.7 164,237.7 164,234.0 164,206.8 165,235.5 165,244.6 165,247.1 165,226.6 166,260.5 166,195.7 166,240.2 166,214.4 167,225.4 167,228.1 167,228.2 168,236.1 168,240.1 168,244.2 168,248.2 169,234.8 169,240.8 169,247.2 169,246.1 170,245.5 170,226.0 170,227.2 170,243.0 171,248.1 171,215.1 171,195.3 172,234.6 172,236.1 172,248.0 172,249.0 173,241.9 173,225.9 173,258.6 173,247.2 174,283.8 174,256.6 174,249.8 175,246.2 175,227.3 175,217.9 175,241.5 176,221.0 176,213.5 176,258.4 176,224.1 177,241.8 177,222.0 177,241.4 177,257.7 178,205.1 178,245.3 178,253.3 179,251.6 179,257.1 179,258.5 179,242.5 180,264.8 180,257.4 180,240.5 180,239.2 181,222.3 181,234.6 181,217.4 181,225.2 182,232.8 182,271.8 182,220.0 183,187.1 183,217.5 183,253.8 183,244.5 184,233.6 184,247.4 184,259.3 184,228.2 185,248.6 185,258.7 185,239.2 185,261.0 186,231.1 186,240.8 186,245.3 187,221.6 187,203.3 187,256.6 187,226.5 188,219.6 188,202.4 188,236.4 188,241.3 189,269.6 189,261.3 189,253.9 189,218.1 190,219.2 190,253.9 190,270.3 191,243.7 191,260.5 191,252.5 191,249.5 192,247.0 192,258.7 192,246.1 192,262.7 193,258.8 193,233.2 193,252.9 193,221.6 194,255.4 194,209.3 194,238.8 195,241.9 195,269.9 195,269.6 195,268.1 196,260.7 196,241.0 196,238.9 196,255.1 197,242.3 197,245.5 197,234.6 197,262.1 198,244.4 198,250.6 198,219.0 199,243.7 199,228.0 199,264.8 199,232.2 200,253.0 200,240.9 200,258.3 200,249.5 201,238.0 201,237.1 201,213.6 201,241.4 202,240.4 202,227.8 202,249.6 203,229.4 203,267.4 203,239.7 203,210.9 204,243.6 204,286.4 204,248.9 204,240.0 205,250.7 205,217.5 205,229.7 206,259.5 206,251.3 206,247.9 206,240.2 207,258.1 207,237.7 207,228.0 207,221.8 208,240.1 208,243.9 208,230.3 208,220.3 209,235.1 209,217.5 209,248.2 210,256.4 210,256.3 210,245.0 210,245.4 211,248.8 211,257.5 211,270.1 211,263.2 212,242.1 212,239.9 212,261.3 212,259.0 213,266.5 213,223.6 213,270.6 214,255.3 214,300.5 214,268.2 214,257.9 215,257.8 215,266.0 215,256.1 215,263.9 216,269.7 216,262.6 216,247.6 216,250.7 217,276.1 217,248.4 217,239.3 218,263.8 218,242.8 218,273.7 218,257.5 219,266.6 219,231.6 219,274.2 219,277.8 220,272.9 220,244.0 220,261.9 220,254.7 221,266.3 221,263.7 221,244.7 222,237.9 222,264.1 222,249.3 222,259.4 223,270.4 223,250.3 223,233.1 223,258.8 224,238.5 224,256.6 224,266.5 224,258.1 225,262.8 225,263.2 225,249.1 226,244.4 226,250.5 226,262.3 226,270.7 227,256.1 227,269.9 227,235.6 227,231.0 228,258.5 228,268.5 228,242.3 228,269.8 229,269.0 229,243.4 229,250.9 230,272.9 230,266.3 230,261.5 230,259.8 231,233.3 231,256.7 231,244.2 231,258.9 232,247.7 232,267.1 232,271.5 233,261.8 233,244.3 233,234.7 233,259.6 234,258.0 234,253.2 234,276.2 234,276.8 235,267.5 235,257.4 235,246.0 235,250.0 236,249.3 236,246.1 236,277.3 237,269.0 237,242.6 237,246.1 237,267.8 238,247.8 238,269.9 238,245.1 238,251.9 239,269.3 239,269.2 239,247.0 239,256.5 240,243.2 240,262.0 240,233.3 241,248.2 241,258.7 241,253.1 241,256.4 242,266.9 242,251.5 242,267.5 242,266.5 243,270.6 243,251.4 243,264.6 243,271.9 244,248.3 244,241.7 244,261.5 245,261.8 245,255.2 245,259.5 245,258.5 246,242.1 246,256.3 246,256.8 246,257.3 247,261.5 247,252.9 247,255.0 247,261.9 248,250.7 248,231.6 248,70.1 249,263.6 249,239.8 249,258.9 249,269.6 250,261.1 250,272.3 250,254.3 250,267.6 250,270.1 251,286.9 251,267.9 251,284.6 251,259.4 251,263.8 251,254.5 251,252.7 252,254.2 252,267.4 252,265.0 252,254.3 252,275.8 252,272.9 253,281.1 253,268.3 253,269.6 253,252.2 253,263.8 253,264.3 253,273.0 254,261.4 254,277.1 254,272.5 254,261.2 254,276.4 254,268.0 255,233.5 255,280.0 255,282.6 255,274.6 255,246.5 255,237.9 255,278.7 256,271.4 256,269.6 256,268.4 256,272.1 256,238.9 256,273.4 257,268.5 257,276.0 257,255.6 257,260.1 257,279.7 257,277.0 257,266.0 258,284.4 258,272.3 258,265.3 258,277.7 258,278.3 258,285.0 259,273.1 259,278.8 259,257.2 259,267.8 259,264.5 259,275.2 259,262.3 260,271.7 260,276.6 260,264.8 260,268.2 260,255.1 260,275.7 261,274.7 261,279.3 261,288.1 261,274.5 261,265.1 261,278.5 261,286.3 262,257.3 262,273.9 262,269.8 262,280.7 262,262.0 262,257.7 263,278.6 263,275.4 263,279.7 263,261.6 263,281.1 263,263.5 263,269.8 264,260.4 264,278.7 264,257.3 264,257.1 264,275.6 264,272.0 265,275.2 265,280.7 265,282.6 265,280.6 265,272.1 265,257.0 266,269.0 266,278.8 266,257.6 266,273.0 266,271.4 266,279.6 266,280.1 267,272.4 267,279.6 267,278.4 267,287.0 267,283.1 267,271.7 268,226.2 268,257.9 268,229.8 268,263.2 268,265.0 268,279.1 268,273.2 269,247.7 269,249.8 269,270.9 269,276.1 269,247.3 269,274.2 270,257.1 270,278.7 270,268.7 270,262.0 270,269.3 270,273.2 270,269.8 271,269.9 271,264.1 271,258.0 271,255.6 271,261.8 271,270.2 272,266.1 272,251.8 272,267.6 272,273.5 272,271.1 272,221.7 272,287.5 273,279.3 273,267.1 273,272.8 273,273.5 273,279.3 273,264.3 274,271.0 274,265.8 274,284.9 274,262.7 274,263.8 274,268.8 274,269.2 275,269.8 275,263.3 275,273.3 275,265.1 275,276.9 275,275.2 276,272.5 276,281.0 276,283.2 276,286.6 276,282.5 276,273.6 276,256.3 277,278.2 277,260.5 277,245.7 277,248.2 277,257.0 277,281.3 278,271.7 278,266.2 278,254.6 278,259.8 278,245.3 278,263.5 278,273.0 279,264.9 279,257.0 279,269.8 279,252.9 279,287.1 279,275.9 280,264.7 280,264.5 280,258.2 280,258.8 280,280.0 280,280.8 280,271.3 281,286.8 281,270.8 281,279.0 281,266.6 281,268.2 281,252.3 282,266.5 282,243.1 282,271.9 282,281.2 282,280.1 282,282.5 282,270.0 283,239.1 283,269.8 283,278.5 283,271.0 283,266.3 283,258.0 284,274.1 284,260.8 284,243.3 284,255.9 284,266.6 284,270.8 284,262.2 285,257.7 285,272.7 285,273.5 285,272.7 285,260.2 285,274.1 286,264.7 286,260.5 286,263.4 286,266.8 286,272.6 286,279.0 286,273.4 287,271.1 287,270.0 287,274.2 287,274.1 287,277.2 287,265.0 288,273.8 288,265.7 288,251.9 288,251.3 288,269.2 288,251.4 288,256.4 289,266.2 289,244.0 289,256.7 289,270.1 289,272.3 289,251.1 290,267.5 290,274.1 290,268.6 290,279.4 290,277.6 290,273.1 290,278.6 291,269.3 291,278.4 291,262.9 291,282.7 291,246.6 291,267.2 292,274.0 292,257.0 292,240.8 292,248.9 292,268.0 292,260.9 292,271.2 293,280.5 293,281.5 293,261.6 293,257.8 293,248.8 293,254.9 294,234.3 294,246.0 294,261.6 294,276.5 294,276.3 294,272.3 294,257.7 295,272.5 295,285.2 295,281.8 295,266.0 295,267.6 295,279.6 296,264.4 296,256.7 296,261.7 296,265.6 296,260.6 296,273.5 296,272.1 297,286.6 297,240.4 297,249.6 297,285.0 297,270.5 297,275.4 298,266.5 298,251.8 298,245.8 298,259.8 298,270.1 298,275.9 299,287.5 299,274.0 299,278.4 299,268.2 299,262.4 299,269.3 299,260.3 300,248.2 300,260.5 300,272.4 300,280.1 300,259.1 300,269.2 301,262.8 301,266.2 301,258.0 301,266.5 301,240.2 301,276.1 301,278.9 302,250.7 302,271.4 302,269.8 302,255.4 302,279.2 302,253.9 303,261.9 303,259.2 303,272.2 303,247.8 303,261.6 303,263.4 303,263.3 304,270.1 304,273.8 304,282.0 304,283.0 304,264.0 304,268.2 305,267.7 305,280.7 305,274.2 305,282.1 305,271.7 305,264.8 305,244.2 306,258.3 306,275.5 306,270.9 306,280.3 306,278.7 306,265.8 307,265.4 307,270.7 307,266.3 307,269.8 307,278.7 307,274.0 307,274.3 308,263.0 308,272.6 308,269.2 308,263.8 308,261.0 308,282.5 309,251.5 309,273.6 309,280.8 309,258.0 309,275.3 309,277.6 309,267.7 310,263.0 310,268.5 310,274.0 310,286.0 310,262.5 310,286.5 311,279.7 311,267.1 311,264.9 311,258.8 311,256.2 311,268.7 311,262.6 312,281.6 312,271.8 312,264.2 312,281.1 312,256.5 312,265.5 313,267.2 313,283.3 313,271.9 313,258.9 313,280.1 313,267.9 313,271.4 314,272.2 314,256.2 314,260.2 314,266.5 314,254.3 314,275.4 315,223.8 315,269.7 315,273.9 315,258.2 315,262.0 315,273.2 315,280.7 316,261.0 316,278.0 316,272.6 316,267.7 316,284.0 316,257.7 317,273.4 317,264.8 317,278.3 317,264.1 317,271.8 317,246.0 317,274.0 318,251.0 318,267.9 318,245.0 318,275.2 318,268.7 318,279.0 319,284.6 319,267.2 319,270.5 319,260.1 319,268.8 319,247.7 319,270.2 320,262.5 320,246.9 320,259.1 320,276.8 320,272.4 320,265.3 321,279.2 321,277.0 321,285.0 321,278.3 321,282.3 321,279.0 321,264.1 322,260.8 322,259.1 322,264.8 322,265.8 322,261.7 322,254.6 323,267.1 323,271.7 323,280.7 323,283.9 323,254.8 323,280.0 323,267.7 324,258.8 324,265.8 324,283.0 324,264.6 324,267.7 324,262.3 325,276.2 325,269.9 325,282.6 325,261.3 325,277.4 325,284.7 325,276.8 326,256.5 326,251.7 326,245.2 326,244.0 326,263.8 326,262.9 327,269.5 327,285.1 327,266.4 327,275.6 327,267.7 327,268.7 327,274.5 328,268.6 328,266.6 328,278.8 328,288.4 328,243.6 328,264.1 329,267.9 329,275.6 329,278.7 329,271.6 329,270.5 329,281.9 329,274.1 330,276.0 330,270.4 330,268.4 330,265.0 330,261.5 330,273.9 331,253.6 331,239.9 331,278.6 331,266.4 331,276.7 331,275.2 331,269.2 332,271.8 332,273.1 332,243.0 332,252.8 332,260.7 332,232.2 333,279.0 333,287.0 333,280.2 333,284.3 333,280.0 333,281.5 334,277.7 334,265.0 334,276.1 334,282.5 334,276.3 334,263.9 334,267.3 335,259.9 335,249.2 335,263.3 335,275.5 335,281.1 335,269.5 336,260.5 336,255.2 336,265.4 336,278.2 336,266.9 336,267.3 336,261.8 337,287.2 337,277.6 337,268.5 337,267.7 337,280.4 337,275.1 338,276.7 338,264.8 338,276.4 338,268.4 338,284.8 338,271.2 338,276.4 339,273.9 339,279.0 339,266.5 339,273.2 339,280.9 339,271.5 340,274.7 340,276.3 340,283.6 340,261.0 340,252.9 340,254.2 340,268.0 341,273.4 341,262.2 341,270.7 341,282.0 341,281.6 341,268.2 342,261.8 342,277.7 342,282.9 342,277.5 342,277.0 342,248.2 342,276.7 343,280.4 343,279.8 343,274.0 343,275.6 343,279.4 343,267.1 344,270.2 344,271.0 344,261.0 344,267.7 344,268.6 344,274.7 344,281.6 345,278.3 345,271.8 345,264.7 345,279.6 345,272.7 345,266.6 346,261.1 346,263.8 346,269.0 346,266.6 346,240.1 346,262.0 346,279.6 347,280.8 347,277.8 347,271.7 347,258.1 347,265.8 347,276.1 348,280.6 348,268.3 348,281.3 348,264.8 348,274.1 348,272.6 348,267.0 349,264.0 349,242.4 349,274.4 349,283.5 349,281.0 349,263.1 350,280.4 350,270.4 350,270.9 350,271.2 350,284.1 350,265.7 350,245.3 351,278.0 351,263.0 351,247.0 351,272.1 351,279.0 351,269.6 352,268.5 352,258.1 352,250.1 352,264.7 352,268.6 352,280.3 352,278.1 353,271.8 353,286.2 353,270.5 353,263.3 353,253.1 353,268.0 354,267.7 354,271.0 354,282.0 354,285.9 354,274.2 354,282.3 354,261.1 355,267.2 355,263.9 355,275.3 355,248.3 355,271.4 355,265.1 356,279.0 356,265.2 356,284.8 356,278.7 356,279.7 356,284.7 356,277.2 357,274.6 357,270.5 357,260.2 357,255.2 357,270.0 357,256.1 358,260.9 358,268.7 358,262.3 358,284.3 358,266.3 358,276.0 358,279.6 359,273.0 359,262.3 359,252.2 359,269.4 359,255.9 359,277.6 360,276.4 360,277.0 360,281.4 360,258.9 360,263.0 360,259.9 360,272.0 361,265.2 361,267.9 361,265.6 361,272.0 361,283.2 361,270.3 362,260.5 362,271.0 362,276.0 362,268.1 362,268.0 362,280.7 362,278.1 363,277.4 363,267.9 363,267.2 363,255.4 363,278.6 363,269.1 364,276.4 364,274.3 364,283.8 364,275.2 364,280.0 364,276.0 364,279.7 365,275.1 365,273.5 365,271.2 365,275.9 365,259.6 365,268.1 366,250.2 366,259.4 366,264.5 366,267.2 366,283.4 366,274.7 367,249.8 367,262.1 367,268.6 367,274.2 367,273.0 367,271.9 367,272.0 368,274.8 368,283.6 368,280.2 368,272.7 368,269.3 368,270.3 369,278.1 369,275.3 369,275.5 369,265.8 369,278.5 369,266.9 369,272.1 370,274.3 370,256.9 370,271.2 370,265.4 370,262.2 370,268.3 371,273.3 371,280.9 371,259.7 371,282.0 371,285.8 371,261.5 371,277.3 372,268.3 372,268.7 372,276.0 372,285.3 372,276.2 372,273.0 373,267.0 373,271.5 373,275.5 373,277.9 373,263.1 373,263.3 373,274.0 374,265.9 374,278.6 374,266.3 374,275.2 374,264.3 374,266.6 375,285.7 375,271.5 375,272.6 375,281.2 375,278.0 375,273.3 375,276.8 376,270.7 376,273.5 376,263.1 376,265.4 376,283.8 376,283.9 377,277.7 377,273.5 377,276.8 377,280.1 377,273.0 377,272.7 377,264.1 378,274.2 378,281.0 378,276.0 378,270.3 378,259.5 378,270.1 379,266.8 379,272.4 379,276.7 379,276.9 379,269.2 379,275.0 379,266.8 380,281.1 380,262.2 380,270.8 380,269.3 380,277.4 380,257.7 381,264.9 381,259.4 381,258.8 381,264.3 381,271.0 381,264.1 381,278.0 382,270.2 382,254.3 382,269.8 382,270.4 382,268.7 382,272.7 383,254.3 383,266.1 383,282.1 383,276.2 383,278.6 383,264.8 383,277.8 384,277.8 384,288.5 384,277.7 384,262.7 384,268.7 384,270.4 385,274.8 385,262.6 385,274.1 385,272.0 385,269.6 385,272.1 385,286.9 386,286.4 386,275.5 386,270.6 386,270.0 386,275.7 386,268.8 387,274.2 387,281.3 387,270.5 387,276.4 387,269.5 387,266.9 387,282.0 388,260.2 388,255.4 388,279.9 388,279.6 388,287.0 388,271.0 389,273.9 389,276.4 389,277.7 389,272.4 389,276.8 389,273.4 389,273.4 390,283.0 390,263.3 390,269.5 390,277.6 390,281.6 390,278.3 391,268.1 391,269.9 391,285.7 391,261.3 391,279.4 391,258.5 391,276.6 392,278.8 392,274.1 392,270.2 392,278.0 392,253.1 392,282.5 393,268.5 393,270.6 393,278.9 393,273.4 393,269.5 393,285.9 393,286.8 394,280.7 394,275.2 394,271.0 394,274.3 394,280.2 394,262.1 395,268.4 395,266.0 395,282.4 395,282.5 395,273.9 395,271.3 395,274.6 396,280.8 396,276.0 396,271.4 396,283.3 396,284.8 396,272.3 397,267.6 397,270.5 397,264.6 397,272.0 397,269.0 397,261.3 397,269.1 398,281.6 398,271.6 398,267.3 398,269.0 398,259.3 398,275.5 399,283.2 399,269.9 399,278.0 399,272.3 399,289.0 399,284.6 400,272.0 400,274.4 400,276.1 400,260.2 400,278.4 400,275.0 400,264.5 401,269.4 401,264.4 401,265.6 401,274.9 401,274.9 401,277.6 402,270.8 402,272.2 402,262.9 402,268.3 402,258.4 402,275.5 402,276.3 403,275.2 403,262.7 403,268.6 403,268.2 403,271.0 403,262.9 404,266.3 404,288.0 404,272.2 404,267.0 404,264.1 404,272.3 404,271.6 405,269.3 405,264.9 405,263.9 405,271.5 405,267.8 405,267.1 406,262.8 406,272.0 406,280.9 406,271.5 406,268.1 406,282.1 406,276.2 407,287.5 407,292.0 407,267.4 407,269.3 407,272.8 407,260.3 408,274.1 408,284.8 408,271.7 408,270.7 408,271.3 408,275.0 408,267.3 409,264.3 409,274.6 409,280.6 409,263.4 409,269.2 409,269.7 410,280.0 410,283.6 410,291.0 410,278.1 410,272.3 410,278.0 410,276.3 411,271.7 411,262.3 411,283.1 411,278.7 411,267.9 411,268.3 412,271.7 412,280.7 412,247.7 412,258.4 412,265.6 412,276.5 412,273.4 413,274.0 413,271.0 413,258.6 413,271.3 413,280.8 413,279.4 414,271.0 414,259.0 414,282.9 414,263.6 414,272.1 414,300.5 414,268.7 415,272.9 415,267.9 415,268.8 415,272.9 415,270.3 415,284.4 416,273.7 416,280.8 416,277.9 416,279.5 416,276.3 416,265.2 416,265.1 417,274.8 417,276.0 417,275.6 417,273.2 417,266.0 417,265.8 418,272.7 418,249.5 418,261.8 418,255.8 418,265.1 418,257.6 418,260.3 419,272.5 419,282.7 419,273.6 419,285.1 419,273.4 419,255.7 420,254.8 420,256.9 420,271.6 420,267.8 420,282.0 420,282.6 420,283.0 421,269.7 421,274.4 421,265.1 421,258.5 421,266.4 421,270.9 422,269.7 422,276.5 422,267.1 422,247.7 422,251.3 422,278.1 422,265.7 423,277.0 423,262.4 423,271.5 423,275.5 423,276.5 423,272.3 424,274.6 424,273.8 424,275.4 424,283.0 424,272.3 424,267.5 424,269.6 425,269.1 425,259.9 425,256.6 425,264.4 425,270.8 425,278.5 426,282.8 426,287.3 426,282.4 426,263.5 426,267.0 426,283.2 426,280.8 427,269.5 427,272.3 427,277.8 427,277.5 427,285.8 427,278.0 428,269.7 428,283.8 428,273.3 428,277.0 428,283.2 428,267.5 428,272.4 429,267.4 429,271.4 429,275.4 429,261.4 429,282.1 429,271.2 430,279.5 430,284.3 430,279.0 430,285.3 430,278.0 430,260.2 430,264.8 431,269.8 431,271.7 431,272.7 431,286.3 431,266.7 431,273.4 432,265.2 432,269.7 432,276.1 432,286.3 432,270.2 432,278.1 433,285.6 433,268.0 433,282.1 433,264.7 433,278.4 433,267.3 433,280.4 434,242.6 434,264.2 434,265.1 434,269.1 434,261.4 434,263.1 435,263.4 435,275.2 435,270.9 435,287.0 435,281.5 435,278.2 435,282.4 436,270.3 436,275.4 436,271.2 436,268.7 436,264.6 436,267.3 437,270.9 437,273.9 437,278.0 437,274.5 437,280.0 437,259.3 437,274.8 438,267.7 438,260.5 438,270.5 438,279.9 438,277.2 438,278.7 439,276.3 439,269.7 439,266.8 439,252.2 439,262.6 439,275.0 439,265.6 440,267.8 440,251.6 440,254.7 440,267.7 440,267.5 440,262.2 441,271.2 441,282.4 441,277.5 441,278.3 441,247.0 441,270.4 441,266.8 442,253.0 442,260.6 442,264.7 442,280.8 442,274.8 442,277.1 443,278.1 443,285.4 443,277.8 443,275.3 443,280.6 443,285.3 443,271.9 444,276.7 444,267.9 444,273.4 444,279.7 444,282.4 444,275.8 445,287.4 445,283.0 445,262.9 445,266.9 445,262.6 445,266.5 445,276.3 446,276.9 446,267.6 446,264.8 446,275.7 446,267.2 446,265.7 447,270.9 447,262.3 447,271.2 447,284.9 447,273.2 447,271.7 447,256.4 448,266.2 448,256.6 448,268.8 448,272.9 448,278.0 448,276.2 449,266.8 449,259.4 449,260.1 449,267.8 449,275.9 449,274.1 449,271.9 450,274.0 450,262.9 450,279.3 450,269.9 450,265.9 450,262.5 451,276.4 451,281.3 451,271.7 451,277.9 451,277.8 451,279.9 451,258.0 452,289.7 452,285.6 452,266.5 452,276.1 452,286.7 452,272.3 453,258.9 453,269.6 453,264.0 453,281.0 453,279.6 453,276.1 453,270.8 454,273.6 454,271.1 454,276.4 454,276.4 454,273.2 454,270.4 455,261.5 455,278.5 455,263.8 455,255.0 455,270.6 455,271.0 455,274.4 456,270.0 456,279.3 456,275.8 456,264.7 456,255.3 456,256.2 457,258.8 457,252.7 457,262.8 457,270.2 457,257.1 457,273.0 457,265.0 458,263.2 458,262.7 458,263.7 458,262.9 458,271.1 458,281.9 459,286.9 459,278.1 459,282.2 459,286.3 459,279.4 459,276.3 459,274.0 460,261.0 460,277.3 460,278.7 460,270.0 460,281.4 460,269.2 461,272.7 461,290.1 461,269.7 461,280.7 461,268.3 461,271.6 461,269.4 462,269.1 462,255.5 462,274.1 462,273.4 462,263.0 462,262.6 463,284.6 463,267.4 463,273.7 463,269.0 463,281.3 463,255.5 463,276.1 464,276.5 464,279.7 464,270.9 464,270.8 464,262.6 464,265.0 465,274.1 465,279.4 465,274.3 465,279.0 465,275.0 465,269.0 465,276.1 466,265.2 466,283.3 466,280.2 466,284.2 466,287.8 466,267.8 467,264.6 467,269.8 467,274.1 467,260.2 467,255.5 467,286.0 468,278.4 468,286.6 468,280.3 468,269.8 468,274.9 468,259.2 468,267.9 469,267.4 469,276.1 469,258.7 469,273.8 469,265.7 469,270.7 470,263.7 470,274.3 470,279.6 470,262.1 470,263.6 470,281.6 470,281.5 471,281.0 471,277.5 471,277.8 471,261.6 471,271.3 471,275.9 472,280.4 472,261.5 472,265.8 472,273.6 472,261.9 472,261.2 472,264.5 473,276.5 473,268.8 473,285.9 473,271.2 473,270.7 473,271.0 474,262.1 474,278.1 474,274.1 474,284.0 474,282.2 474,285.3 474,275.9 475,264.9 475,280.6 475,279.5 475,272.2 475,268.8 475,272.0 476,283.1 476,274.6 476,276.8 476,273.5 476,271.5 476,272.0 476,264.4 477,270.1 477,252.8 477,269.2 477,278.6 477,262.1 477,263.0 478,273.5 478,275.3 478,263.5 478,267.9 478,272.1 478,273.3 478,283.7 479,275.4 479,285.2 479,271.8 479,272.6 479,274.7 479,271.5 480,282.5 480,269.2 480,263.7 480,257.7 480,268.3 480,257.2 480,257.4 481,271.4 481,266.0 481,253.9 481,262.3 481,263.8 481,273.5 482,268.4 482,283.1 482,274.0 482,267.5 482,276.3 482,286.5 482,273.1 483,270.4 483,265.2 483,268.4 483,264.6 483,278.8 483,285.1 484,278.0 484,280.0 484,254.5 484,279.7 484,268.6 484,271.9 484,278.4 485,267.7 485,277.3 485,262.4 485,276.5 485,273.9 485,278.6 486,272.7 486,283.7 486,280.1 486,278.2 486,276.5 486,280.7 486,275.9 487,271.5 487,260.8 487,273.8 487,278.8 487,261.4 487,280.5 488,267.6 488,281.0 488,275.2 488,285.3 488,286.8 488,285.7 488,270.8 489,276.8 489,262.7 489,271.6 489,275.7 489,278.0 489,280.1 490,277.2 490,270.1 490,267.5 490,276.0 490,271.1 490,281.9 490,276.5 491,277.3 491,277.8 491,268.1 491,269.0 491,261.7 491,281.8 492,272.5 492,279.2 492,261.8 492,277.7 492,282.9 492,281.5 492,279.5 493,282.1 493,276.2 493,275.6 493,282.6 493,271.5 493,259.9 494,261.3 494,266.7 494,270.4 494,281.8 494,286.9 494,285.8 494,270.8 495,261.8 495,273.2 495,262.9 495,276.8 495,260.0 495,273.7 496,286.2 496,271.7 496,277.9 496,271.8 496,277.1 496,268.4 496,276.3 497,262.5 497,275.0 497,260.7 497,264.8 497,265.3 497,257.0 498,272.3 498,270.9 498,275.3 498,274.6 498,276.7 498,269.3 498,281.4 499,280.2 499,274.6 499,268.2 499,273.9 499,264.7 499,284.2 500,276.1 500,283.5 500,274.8 500,273.5 500,275.5 500,273.2 501,265.0 501,268.1 501,275.3 501,273.4 501,262.7 501,253.5 501,261.3 502,276.3 502,270.4 502,269.1 502,281.0 502,266.3 502,271.4 503,273.5 503,268.0 503,269.7 503,287.4 503,277.6 503,270.3 503,279.7 504,271.9 504,277.5 504,279.8 504,274.7 504,286.0 504,272.7 505,272.7 505,276.8 505,272.3 505,274.3 505,279.4 505,283.2 505,283.9 506,277.1 506,262.1 506,264.5 506,249.9 506,263.3 506,277.8 507,278.1 507,280.6 507,283.5 507,274.0 507,275.6 507,283.1 507,265.6 508,269.0 508,279.1 508,272.4 508,281.7 508,274.9 508,268.4 509,286.9 509,266.7 509,287.2 509,271.9 509,280.9 509,271.4 509,278.4 510,276.6 510,249.9 510,266.3 510,268.7 510,279.8 510,277.2 511,287.6 511,286.3 511,272.5 511,268.2 511,277.8 511,270.4 511,271.0 512,274.9 512,266.2 512,266.8 512,263.1 512,282.9 512,276.4 513,274.7 513,252.4 513,286.3 513,255.9 513,271.9 513,259.1 513,268.1 514,277.2 514,270.9 514,279.4 514,291.3 514,285.0 514,281.2 515,273.6 515,265.1 515,266.0 515,270.4 515,280.4 515,283.1 515,275.1 516,259.8 516,271.0 516,265.1 516,280.2 516,263.6 516,262.5 517,259.2 517,259.0 517,265.2 517,272.3 517,272.4 517,271.8 517,281.3 518,282.9 518,281.0 518,268.6 518,278.5 518,264.3 518,260.5 519,270.8 519,281.2 519,280.1 519,271.6 519,261.4 519,268.7 519,276.0 520,275.6 520,277.8 520,281.1 520,265.3 520,258.7 520,273.2 521,279.5 521,268.0 521,283.1 521,278.6 521,271.9 521,259.1 521,276.2 522,274.2 522,263.9 522,282.8 522,283.1 522,245.8 522,254.2 523,268.0 523,274.7 523,276.0 523,283.0 523,256.1 523,281.8 523,261.6 524,267.7 524,269.7 524,267.3 524,279.2 524,279.5 524,282.2 525,286.8 525,285.6 525,284.2 525,285.0 525,271.1 525,284.9 525,260.9 526,258.3 526,265.0 526,252.9 526,276.0 526,280.1 526,279.4 527,274.7 527,271.6 527,258.5 527,274.8 527,271.0 527,260.8 527,268.1 528,273.3 528,263.8 528,271.8 528,273.7 528,251.2 528,254.0 529,273.3 529,281.2 529,275.6 529,270.3 529,265.3 529,263.5 529,273.4 530,270.5 530,275.0 530,269.5 530,280.5 530,273.5 530,272.0 531,264.6 531,283.0 531,278.1 531,271.3 531,273.0 531,272.0 531,273.5 532,269.8 532,262.2 532,268.6 532,283.1 532,271.1 532,277.0 533,285.1 533,273.9 533,271.0 533,286.7 533,273.3 533,274.1 534,267.8 534,277.7 534,269.5 534,286.3 534,284.4 534,280.2 534,273.4 535,275.8 535,255.1 535,274.7 535,250.1 535,284.2 535,271.9 536,264.0 536,248.0 536,273.3 536,281.8 536,278.6 536,276.1 536,268.2 537,278.4 537,270.5 537,285.4 537,270.4 537,256.0 537,271.5 538,264.4 538,272.7 538,274.8 538,265.4 538,270.7 538,292.7 538,286.7 539,259.6 539,269.9 539,274.6 539,281.1 539,277.0 539,274.5 540,288.9 540,261.7 540,271.6 540,279.5 540,268.1 540,282.6 540,271.9 541,284.4 541,278.9 541,288.5 541,272.4 541,280.2 541,271.3 542,269.0 542,283.8 542,267.6 542,276.0 542,269.1 542,264.8 542,274.6 543,267.1 543,273.6 543,273.5 543,260.8 543,281.8 543,277.7 544,274.7 544,270.6 544,267.6 544,275.1 544,276.9 544,282.9 544,276.8 545,283.7 545,283.4 545,270.9 545,275.6 545,274.3 545,268.2 546,271.9 546,281.3 546,282.5 546,268.8 546,273.0 546,283.1 546,283.8 547,274.6 547,251.5 547,276.8 547,264.9 547,274.8 547,267.7 548,275.4 548,276.1 548,277.9 548,280.8 548,282.6 548,262.2 548,279.2 549,274.8 549,272.5 549,261.4 549,264.3 549,260.5 549,262.2 550,267.9 550,283.2 550,275.8 550,272.9 550,264.7 550,266.7 550,267.6 551,264.6 551,271.9 551,268.7 551,280.1 551,278.4 551,265.7 552,269.3 552,279.2 552,275.0 552,273.4 552,275.4 552,286.6 552,269.5 553,270.6 553,273.1 553,274.3 553,276.1 553,278.6 553,268.5 554,275.5 554,271.7 554,277.1 554,272.1 554,279.6 554,279.5 554,275.8 555,280.1 555,263.3 555,267.5 555,265.1 555,265.3 555,276.8 556,273.9 556,276.2 556,267.0 556,277.0 556,284.3 556,280.8 556,281.8 557,270.0 557,262.1 557,273.3 557,282.9 557,268.5 557,273.2 558,267.4 558,261.0 558,268.3 558,250.1 558,270.3 558,279.4 558,271.7 559,278.4 559,267.7 559,290.5 559,272.8 559,280.7 559,273.9 560,280.8 560,262.9 560,267.3 560,275.5 560,269.6 560,289.7 560,263.7 561,284.5 561,264.3 561,258.3 561,281.4 561,284.4 561,287.5 562,286.9 562,274.2 562,273.8 562,277.4 562,269.0 562,275.8 562,277.1 563,281.6 563,287.7 563,291.7 563,280.8 563,275.5 563,266.5 564,270.5 564,278.1 564,281.3 564,275.5 564,271.2 564,271.3 564,273.8 565,266.8 565,284.1 565,263.0 565,252.1 565,271.2 565,264.5 566,277.4 566,278.3 566,271.5 566,262.5 566,268.9 566,252.6 567,272.6 567,289.4 567,272.7 567,278.6 567,260.2 567,278.9 567,278.9 568,280.4 568,280.5 568,271.7 568,267.2 568,271.4 568,276.7 569,272.7 569,253.8 569,279.6 569,251.1 569,262.2 569,267.7 569,249.5 570,269.9 570,275.2 570,273.0 570,276.5 570,270.6 570,265.1 571,269.2 571,267.4 571,274.9 571,271.6 571,286.1 571,280.2 571,268.9 572,260.6 572,262.6 572,270.9 572,277.0 572,273.2 572,284.7 573,281.6 573,277.3 573,269.9 573,277.0 573,256.7 573,264.1 573,275.5 574,278.1 574,277.7 574,283.2 574,261.7 574,270.2 574,277.1 575,282.4 575,276.3 575,272.0 575,268.9 575,253.1 575,268.3 575,279.9 576,277.1 576,283.6 576,281.0 576,286.0 576,272.6 576,287.9 577,258.6 577,276.0 577,281.8 577,283.8 577,280.7 577,277.1 577,273.0 578,261.3 578,281.9 578,279.4 578,265.5 578,279.2 578,271.0 579,269.4 579,271.8 579,273.5 579,272.7 579,277.6 579,277.1 579,274.1 580,279.5 580,270.3 580,279.8 580,274.5 580,277.9 580,273.2 581,285.5 581,245.9 581,281.2 581,283.7 581,280.8 581,264.8 581,280.5 582,272.8 582,268.4 582,257.8 582,268.6 582,283.3 582,278.2 583,272.3 583,276.3 583,258.3 583,258.3 583,278.9 583,269.1 583,269.6 584,269.9 584,262.3 584,263.2 584,275.3 584,277.1 584,261.8 585,286.5 585,269.7 585,284.4 585,273.8 585,278.0 585,276.9 585,281.7 586,271.0 586,282.4 586,269.8 586,274.0 586,269.8 586,276.3 587,272.8 587,271.2 587,271.7 587,276.4 587,274.8 587,287.9 587,261.2 588,280.4 588,259.8 588,268.1 588,273.1 588,286.2 588,269.9 589,265.5 589,267.6 589,271.1 589,273.7 589,274.7 589,275.2 589,273.7 590,277.0 590,279.4 590,279.8 590,273.6 590,273.8 590,265.4 591,271.9 591,262.3 591,273.4 591,277.7 591,278.1 591,278.9 591,276.1 592,268.9 592,284.0 592,272.2 592,282.8 592,282.8 592,279.7 593,275.4 593,262.0 593,275.1 593,269.3 593,280.4 593,274.8 593,265.1 594,277.5 594,267.2 594,260.8 594,267.3 594,272.3 594,279.6 595,271.0 595,273.0 595,252.4 595,265.0 595,267.4 595,272.8 595,263.0 596,275.9 596,275.6 596,264.6 596,267.8 596,276.0 596,259.9 597,271.5 597,281.5 597,276.0 597,276.4 597,273.3 597,276.6 597,284.2 598,272.7 598,286.5 598,277.1 598,273.6 598,276.3 598,277.6 599,267.0 599,269.1 599,267.5 599,268.9 599,282.1 599,278.1 599,260.6 600,266.7 600,259.1 600,275.5 600,271.4 600,269.2 600,272.0 601,288.1 601,275.2 601,273.4 601,283.0 601,271.6 601,279.3 602,267.9 602,269.8 602,277.1 602,272.3 602,287.6 602,270.1 602,266.9 603,279.8 603,281.7 603,271.5 603,253.6 603,264.8 603,283.6 604,279.3 604,289.7 604,281.2 604,280.4 604,272.8 604,269.3 604,281.3 605,255.2 605,281.0 605,280.5 605,281.0 605,284.5 605,278.2 606,280.0 606,259.2 606,282.8 606,285.7 606,262.8 606,262.1 606,275.1 607,273.9 607,274.3 607,286.5 607,271.2 607,283.7 607,279.7 608,263.4 608,280.2 608,284.1 608,267.6 608,270.0 608,268.9 608,278.7 609,282.1 609,265.3 609,271.6 609,273.5 609,269.1 609,283.8 610,265.8 610,265.7 610,281.4 610,274.4 610,279.2 610,276.0 610,290.5 611,279.5 611,274.1 611,278.9 611,283.8 611,281.0 611,284.9 612,272.5 612,281.7 612,273.3 612,261.2 612,270.7 612,269.0 612,261.4 613,282.5 613,271.1 613,263.6 613,269.5 613,282.2 613,284.8 614,281.3 614,286.3 614,275.9 614,277.6 614,284.3 614,284.5 614,278.1 615,289.7 615,274.7 615,273.3 615,279.3 615,279.4 615,269.5 616,265.1 616,258.2 616,274.9 616,275.6 616,287.1 616,277.4 616,271.5 617,273.9 617,264.0 617,268.2 617,269.9 617,275.9 617,265.6 618,271.5 618,279.4 618,277.5 618,278.3 618,261.8 618,275.1 618,284.8 619,279.6 619,265.6 619,270.1 619,271.8 619,274.0 619,270.1 620,282.0 620,274.1 620,269.0 620,271.3 620,267.1 620,270.2 620,271.8 621,268.3 621,276.3 621,273.1 621,267.2 621,270.5 621,267.6 622,273.2 622,271.0 622,267.7 622,254.7 622,270.0 622,266.5 622,277.9 623,277.0 623,279.5 623,278.7 623,283.7 623,271.8 623,272.6 624,270.7 624,271.1 624,266.1 624,252.3 624,275.1 624,279.4 624,274.4 625,262.6 625,287.2 625,270.8 625,279.9 625,270.2 625,274.3 626,258.7 626,281.9 626,277.3 626,281.3 626,285.5 626,265.4 626,269.3 627,274.5 627,269.8 627,270.3 627,279.4 627,256.9 627,277.9 628,269.8 628,268.7 628,284.1 628,268.6 628,292.8 628,275.8 628,289.6 629,264.9 629,274.4 629,280.4 629,278.1 629,263.1 629,272.7 630,270.9 630,274.6 630,276.3 630,278.8 630,279.3 630,270.2 630,248.2 631,267.5 631,263.3 631,270.6 631,257.0 631,281.6 631,283.3 632,286.6 632,275.0 632,273.2 632,264.6 632,284.2 632,277.4 632,274.7 633,285.9 633,283.2 633,281.0 633,281.7 633,268.6 633,285.0 634,281.0 634,280.7 634,264.7 634,260.9 634,264.0 634,277.0 635,260.2 635,270.5 635,263.7 635,285.1 635,287.2 635,283.8 635,284.9 636,287.9 636,274.6 636,275.4 636,256.5 636,277.5 636,264.3 637,279.8 637,255.9 637,274.9 637,283.7 637,266.9 637,273.0 637,282.1 638,270.0 638,280.4 638,274.2 638,269.1 638,258.3 638,267.3 639,278.3 639,268.4 639,273.9 639,278.4 639,283.4 639,282.0 639,273.6 640,271.4 640,252.8 640,276.5 640,278.3 640,270.9 640,260.8 641,262.1 641,276.5 641,286.7 641,290.2 641,275.8 641,274.8 641,259.2 642,261.0 642,279.3 642,284.5 642,281.2 642,287.5 642,274.5 643,265.6 643,249.4 643,277.0 643,258.6 643,254.3 643,276.1 643,269.4 644,265.6 644,282.0 644,277.5 644,267.1 644,263.2 644,273.9 645,282.3 645,257.1 645,276.5 645,277.0 645,271.7 645,275.3 645,271.3 646,270.3 646,278.4 646,289.6 646,289.3 646,279.1 646,270.9 647,281.5 647,277.8 647,269.9 647,288.2 647,262.4 647,276.1 647,278.8 648,271.7 648,276.3 648,268.2 648,281.2 648,280.3 648,273.6 649,266.0 649,274.4 649,272.4 649,271.8 649,266.2 649,277.2 649,269.0 650,268.5 650,252.4 650,269.8 650,269.6 650,277.6 650,294.5 651,279.6 651,281.6 651,284.9 651,282.4 651,286.5 651,273.0 651,273.0 652,280.2 652,275.9 652,271.4 652,273.8 652,257.8 652,261.1 653,265.8 653,278.3 653,272.4 653,286.6 653,275.9 653,272.6 653,276.5 654,282.8 654,262.9 654,269.2 654,273.7 654,268.4 654,280.8 655,286.2 655,277.9 655,275.3 655,271.5 655,277.9 655,282.2 655,287.2 656,268.5 656,280.0 656,275.0 656,287.8 656,290.2 656,286.3 657,267.6 657,275.9 657,294.2 657,284.4 657,289.4 657,277.6 657,276.1 658,277.2 658,274.3 658,281.1 658,285.5 658,283.4 658,281.5 659,272.1 659,274.3 659,271.5 659,278.7 659,279.9 659,274.6 659,278.3 660,280.6 660,281.6 660,264.3 660,274.0 660,265.5 660,258.9 661,272.1 661,258.6 661,271.4 661,270.8 661,284.1 661,271.9 661,275.3 662,263.9 662,281.1 662,279.2 662,276.7 662,264.1 662,281.4 663,276.6 663,276.7 663,270.4 663,286.5 663,283.8 663,272.6 663,273.8 664,269.1 664,269.3 664,272.3 664,276.4 664,268.2 664,282.6 665,279.1 665,264.4 665,260.5 665,273.7 665,253.8 665,260.1 665,261.3 666,278.5 666,280.6 666,273.7 666,270.5 666,276.3 666,266.9 667,279.3 667,283.6 667,276.8 667,273.9 667,275.2 667,266.3 668,259.3 668,282.4 668,274.1 668,273.2 668,265.9 668,279.7 668,276.2 669,262.2 669,257.5 669,267.5 669,282.8 669,273.1 669,278.8 670,280.4 670,270.2 670,268.0 670,269.5 670,277.6 670,281.7 670,287.0 671,276.6 671,283.4 671,272.0 671,257.8 671,279.1 671,275.7 672,280.7 672,268.0 672,278.6" stroke="#ff0000" marker-start="url(#mr)" marker-mid="url(#mr)" marker-end="url(#mr)"/>
<polyline points="61,242.8 61,220.1 62,225.1 62,254.0 62,246.1 63,249.7 63,230.3 63,243.4 63,224.3 64,252.5 64,191.3 64,225.5 64,219.4 65,233.7 65,247.8 65,237.7 65,222.3 66,239.8 66,225.5 66,215.7 67,226.4 67,199.8 67,231.6 67,245.1 68,262.2 68,243.3 68,234.5 68,252.8 69,256.9 69,278.8 69,231.2 69,192.0 70,255.6 70,239.1 70,237.0 71,242.5 71,214.5 71,240.0 71,216.0 72,255.6 72,239.9 72,237.2 72,215.8 73,255.1 73,243.9 73,244.5 73,225.9 74,216.3 74,226.2 74,263.2 75,218.9 75,232.7 75,231.5 75,232.1 76,225.0 76,249.5 76,235.5 76,244.4 77,250.4 77,237.3 77,247.2 77,252.5 78,237.6 78,240.6 78,238.9 79,248.4 79,218.2 79,242.0 79,231.6 80,259.3 80,250.7 80,245.4 80,259.0 81,237.7 81,228.4 81,222.5 81,253.9 82,227.7 82,231.6 82,243.0 83,235.1 83,212.0 83,262.9 83,243.2 84,230.2 84,256.8 84,199.7 84,258.1 85,234.8 85,218.3 85,226.9 85,268.4 86,242.0 86,220.3 86,247.0 87,211.6 87,239.5 87,238.3 87,245.2 88,253.8 88,255.3 88,206.6 88,240.7 89,247.5 89,241.2 89,253.0 90,241.5 90,224.3 90,244.7 90,249.4 91,219.7 91,229.4 91,232.9 91,248.3 92,230.8 92,249.6 92,215.9 92,243.5 93,244.3 93,246.2 93,229.4 94,250.5 94,244.3 94,252.2 94,241.2 95,229.3 95,231.6 95,212.3 95,242.7 96,204.9 96,251.5 96,244.3 96,211.5 97,231.0 97,219.5 97,227.7 98,202.9 98,209.6 98,206.3 98,236.0 99,262.4 99,244.8 99,251.6 99,259.2 100,259.6 100,253.1 100,254.6 100,254.6 101,264.3 101,244.7 101,286.5 102,226.6 102,233.3 102,243.3 102,243.9 103,205.7 103,213.6 103,205.7 103,247.0 104,260.5 104,230.5 104,236.5 104,227.2 105,234.7 105,225.1 105,232.1 106,248.1 106,245.3 106,244.7 106,231.4 107,238.7 107,217.7 107,228.2 107,230.2 108,242.3 108,241.0 108,277.0 108,241.6 109,252.8 109,234.8 109,230.4 110,221.3 110,243.5 110,201.6 110,257.6 111,285.9 111,254.1 111,248.7 111,218.1 112,239.4 112,223.7 112,231.5 112,248.8 113,222.4 113,240.9 113,230.8 114,261.8 114,215.8 114,273.2 114,238.8 115,215.3 115,276.5 115,234.9 115,229.4 116,227.9 116,239.6 116,225.3 117,250.3 117,239.5 117,250.6 117,236.5 118,258.4 118,242.8 118,260.8 118,263.0 119,242.6 119,221.7 119,240.2 119,261.8 120,249.0 120,253.3 120,268.7 121,256.0 121,264.2 121,223.0 121,250.8 122,248.8 122,258.5 122,263.3 122,255.9 123,195.7 123,244.6 123,238.2 123,221.2 124,232.6 124,250.7 124,248.1 125,233.4 125,250.3 125,224.5 125,234.3 126,252.1 126,258.8 126,234.6 126,228.6 127,228.4 127,219.6 127,217.2 127,264.6 128,220.5 128,211.9 128,220.8 129,213.3 129,242.3 129,230.5 129,193.3 130,202.0 130,244.8 130,243.5 130,231.1 131,252.1 131,181.3 131,227.2 131,247.0 132,239.4 132,233.4 132,249.5 133,229.5 133,233.8 133,256.7 133,231.7 134,247.6 134,263.5 134,258.4 134,252.1 135,234.6 135,238.9 135,232.7 135,241.1 136,265.5 136,249.4 136,255.6 137,240.9 137,236.0 137,271.5 137,253.9 138,229.4 138,242.8 138,251.6 138,239.7 139,234.6 139,237.8 139,225.9 139,252.4 140,263.0 140,227.7 140,239.2 141,255.6 141,233.4 141,244.4 141,228.1 142,264.7 142,244.4 142,165.7 142,214.4 143,236.9 143,252.0 143,249.7 143,267.4 144,257.3 144,243.1 144,235.3 145,207.3 145,242.1 145,194.1 145,177.8 146,246.5 146,255.9 146,236.1 146,252.3 147,195.0 147,168.2 147,250.8 148,243.4 148,182.8 148,194.1 148,259.0 149,243.8 149,257.9 149,241.5 149,247.5 150,163.0 150,227.0 150,229.7 150,211.3 151,242.8 151,235.9 151,227.4 152,188.5 152,223.5 152,221.4 152,238.0 153,243.5 153,256.6 153,244.8 153,256.4 154,271.7 154,227.8 154,234.7 154,241.6 155,227.9 155,238.9 155,240.0 156,271.2 156,245.3 156,241.8 156,224.4 157,219.8 157,242.7 157,247.6 157,260.0 158,196.7 158,231.7 158,203.9 158,232.5 159,228.2 159,215.5 159,158.4 160,252.4 160,232.7 160,238.8 160,249.3 161,242.1 161,240.8 161,213.5 161,216.0 162,231.9 162,246.3 162,215.7 162,241.4 163,234.1 163,242.9 163,253.7 164,273.7 164,246.8 164,239.6 164,224.3 165,247.8 165,247.2 165,245.4 165,232.6 166,265.5 166,192.4 166,248.6 166,238.0 167,223.1 167,230.8 167,226.0 168,247.7 168,238.3 168,166.1 168,256.2 169,240.7 169,245.3 169,256.2 169,244.4 170,253.5 170,235.6 170,240.8 170,251.7 171,246.5 171,235.0 171,192.0 172,233.1 172,244.7 172,254.6 172,253.6 173,249.2 173,223.6 173,259.7 173,257.1 174,283.3 174,259.2 174,248.2 175,247.6 175,231.5 175,233.4 175,246.1 176,222.7 176,218.9 176,261.4 176,227.7 177,251.0 177,249.5 177,244.1 177,258.5 178,232.3 178,256.5 178,254.4 179,255.3 179,257.1 179,257.2 179,240.7 180,273.6 180,258.3 180,251.9 180,237.3 181,233.5 181,255.4 181,244.5 181,238.2 182,247.4 182,273.6 182,243.1 183,242.3 183,254.3 183,253.7 183,242.7 184,231.6 184,248.7 184,262.2 184,229.6 185,254.3 185,257.4 185,249.5 185,272.0 186,239.0 186,239.0 186,243.6 187,234.6 187,200.3 187,255.2 187,227.4 188,217.1 188,199.4 188,234.4 188,239.4 189,272.6 189,260.1 189,253.0 189,215.5 190,233.8 190,252.5 190,269.3 191,241.9 191,259.3 191,251.0 191,247.9 192,245.4 192,273.2 192,250.4 192,261.5 193,257.9 193,244.2 193,257.5 193,219.2 194,254.1 194,232.2 194,238.1 195,240.1 195,269.0 195,268.6 195,267.1 196,259.4 196,250.2 196,249.5 196,264.8 197,245.7 197,243.8 197,232.5 197,260.9 198,252.8 198,249.0 198,216.5 199,248.9 199,235.6 199,263.7 199,234.3 200,258.7 200,253.1 200,257.0 200,253.4 201,240.0 201,235.2 201,211.0 201,239.5 202,255.4 202,237.8 202,248.0 203,230.0 203,266.4 203,241.2 203,208.2 204,242.3 204,286.9 204,260.3 204,246.5 205,249.2 205,214.9 205,238.9 206,258.2 206,254.6 206,246.3 206,261.1 207,256.8 207,239.1 207,225.7 207,219.4 208,240.0 208,242.1 208,228.2 208,217.8 209,233.1 209,224.7 209,250.8 210,255.1 210,255.4 210,243.4 210,245.3 211,247.2 211,166.1 211,187.2 211,264.4 212,249.5 212,259.7 212,263.5 212,262.8 213,265.4 213,253.7 213,269.7 214,256.0 214,247.5 214,267.9 214,256.6 215,263.0 215,264.9 215,254.7 215,264.6 216,277.0 216,261.4 216,248.4 216,249.2 217,275.3 217,258.3 217,237.5 218,262.7 218,249.9 218,274.6 218,256.2 219,270.6 219,253.4 219,273.4 219,282.5 220,277.0 220,247.0 220,264.6 220,253.3 221,265.2 221,268.5 221,247.1 222,236.0 222,264.1 222,253.3 222,258.1 223,270.7 223,251.4 223,235.1 223,262.1 224,236.6 224,255.3 224,265.4 224,256.7 225,261.6 225,262.0 225,250.4 226,248.4 226,255.3 226,265.8 226,269.8 227,256.9 227,268.9 227,233.6 227,228.8 228,261.8 228,271.8 228,240.5 228,268.8 229,272.1 229,265.7 229,259.1 230,273.6 230,266.2 230,260.9 230,258.6 231,257.0 231,261.5 231,244.4 231,262.1 232,246.1 232,266.1 232,270.6 233,264.2 233,244.0 233,232.7 233,260.9 234,258.0 234,255.7 234,279.0 234,276.1 235,266.5 235,256.0 235,259.4 235,259.2 236,247.7 236,244.5 236,277.0 237,271.8 237,240.8 237,254.2 237,266.8 238,250.1 238,271.5 238,250.2 238,250.4 239,270.5 239,268.2 239,253.5 239,264.7 240,247.6 240,262.2 240,233.2 241,246.6 241,260.0 241,251.7 241,255.0 242,265.9 242,262.2 242,267.4 242,265.8 243,273.7 243,249.9 243,263.8 243,273.1 244,251.0 244,244.2 244,260.3 245,260.6 245,254.4 245,259.0 245,262.9 246,242.2 246,257.9 246,257.5 246,260.0 247,260.3 247,255.3 247,254.7 247,260.7 248,249.2 248,234.5 248,251.0 249,264.4 249,237.9 249,264.4 249,274.1 250,260.9 250,272.9 250,257.4 250,266.2 250,272.3 251,287.2 251,268.4 251,284.3 251,265.3 251,262.9 251,254.7 251,255.4 252,258.0 252,267.7 252,263.5 252,253.7 252,274.8 252,271.8 253,280.5 253,271.5 253,268.3 253,250.2 253,265.2 253,263.9 253,271.8 254,264.3 254,277.2 254,271.3 254,262.3 254,275.4 254,268.9 255,230.7 255,279.2 255,283.3 255,273.5 255,250.9 255,235.2 255,277.8 256,270.9 256,269.0 256,267.0 256,275.8 256,236.4 256,272.5 257,268.7 257,275.3 257,256.5 257,259.3 257,278.8 257,278.2 257,264.5 258,285.1 258,271.1 258,265.8 258,276.7 258,277.4 258,285.2 259,275.0 259,277.9 259,260.9 259,266.4 259,268.4 259,276.7 259,261.5 260,273.2 260,276.9 260,263.3 260,269.8 260,254.4 260,274.7 261,273.6 261,278.4 261,288.3 261,273.4 261,263.6 261,278.3 261,285.7 262,255.5 262,272.8 262,268.5 262,280.4 262,263.0 262,255.9 263,277.6 263,274.3 263,278.9 263,260.0 263,280.5 263,262.1 263,270.6 264,258.7 264,278.1 264,255.5 264,260.4 264,274.6 264,272.1 265,275.9 265,280.0 265,281.9 265,279.8 265,271.3 265,255.2 266,267.8 266,280.3 266,259.1 266,273.7 266,271.4 266,279.0 266,279.3 267,272.3 267,280.5 267,277.9 267,286.4 267,282.4 267,270.5 268,233.2 268,259.2 268,244.8 268,261.6 268,263.5 268,281.0 268,272.0 269,245.5 269,247.7 269,270.0 269,275.9 269,245.1 269,273.2 270,255.3 270,277.8 270,268.8 270,260.4 270,268.0 270,273.5 270,268.5 271,268.6 271,262.6 271,258.8 271,255.7 271,260.1 271,268.9 272,264.6 272,257.3 272,266.3 272,277.7 272,269.8 272,245.3 272,288.2 273,278.5 273,265.7 273,275.6 273,273.7 273,278.9 273,262.8 274,269.8 274,264.4 274,285.9 274,265.6 274,263.1 274,267.4 274,270.8 275,268.5 275,263.8 275,273.2 275,263.6 275,278.8 275,274.1 276,273.5 276,280.2 276,282.6 276,286.1 276,283.1 276,272.5 276,257.6 277,277.3 277,258.8 277,247.0 277,251.3 277,255.5 277,282.5 278,274.1 278,264.9 278,254.4 278,258.1 278,243.0 278,261.9 278,274.1 279,265.5 279,255.2 279,271.5 279,255.5 279,286.6 279,274.9 280,263.2 280,263.0 280,256.4 280,259.1 280,281.0 280,281.0 280,271.2 281,286.2 281,269.6 281,278.7 281,265.6 281,266.9 281,251.2 282,265.1 282,245.9 282,270.7 282,280.4 282,279.2 282,281.7 282,269.3 283,236.6 283,270.0 283,280.4 283,269.8 283,264.9 283,260.9 284,273.0 284,259.1 284,247.1 284,254.1 284,265.6 284,269.6 284,263.8 285,255.9 285,276.0 285,272.4 285,271.5 285,261.9 285,273.9 286,263.2 286,258.8 286,265.0 286,265.4 286,273.1 286,278.1 286,272.3 287,270.7 287,268.7 287,273.1 287,278.2 287,278.3 287,267.5 288,272.7 288,264.6 288,249.9 288,252.6 288,267.9 288,250.8 288,254.5 289,264.8 289,245.1 289,254.9 289,271.1 289,271.1 289,249.1 290,266.5 290,272.9 290,271.6 290,279.1 290,280.4 290,272.0 290,279.5 291,268.7 291,278.6 291,262.1 291,281.9 291,248.9 291,265.8 292,272.9 292,258.2 292,238.9 292,246.7 292,266.6 292,260.9 292,270.0 293,279.7 293,281.7 293,269.4 293,257.4 293,246.7 293,253.0 294,275.1 294,245.5 294,259.9 294,278.7 294,276.1 294,274.8 294,255.9 295,272.9 295,284.6 295,281.0 295,265.7 295,266.5 295,280.6 296,262.9 296,256.3 296,260.1 296,264.9 296,259.0 296,277.4 296,273.2 297,287.0 297,242.6 297,249.5 297,284.6 297,269.3 297,275.1 298,265.1 298,249.8 298,243.5 298,259.8 298,270.0 298,276.9 299,287.3 299,272.9 299,279.4 299,266.8 299,264.4 299,268.0 299,263.9 300,253.7 300,258.8 300,272.1 300,279.2 300,257.4 300,272.2 301,261.2 301,267.2 301,257.6 301,266.7 301,237.6 301,275.1 301,278.0 302,250.9 302,271.1 302,272.1 302,255.6 302,278.3 302,252.0 303,260.3 303,257.5 303,271.1 303,247.3 303,262.4 303,261.8 303,261.8 304,268.9 304,274.0 304,281.2 304,283.1 304,262.5 304,267.2 305,267.6 305,284.4 305,274.7 305,283.2 305,274.2 305,265.3 305,241.8 306,256.5 306,274.4 306,273.1 306,280.8 306,277.8 306,265.7 307,265.5 307,270.5 307,264.8 307,268.5 307,279.0 307,275.5 307,194.9 308,263.8 308,271.4 308,267.9 308,265.5 308,259.4 308,283.3 309,249.5 309,274.6 309,279.9 309,257.4 309,274.2 309,276.6 309,266.6 310,262.2 310,267.2 310,275.9 310,285.4 310,261.0 310,286.0 311,280.7 311,271.4 311,263.9 311,257.4 311,254.4 311,271.1 311,261.0 312,280.8 312,271.1 312,265.8 312,280.5 312,257.8 312,266.1 313,269.4 313,284.1 313,270.7 313,262.0 313,281.0 313,271.1 313,275.1 314,276.1 314,254.4 314,260.0 314,267.0 314,252.4 314,274.4 315,271.0 315,270.7 315,274.1 315,256.4 315,260.4 315,272.0 315,279.9 316,259.4 316,277.1 316,272.3 316,266.9 316,283.8 316,264.0 317,272.3 317,264.7 317,277.4 317,264.1 317,270.6 317,249.0 317,273.5 318,254.1 318,271.6 318,248.1 318,274.4 318,267.4 318,287.6 319,284.0 319,265.8 319,269.3 319,258.5 319,270.5 319,245.5 319,268.9 320,261.0 320,244.7 320,257.4 320,275.8 320,271.2 320,263.9 321,278.7 321,277.5 321,284.4 321,277.4 321,281.5 321,280.2 321,263.9 322,265.3 322,260.1 322,263.3 322,265.9 322,260.7 322,258.0 323,265.7 323,270.7 323,280.8 323,283.2 323,252.9 323,279.2 323,266.9 324,257.1 324,264.4 324,283.0 324,266.1 324,269.8 324,263.6 325,275.8 325,268.6 325,282.2 325,259.6 325,277.1 325,284.6 325,276.4 326,254.7 326,249.7 326,246.2 326,241.7 326,262.9 326,261.3 327,268.3 327,284.7 327,266.5 327,277.0 327,268.0 327,269.0 327,275.0 328,267.3 328,265.2 328,278.8 328,287.9 328,241.2 328,263.4 329,268.8 329,275.9 329,278.9 329,275.1 329,269.4 329,281.1 329,273.2 330,276.0 330,270.2 330,267.0 330,263.5 330,261.2 330,273.8 331,256.0 331,237.4 331,277.7 331,267.6 331,277.5 331,275.4 331,268.9 332,271.7 332,274.1 332,240.6 332,254.2 332,259.9 332,264.8 333,278.3 333,286.4 333,280.2 333,285.3 333,279.1 333,283.2 334,276.9 334,263.5 334,275.1 334,282.4 334,277.2 334,268.3 334,265.9 335,258.3 335,252.7 335,261.7 335,275.0 335,280.4 335,269.8 336,260.0 336,259.3 336,267.0 336,279.0 336,266.4 336,267.1 336,260.3 337,286.6 337,279.1 337,267.2 337,270.4 337,279.5 337,274.0 338,278.2 338,267.2 338,275.4 338,270.6 338,284.2 338,269.9 338,276.2 339,272.7 339,278.1 339,265.0 339,272.5 339,281.8 339,272.6 340,273.6 340,277.1 340,283.2 340,261.5 340,253.7 340,253.2 340,267.2 341,272.3 341,260.6 341,272.2 341,281.2 341,281.7 341,266.9 342,260.8 342,276.7 342,282.6 342,277.2 342,277.2 342,267.3 342,278.3 343,279.6 343,279.6 343,273.4 343,274.6 343,281.9 343,265.7 344,271.9 344,271.4 344,259.4 344,266.4 344,267.3 344,273.6 344,282.4 345,279.4 345,273.7 345,266.0 345,278.8 345,274.0 345,265.2 346,260.0 346,262.3 346,267.7 346,267.6 346,275.4 346,263.9 346,281.3 347,281.6 347,278.0 347,271.1 347,256.4 347,264.4 347,276.4 348,279.9 348,270.1 348,280.5 348,266.0 348,275.4 348,271.4 348,270.0 349,262.5 349,265.9 349,273.4 349,286.7 349,280.2 349,261.6 350,279.5 350,269.1 350,271.9 350,270.0 350,283.5 350,266.7 350,257.2 351,277.2 351,265.8 351,251.4 351,270.9 351,278.1 351,270.5 352,268.9 352,263.5 352,249.0 352,267.0 352,267.3 352,279.4 352,277.1 353,270.6 353,285.6 353,270.5 353,263.1 353,253.0 353,266.6 354,279.5 354,272.5 354,281.2 354,285.3 354,274.7 354,281.7 354,261.5 355,268.9 355,262.3 355,274.5 355,246.2 355,270.9 355,263.6 356,278.2 356,268.6 356,284.1 356,278.7 356,279.3 356,285.6 356,279.3 357,273.5 357,271.8 357,258.6 357,253.4 357,269.0 357,254.8 358,264.3 358,267.3 358,260.7 358,284.0 358,266.7 358,275.0 358,280.0 359,271.9 359,260.7 359,250.2 359,270.0 359,254.0 359,281.3 360,276.3 360,276.5 360,282.6 360,257.2 360,261.4 360,258.2 360,272.0 361,263.7 361,268.1 361,264.1 361,270.8 361,283.3 361,269.1 362,258.9 362,271.0 362,274.9 362,266.8 362,267.5 362,281.8 362,277.2 363,278.7 363,266.6 363,267.1 363,253.6 363,277.7 363,269.0 364,278.1 364,273.2 364,285.3 364,274.7 364,279.2 364,275.0 364,279.9 365,276.3 365,272.3 365,270.0 365,274.9 365,258.4 365,267.6 366,272.3 366,258.7 366,263.0 366,267.7 366,282.7 366,274.8 367,253.0 367,261.3 367,267.3 367,274.4 367,271.9 367,271.0 367,273.7 368,273.7 368,282.9 368,279.4 368,275.8 368,271.8 368,269.1 369,277.2 369,275.1 369,274.6 369,266.2 369,277.6 369,267.7 369,271.0 370,275.4 370,255.1 370,273.8 370,265.9 370,265.8 370,270.8 371,272.2 371,280.4 371,258.0 371,281.2 371,285.5 371,261.2 371,277.5 372,271.9 372,269.5 372,275.0 372,285.2 372,275.7 372,272.0 373,265.6 373,274.1 373,274.5 373,277.0 373,264.1 373,263.2 373,272.9 374,264.4 374,279.3 374,264.9 374,275.6 374,262.8 374,266.9 375,285.2 375,270.3 375,276.4 375,280.4 375,279.8 375,272.2 375,275.9 376,269.5 376,273.4 376,261.5 376,265.0 376,283.1 376,284.8 377,278.3 377,273.4 377,276.4 377,279.2 377,271.9 377,272.7 377,262.6 378,273.1 378,281.4 378,276.8 378,269.1 378,260.3 378,272.5 379,268.1 379,271.3 379,276.9 379,276.0 379,268.2 379,274.8 379,265.4 380,280.3 380,260.6 380,269.6 380,268.0 380,276.4 380,258.7 381,267.9 381,261.2 381,264.5 381,263.7 381,270.4 381,265.7 381,277.1 382,269.0 382,252.4 382,268.7 382,269.1 382,267.4 382,271.6 383,258.3 383,264.7 383,281.5 383,276.9 383,277.6 383,265.1 383,276.9 384,277.6 384,288.3 384,276.8 384,261.1 384,267.4 384,273.4 385,274.0 385,261.0 385,273.0 385,270.8 385,268.3 385,273.1 385,287.5 386,285.8 386,274.5 386,269.3 386,272.5 386,275.5 386,268.6 387,273.1 387,281.8 387,269.2 387,275.4 387,268.2 387,265.5 387,283.1 388,258.5 388,258.9 388,279.3 388,281.0 388,286.4 388,271.1 389,274.8 389,275.4 389,276.7 389,272.5 389,277.2 389,272.8 389,273.7 390,282.3 390,261.9 390,269.6 390,276.6 390,280.8 390,277.4 391,266.8 391,271.5 391,285.1 391,265.7 391,280.6 391,256.8 391,275.6 392,277.8 392,274.6 392,269.0 392,277.1 392,251.1 392,282.0 393,267.1 393,269.3 393,278.0 393,273.7 393,269.9 393,285.3 393,287.1 394,280.5 394,274.1 394,271.7 394,273.2 394,279.4 394,263.7 395,267.3 395,264.5 395,281.7 395,282.0 395,272.7 395,270.8 395,275.1 396,280.6 396,277.0 396,270.2 396,285.2 396,284.2 396,271.1 397,266.3 397,269.6 397,263.7 397,270.8 397,267.7 397,267.0 397,270.4 398,281.9 398,272.5 398,267.5 398,269.4 398,261.2 398,274.4 399,282.5 399,271.8 399,277.0 399,271.2 399,289.3 399,284.3 400,270.8 400,274.3 400,275.1 400,258.5 400,277.4 400,273.9 400,267.5 401,268.6 401,262.9 401,265.9 401,273.8 401,276.4 401,278.2 402,272.4 402,272.1 402,261.3 402,267.0 402,256.7 402,274.8 402,278.1 403,276.6 403,261.1 403,267.3 403,267.6 403,273.2 403,261.3 404,267.8 404,287.5 404,273.7 404,269.9 404,265.1 404,271.1 404,272.0 405,268.5 405,263.4 405,264.9 405,270.3 405,267.2 405,265.7 406,261.2 406,272.6 406,280.1 406,270.3 406,268.7 406,282.3 406,275.2 407,286.9 407,291.9 407,266.0 407,268.0 407,272.7 407,258.6 408,273.0 408,287.0 408,270.5 408,269.5 408,274.7 408,277.9 408,267.4 409,265.5 409,277.0 409,279.7 409,264.9 409,270.0 409,268.4 410,279.2 410,282.9 410,291.0 410,277.1 410,273.7 410,277.1 410,275.3 411,274.5 411,264.1 411,283.3 411,280.0 411,266.6 411,267.0 412,270.5 412,280.9 412,256.9 412,257.5 412,264.2 412,276.9 412,272.2 413,275.3 413,274.5 413,257.9 413,270.1 413,280.4 413,278.5 414,269.7 414,257.3 414,282.2 414,262.0 414,271.0 414,252.4 414,267.4 415,271.9 415,266.5 415,269.9 415,272.3 415,269.0 415,285.5 416,272.6 416,280.0 416,276.9 416,280.6 416,275.3 416,266.3 416,268.7 417,273.7 417,275.6 417,277.7 417,274.8 417,271.4 417,264.4 418,271.6 418,247.4 418,266.2 418,257.0 418,265.9 418,260.6 418,260.7 419,274.3 419,283.3 419,276.8 419,284.5 419,273.3 419,253.8 420,257.6 420,259.2 420,271.3 420,266.4 420,281.9 420,284.0 420,282.2 421,268.4 421,273.7 421,266.4 421,258.4 421,265.0 421,269.6 422,272.3 422,275.8 422,265.9 422,273.4 422,252.4 422,278.1 422,264.3 423,278.5 423,260.8 423,272.7 423,274.9 423,275.5 423,271.2 424,273.5 424,273.6 424,275.8 424,284.0 424,272.0 424,268.7 424,268.3 425,267.8 425,258.2 425,259.7 425,262.9 425,270.7 425,277.6 426,282.1 426,286.7 426,281.7 426,264.4 426,265.6 426,282.5 426,279.9 427,268.3 427,272.2 427,277.6 427,276.5 427,285.2 427,277.1 428,268.4 428,283.6 428,273.1 428,277.2 428,282.7 428,266.1 428,271.3 429,266.2 429,270.1 429,275.3 429,266.1 429,281.4 429,272.4 430,278.6 430,283.9 430,280.7 430,285.8 430,277.0 430,262.2 430,263.3 431,268.5 431,272.3 431,274.1 431,286.7 431,265.3 431,273.2 432,263.7 432,272.9 432,275.1 432,285.7 432,269.3 432,277.2 433,285.8 433,269.0 433,281.4 433,266.8 433,278.5 433,266.0 433,280.2 434,267.0 434,262.7 434,263.7 434,268.2 434,263.0 434,261.6 435,267.2 435,275.3 435,269.7 435,286.4 435,284.0 435,278.3 435,281.7 436,269.1 436,274.4 436,270.0 436,269.7 436,265.6 436,266.0 437,269.7 437,275.6 437,277.1 437,273.4 437,279.4 437,265.5 437,273.7 438,266.3 438,259.5 438,269.5 438,279.1 438,277.5 438,279.3 439,275.3 439,268.4 439,265.4 439,255.4 439,265.1 439,275.0 439,264.1 440,266.4 440,258.2 440,252.8 440,266.3 440,266.2 440,260.6 441,269.9 441,281.7 441,277.8 441,279.1 441,244.8 441,270.5 441,269.5 442,251.0 442,259.0 442,266.5 442,281.1 442,273.8 442,276.3 443,277.6 443,284.7 443,279.5 443,274.3 443,279.8 443,284.7 443,272.2 444,275.7 444,266.5 444,272.2 444,279.3 444,281.6 444,275.7 445,286.9 445,282.3 445,262.3 445,266.2 445,261.0 445,268.4 445,275.8 446,275.9 446,268.5 446,270.9 446,274.7 446,265.8 446,264.3 447,273.7 447,260.7 447,273.3 447,285.2 447,272.0 447,124.4 447,263.3 448,268.2 448,259.9 448,267.5 448,272.9 448,277.0 448,275.2 449,269.0 449,261.6 449,258.4 449,266.4 449,274.8 449,273.6 449,270.7 450,272.9 450,261.4 450,278.5 450,269.6 450,264.5 450,260.9 451,275.4 451,280.5 451,271.7 451,278.2 451,276.8 451,279.1 451,256.3 452,289.3 452,285.0 452,265.1 452,275.1 452,286.1 452,274.3 453,257.2 453,270.7 453,266.7 453,281.6 453,278.7 453,275.0 453,269.6 454,272.5 454,271.4 454,279.0 454,275.4 454,272.0 454,271.3 455,263.2 455,277.6 455,262.7 455,253.1 455,271.6 455,269.8 455,275.0 456,270.2 456,279.5 456,274.8 456,266.4 456,253.4 456,259.1 457,257.1 457,250.8 457,261.6 457,268.9 457,255.3 457,271.8 457,263.5 458,264.3 458,261.1 458,262.1 458,268.0 458,272.0 458,281.1 459,287.7 459,277.2 459,281.5 459,285.7 459,280.1 459,276.7 459,272.9 460,259.3 460,276.3 460,278.2 460,270.4 460,280.7 460,267.8 461,271.5 461,289.6 461,268.4 461,280.5 461,268.0 461,273.3 461,270.8 462,267.8 462,256.7 462,273.0 462,273.1 462,262.9 462,261.6 463,286.6 463,268.2 463,272.5 463,267.7 463,280.5 463,253.6 463,276.1 464,276.2 464,278.8 464,271.7 464,270.8 464,261.0 464,263.5 465,273.0 465,278.5 465,273.7 465,280.6 465,273.9 465,268.6 465,275.1 466,267.2 466,283.7 466,281.0 466,283.6 466,287.2 466,266.4 467,263.1 467,272.7 467,273.0 467,258.5 467,253.7 467,285.4 468,277.5 468,286.0 468,281.5 468,272.4 468,275.6 468,257.9 468,274.6 469,266.0 469,275.1 469,257.0 469,272.7 469,269.0 469,269.7 470,262.2 470,273.2 470,279.5 470,265.9 470,269.6 470,280.8 470,280.9 471,280.2 471,277.9 471,280.5 471,260.0 471,271.3 471,275.1 472,279.5 472,260.2 472,264.3 472,272.4 472,260.3 472,260.0 472,265.7 473,275.5 473,270.5 473,287.6 473,270.0 473,274.6 473,271.2 474,263.6 474,277.3 474,273.0 474,283.7 474,281.5 474,285.3 474,274.9 475,263.4 475,279.8 475,279.5 475,272.1 475,267.5 475,270.8 476,282.4 476,273.5 476,276.9 476,274.1 476,270.3 476,273.4 476,266.3 477,269.1 477,250.9 477,267.9 477,278.2 477,261.3 477,262.1 478,272.8 478,277.9 478,267.3 478,266.5 478,275.6 478,272.1 478,283.0 479,274.3 479,284.6 479,272.2 479,271.5 479,273.8 479,270.3 480,281.8 480,269.0 480,265.0 480,258.6 480,267.4 480,255.4 480,255.6 481,271.2 481,264.5 481,252.0 481,267.4 481,262.3 481,273.2 482,267.9 482,282.4 482,276.8 482,266.2 482,275.3 482,287.9 482,272.0 483,269.2 483,263.9 483,272.7 483,267.6 483,279.3 483,285.7 484,277.1 484,280.4 484,252.6 484,278.8 484,267.3 484,270.7 484,277.5 485,268.0 485,276.3 485,263.9 485,275.6 485,272.8 485,277.7 486,272.9 486,283.0 486,279.3 486,277.3 486,275.5 486,279.9 486,274.9 487,271.4 487,259.1 487,273.0 487,277.8 487,259.7 487,281.0 488,266.2 488,280.1 488,274.9 488,287.1 488,286.3 488,285.1 488,269.5 489,277.6 489,261.1 489,272.8 489,275.2 489,278.1 489,279.3 490,276.9 490,268.9 490,266.2 490,275.0 490,269.9 490,282.7 490,275.5 491,276.3 491,276.8 491,266.7 491,269.4 491,260.1 491,282.2 492,272.7 492,279.7 492,263.0 492,276.7 492,283.7 492,280.7 492,278.6 493,282.5 493,275.2 493,274.5 493,281.8 493,270.9 493,258.2 494,263.7 494,265.3 494,270.2 494,282.8 494,288.2 494,285.2 494,273.2 495,260.2 495,272.1 495,261.3 495,277.6 495,258.3 495,272.6 496,285.7 496,270.5 496,278.3 496,274.2 496,278.5 496,267.9 496,276.7 497,260.9 497,274.0 497,262.1 497,264.8 497,263.8 497,255.2 498,271.8 498,269.7 498,274.2 498,273.5 498,276.7 498,268.0 498,280.6 499,279.3 499,273.5 499,268.3 499,272.8 499,263.2 499,283.6 500,275.1 500,283.0 500,275.4 500,277.4 500,274.5 500,273.1 501,263.6 501,266.7 501,274.2 501,272.5 501,267.5 501,251.6 501,263.8 502,275.3 502,272.4 502,267.8 502,280.3 502,268.4 502,271.3 503,272.9 503,266.7 503,268.4 503,286.8 503,276.6 503,269.0 503,278.8 504,270.7 504,276.5 504,278.9 504,273.7 504,285.4 504,274.1 505,273.9 505,275.8 505,271.1 505,273.2 505,278.5 505,282.5 505,285.2 506,276.3 506,261.5 506,263.0 506,255.3 506,261.8 506,276.8 507,277.2 507,279.8 507,285.6 507,272.9 507,274.6 507,282.4 507,267.6 508,267.6 508,279.7 508,271.3 508,282.2 508,277.0 508,267.6 509,286.9 509,266.6 509,287.8 509,273.4 509,280.1 509,270.2 509,278.2 510,278.3 510,247.8 510,266.6 510,268.8 510,278.9 510,279.1 511,287.2 511,285.7 511,271.3 511,266.9 511,276.8 511,272.4 511,270.9 512,274.1 512,265.5 512,266.7 512,261.5 512,285.1 512,275.4 513,273.7 513,254.0 513,287.6 513,261.9 513,270.8 513,257.3 513,272.8 514,276.2 514,270.8 514,278.6 514,291.1 514,284.4 514,280.4 515,276.4 515,268.9 515,264.6 515,270.3 515,279.6 515,284.0 515,274.0 516,258.8 516,269.8 516,263.6 516,281.5 516,265.3 516,260.9 517,257.5 517,257.3 517,266.7 517,271.1 517,271.9 517,270.6 517,282.3 518,283.1 518,280.8 518,267.3 518,278.0 518,265.4 518,258.9 519,271.1 519,284.5 519,279.2 519,271.4 519,259.7 519,269.0 519,274.9 520,276.8 520,278.5 520,281.7 520,268.6 520,256.9 520,272.8 521,278.6 521,268.3 521,283.5 521,277.7 521,270.7 521,258.9 521,275.3 522,275.0 522,262.4 522,282.1 522,282.4 522,263.0 522,255.5 523,272.6 523,273.7 523,275.0 523,282.9 523,255.9 523,281.1 523,260.0 524,266.3 524,268.4 524,266.0 524,278.6 524,278.7 524,282.3 525,286.3 525,285.7 525,283.5 525,284.3 525,269.9 525,284.8 525,261.2 526,256.8 526,265.8 526,261.9 526,275.0 526,281.0 526,279.2 527,273.7 527,271.0 527,258.1 527,273.7 527,269.8 527,259.2 527,270.9 528,275.2 528,262.9 528,270.9 528,277.3 528,251.9 528,252.1 529,274.6 529,280.4 529,276.3 529,271.0 529,263.8 529,263.7 529,272.3 530,272.1 530,274.2 530,270.1 530,279.7 530,272.3 530,271.5 531,263.1 531,283.4 531,279.7 531,270.1 531,271.9 531,270.8 531,273.6 532,269.9 532,263.2 532,267.3 532,282.3 532,269.9 532,276.0 533,284.5 533,274.1 533,271.7 533,286.3 533,272.3 533,273.0 534,266.5 534,277.7 534,268.2 534,285.7 534,283.7 534,279.3 534,273.3 535,274.7 535,257.2 535,274.2 535,248.4 535,283.5 535,271.1 536,263.7 536,246.7 536,272.2 536,281.1 536,277.7 536,275.1 536,266.8 537,277.5 537,270.8 537,284.8 537,269.7 537,254.2 537,273.6 538,262.9 538,271.5 538,273.7 538,266.1 538,269.5 538,292.4 538,286.6 539,257.9 539,268.6 539,274.8 539,280.7 539,278.9 539,273.9 540,288.4 540,260.1 540,272.8 540,278.7 540,267.6 540,282.4 540,270.7 541,283.7 541,278.0 541,288.6 541,271.7 541,282.9 541,276.4 542,268.7 542,283.1 542,266.3 542,275.0 542,270.2 542,263.3 542,274.0 543,266.4 543,275.5 543,278.0 543,262.4 543,281.1 543,276.7 544,274.1 544,270.3 544,266.2 544,274.1 544,275.9 544,283.0 544,275.8 545,283.6 545,283.2 545,269.7 545,274.6 545,274.1 545,268.8 546,273.7 546,280.9 546,281.7 546,270.4 546,273.3 546,283.1 546,283.4 547,275.0 547,254.1 547,279.6 547,263.4 547,274.3 547,266.3 548,274.4 548,275.1 548,277.0 548,280.0 548,283.6 548,260.6 548,279.3 549,277.0 549,272.7 549,259.8 549,263.5 549,258.9 549,263.5 550,266.5 550,282.4 550,274.8 550,274.9 550,264.0 550,265.2 550,266.3 551,264.2 551,270.7 551,267.3 551,279.3 551,279.1 551,266.3 552,271.8 552,278.3 552,277.6 552,274.7 552,274.5 552,286.2 552,269.9 553,271.4 553,271.9 553,273.2 553,275.0 553,277.7 553,270.2 554,274.5 554,278.6 554,276.1 554,272.5 554,281.5 554,284.5 554,274.8 555,282.5 555,269.5 555,266.2 555,263.6 555,263.8 555,275.8 556,272.8 556,275.3 556,267.8 556,276.3 556,283.7 556,279.9 556,281.0 557,271.5 557,266.8 557,272.4 557,283.8 557,267.1 557,272.1 558,266.0 558,259.3 558,273.7 558,259.5 558,269.0 558,278.8 558,273.2 559,278.4 559,269.1 559,290.4 559,271.9 559,279.9 559,272.8 560,280.0 560,261.3 560,272.3 560,274.5 560,269.3 560,289.7 560,263.9 561,284.3 561,267.4 561,263.5 561,282.8 561,283.8 561,287.0 562,286.8 562,273.1 562,274.5 562,276.4 562,267.7 562,276.4 562,276.2 563,281.7 563,287.4 563,292.1 563,284.8 563,276.7 563,266.5 564,270.7 564,278.3 564,280.5 564,276.1 564,272.5 564,271.6 564,272.7 565,266.3 565,285.0 565,261.4 565,250.0 565,271.5 565,263.0 566,277.2 566,281.3 566,272.3 566,263.5 566,271.9 566,250.7 567,273.7 567,288.9 567,272.8 567,277.6 567,260.0 567,278.0 567,278.3 568,279.6 568,279.7 568,270.5 568,265.9 568,274.2 568,275.7 569,275.8 569,254.1 569,278.7 569,249.0 569,260.6 569,266.3 569,247.4 570,272.8 570,274.7 570,271.9 570,278.8 570,273.1 570,274.4 571,267.9 571,267.9 571,277.4 571,272.2 571,285.5 571,279.3 571,267.6 572,261.7 572,261.0 572,269.7 572,278.6 572,272.1 572,284.7 573,280.8 573,276.4 573,268.6 573,276.0 573,254.9 573,263.9 573,276.1 574,277.3 574,277.8 574,282.5 574,263.1 574,271.5 574,276.1 575,282.6 575,277.6 575,270.8 575,267.6 575,251.1 575,270.6 575,279.2 576,276.1 576,283.1 576,282.8 576,285.7 576,275.2 576,287.4 577,260.9 577,276.3 577,282.3 577,283.9 577,280.2 577,278.4 577,276.4 578,259.7 578,281.1 578,279.9 578,266.2 578,281.9 578,273.6 579,268.1 579,270.6 579,272.4 579,274.3 579,276.7 579,277.7 579,273.0 580,278.6 580,272.8 580,279.2 580,273.4 580,276.9 580,272.0 581,285.5 581,243.6 581,282.0 581,283.0 581,279.9 581,263.4 581,280.4 582,273.7 582,267.1 582,256.0 582,267.3 582,282.6 582,277.3 583,272.1 583,275.3 583,256.5 583,271.5 583,278.0 583,267.8 583,269.9 584,268.6 584,262.2 584,261.6 584,274.3 584,276.1 584,270.8 585,285.9 585,268.4 585,284.1 585,272.7 585,277.6 585,275.9 585,282.3 586,273.6 586,283.9 586,270.1 586,273.7 586,272.6 586,276.0 587,271.7 587,272.1 587,271.0 587,275.7 587,275.1 587,287.3 587,259.9 588,280.7 588,258.1 588,266.7 588,272.0 588,286.0 588,274.5 589,264.0 589,266.3 589,271.5 589,273.1 589,275.7 589,274.2 589,273.7 590,276.4 590,281.1 590,278.9 590,272.5 590,272.6 590,266.3 591,271.1 591,261.5 591,273.4 591,277.3 591,277.9 591,278.0 591,276.5 592,267.6 592,284.7 592,271.9 592,282.8 592,285.4 592,278.8 593,274.3 593,265.2 593,276.5 593,268.0 593,281.0 593,275.9 593,263.6 594,276.5 594,266.6 594,260.7 594,265.9 594,274.2 594,278.8 595,269.8 595,274.8 595,254.8 595,263.6 595,266.0 595,271.6 595,262.2 596,277.4 596,274.5 596,265.3 596,267.1 596,275.0 596,260.5 597,271.6 597,281.2 597,277.3 597,278.9 597,272.2 597,275.6 597,283.6 598,273.2 598,286.3 598,282.6 598,272.5 598,277.5 598,278.3 599,265.7 599,267.8 599,266.3 599,267.9 599,281.3 599,278.8 599,258.9 600,265.3 600,257.3 600,276.6 600,274.3 600,269.9 600,272.5 601,287.5 601,274.1 601,273.6 601,282.2 601,270.4 601,278.4 602,266.5 602,269.1 602,276.2 602,274.1 602,287.9 602,268.8 602,265.5 603,279.5 603,281.3 603,272.1 603,253.7 603,269.2 603,283.7 604,279.5 604,289.3 604,283.8 604,279.5 604,273.6 604,268.0 604,280.5 605,264.3 605,280.9 605,279.7 605,280.7 605,283.8 605,277.3 606,281.3 606,274.7 606,282.1 606,286.3 606,261.2 606,267.3 606,274.0 607,275.5 607,274.8 607,286.8 607,270.0 607,284.3 607,278.8 608,261.8 608,279.4 608,283.4 608,266.2 608,270.7 608,272.2 608,279.9 609,282.6 609,263.8 609,271.0 609,272.4 609,271.0 609,283.1 610,266.1 610,264.3 610,280.6 610,273.3 610,278.3 610,274.9 610,290.1 611,278.6 611,273.0 611,278.3 611,283.1 611,281.5 611,284.3 612,271.8 612,282.3 612,272.2 612,259.6 612,272.8 612,269.5 612,262.6 613,281.9 613,272.5 613,266.8 613,272.1 613,282.6 613,284.2 614,283.5 614,286.3 614,274.8 614,276.7 614,285.7 614,283.9 614,279.8 615,290.1 615,273.7 615,272.7 615,279.2 615,280.9 615,270.7 616,263.7 616,263.3 616,275.4 616,274.7 616,286.5 616,276.4 616,270.3 617,273.8 617,265.9 617,270.8 617,268.6 617,274.9 617,266.3 618,272.4 618,280.4 618,276.5 618,277.3 618,260.1 618,275.6 618,284.1 619,279.1 619,267.8 619,270.2 619,273.6 619,272.9 619,268.8 620,282.4 620,274.1 620,268.8 620,270.1 620,265.7 620,269.4 620,270.6 621,266.9 621,275.3 621,271.9 621,269.1 621,269.8 621,266.2 622,272.0 622,270.0 622,271.6 622,252.8 622,270.5 622,266.9 622,279.0 623,276.0 623,279.6 623,280.7 623,283.0 623,274.5 623,271.4 624,271.1 624,270.8 624,264.6 624,250.3 624,275.1 624,278.5 624,277.0 625,261.0 625,286.7 625,274.5 625,279.3 625,269.9 625,273.3 626,256.9 626,281.1 626,277.6 626,280.9 626,285.7 626,265.4 626,268.0 627,273.4 627,269.8 627,269.0 627,280.8 627,255.4 627,279.0 628,268.5 628,270.5 628,283.4 628,269.8 628,292.5 628,277.7 628,289.1 629,266.1 629,273.3 629,280.8 629,277.6 629,261.6 629,271.6 630,269.7 630,273.6 630,275.3 630,281.6 630,278.4 630,269.0 630,279.5 631,266.1 631,261.7 631,272.6 631,259.1 631,280.8 631,282.6 632,286.0 632,274.0 632,272.0 632,265.9 632,284.4 632,276.5 632,273.6 633,285.3 633,283.7 633,281.9 633,280.9 633,273.0 633,285.5 634,280.2 634,280.0 634,263.2 634,261.6 634,264.7 634,276.0 635,258.7 635,270.1 635,262.1 635,284.5 635,287.5 635,283.8 635,285.8 636,287.6 636,273.5 636,275.1 636,254.7 636,279.0 636,266.4 637,279.6 637,264.0 637,273.9 637,284.1 637,268.0 637,274.2 637,281.3 638,268.8 638,279.5 638,273.1 638,275.1 638,256.5 638,265.9 639,277.3 639,267.9 639,275.4 639,279.1 639,282.6 639,283.5 639,272.9 640,270.2 640,250.8 640,277.9 640,277.4 640,269.7 640,259.4 641,260.5 641,277.0 641,286.1 641,289.8 641,274.8 641,273.7 641,261.0 642,259.4 642,279.7 642,283.9 642,280.4 642,288.0 642,276.2 643,265.9 643,247.3 643,276.0 643,256.9 643,252.3 643,275.1 643,271.6 644,264.2 644,281.2 644,276.5 644,267.0 644,264.1 644,274.0 645,281.8 645,255.3 645,278.0 645,276.0 645,271.0 645,275.8 645,270.1 646,271.9 646,277.5 646,289.2 646,289.3 646,279.3 646,269.6 647,282.0 647,276.9 647,269.4 647,287.7 647,269.0 647,278.0 647,277.9 648,270.5 648,275.2 648,268.2 648,281.7 648,280.9 648,273.9 649,264.6 649,281.9 649,271.2 649,272.2 649,266.6 649,279.3 649,267.7 650,267.1 650,251.0 650,270.0 650,269.0 650,276.7 650,294.5 651,278.7 651,280.8 651,284.3 651,281.7 651,285.9 651,275.2 651,272.2 652,280.0 652,275.7 652,270.1 652,272.7 652,256.1 652,261.6 653,264.4 653,277.3 653,273.3 653,286.0 653,276.3 653,273.3 653,275.7 654,284.3 654,263.5 654,267.9 654,272.6 654,267.0 654,281.1 655,286.8 655,279.5 655,274.2 655,274.6 655,276.9 655,281.5 655,286.9 656,268.9 656,279.1 656,273.9 656,287.4 656,289.8 656,286.4 657,266.3 657,274.9 657,293.9 657,286.6 657,288.9 657,276.6 657,275.1 658,276.2 658,275.5 658,280.3 658,284.8 658,282.7 658,281.1 659,270.9 659,273.2 659,271.3 659,280.8 659,280.5 659,273.5 659,277.4 660,280.8 660,281.2 660,265.7 660,274.7 660,268.6 660,260.3 661,271.0 661,256.9 661,274.5 661,271.0 661,284.4 661,270.7 661,275.1 662,262.4 662,280.5 662,278.3 662,275.7 662,262.7 662,281.5 663,275.7 663,275.8 663,270.6 663,286.4 663,283.3 663,271.4 663,272.7 664,267.8 664,272.5 664,275.4 664,275.5 664,268.2 664,281.8 665,279.5 665,263.7 665,258.8 665,272.6 665,251.9 665,262.5 665,259.6 666,277.6 666,281.0 666,273.1 666,271.4 666,275.3 666,268.9 667,279.4 667,283.7 667,277.8 667,272.8 667,274.4 667,264.8 668,257.8 668,281.6 668,273.9 668,272.1 668,264.5 668,281.7 668,275.2 669,265.7 669,255.7 669,268.2 669,282.1 669,272.4 669,277.9 670,282.7 670,270.4 670,266.6 670,268.2 670,276.6 670,280.9 670,286.8 671,277.3 671,282.7 671,271.6 671,258.6 671,278.6 671,274.7 672,280.3 672,271.2 672,279.0" stroke="#0000ff" marker-start="url(#mb)" marker-mid="url(#mb)" marker-end="url(#mb)"/>
</g>
<g stroke="#737373" stroke-width="1" fill="none" shape-rendering="crispEdges"><path d="M46.5 2.5H684.5V300.5H46.5Z"/><path d="M46.5 300.5H53 M684.5 300.5H678"/><path d="M46.5 204.5H53 M684.5 204.5H678"/><path d="M46.5 108.5H53 M684.5 108.5H678"/><path d="M46.5 12.5H53 M684.5 12.5H678"/><path d="M109.5 300.5V294 M109.5 2.5V9"/><path d="M214.5 300.5V294 M214.5 2.5V9"/><path d="M318.5 300.5V294 M318.5 2.5V9"/><path d="M423.5 300.5V294 M423.5 2.5V9"/><path d="M527.5 300.5V294 M527.5 2.5V9"/><path d="M632.5 300.5V294 M632.5 2.5V9"/></g>
<text class="tx" x="40" y="306.5" font-size="17.25" text-anchor="end">0</text><text class="tx" x="40" y="210.5" font-size="17.25" text-anchor="end">5</text><text class="tx" x="40" y="114.5" font-size="17.25" text-anchor="end">10</text><text class="tx" x="40" y="18.5" font-size="17.25" text-anchor="end">15</text><text class="tx" x="108.8" y="322.4" font-size="17.25" text-anchor="middle">1995</text><text class="tx" x="213.40000000000003" y="322.4" font-size="17.25" text-anchor="middle">2000</text><text class="tx" x="318.00000000000006" y="322.4" font-size="17.25" text-anchor="middle">2005</text><text class="tx" x="422.6000000000001" y="322.4" font-size="17.25" text-anchor="middle">2010</text><text class="tx" x="527.1999999999999" y="322.4" font-size="17.25" text-anchor="middle">2015</text><text class="tx" x="631.8" y="322.4" font-size="17.25" text-anchor="middle">2020</text><text class="tx" transform="translate(13,150) rotate(-90)" font-size="17.25" text-anchor="middle">SLR RMS fit [cm]</text><rect x="197.5" y="14.5" width="353" height="108" fill="#fff" stroke="#737373" stroke-width="1" shape-rendering="crispEdges"/><path d="M201 24.0L218 24.0L235 24.0" stroke="#00ff00" stroke-width="1" fill="none" marker-mid="url(#mg)"/><text class="tx" x="237.8" y="29.8" font-size="17.25">SLRF2020:</text><text class="tx" x="419.70000000000005" y="29.8" font-size="17.25">mean = 2.57 cm</text><path d="M201 45.4L218 45.4L235 45.4" stroke="#00ffff" stroke-width="1" fill="none" marker-mid="url(#mc)"/><text class="tx" x="237.8" y="51.150000000000006" font-size="17.25">SLRF2014:</text><text class="tx" x="419.70000000000005" y="51.150000000000006" font-size="17.25">mean = 2.39 cm</text><path d="M201 66.8L218 66.8L235 66.8" stroke="#ff00ff" stroke-width="1" fill="none" marker-mid="url(#mm)"/><text class="tx" x="237.8" y="72.5" font-size="17.25">SLRF2020, ILRS DHF:</text><text class="tx" x="416.5" y="72.5" font-size="17.25">mean = 1.96 cm</text><path d="M201 88.19999999999999L218 88.19999999999999L235 88.19999999999999" stroke="#ff0000" stroke-width="1" fill="none" marker-mid="url(#mr)"/><text class="tx" x="237.8" y="93.85000000000001" font-size="17.25">SLRF2014, RB est.:</text><text class="tx" x="418.70000000000005" y="93.85000000000001" font-size="17.25">mean = 1.79 cm</text><path d="M201 109.6L218 109.6L235 109.6" stroke="#0000ff" stroke-width="1" fill="none" marker-mid="url(#mb)"/><text class="tx" x="237.8" y="115.2" font-size="17.25">SLRF2020, RB est.:</text><text class="tx" x="418.70000000000005" y="115.2" font-size="17.25">mean = 1.73 cm</text></svg></body></html>
